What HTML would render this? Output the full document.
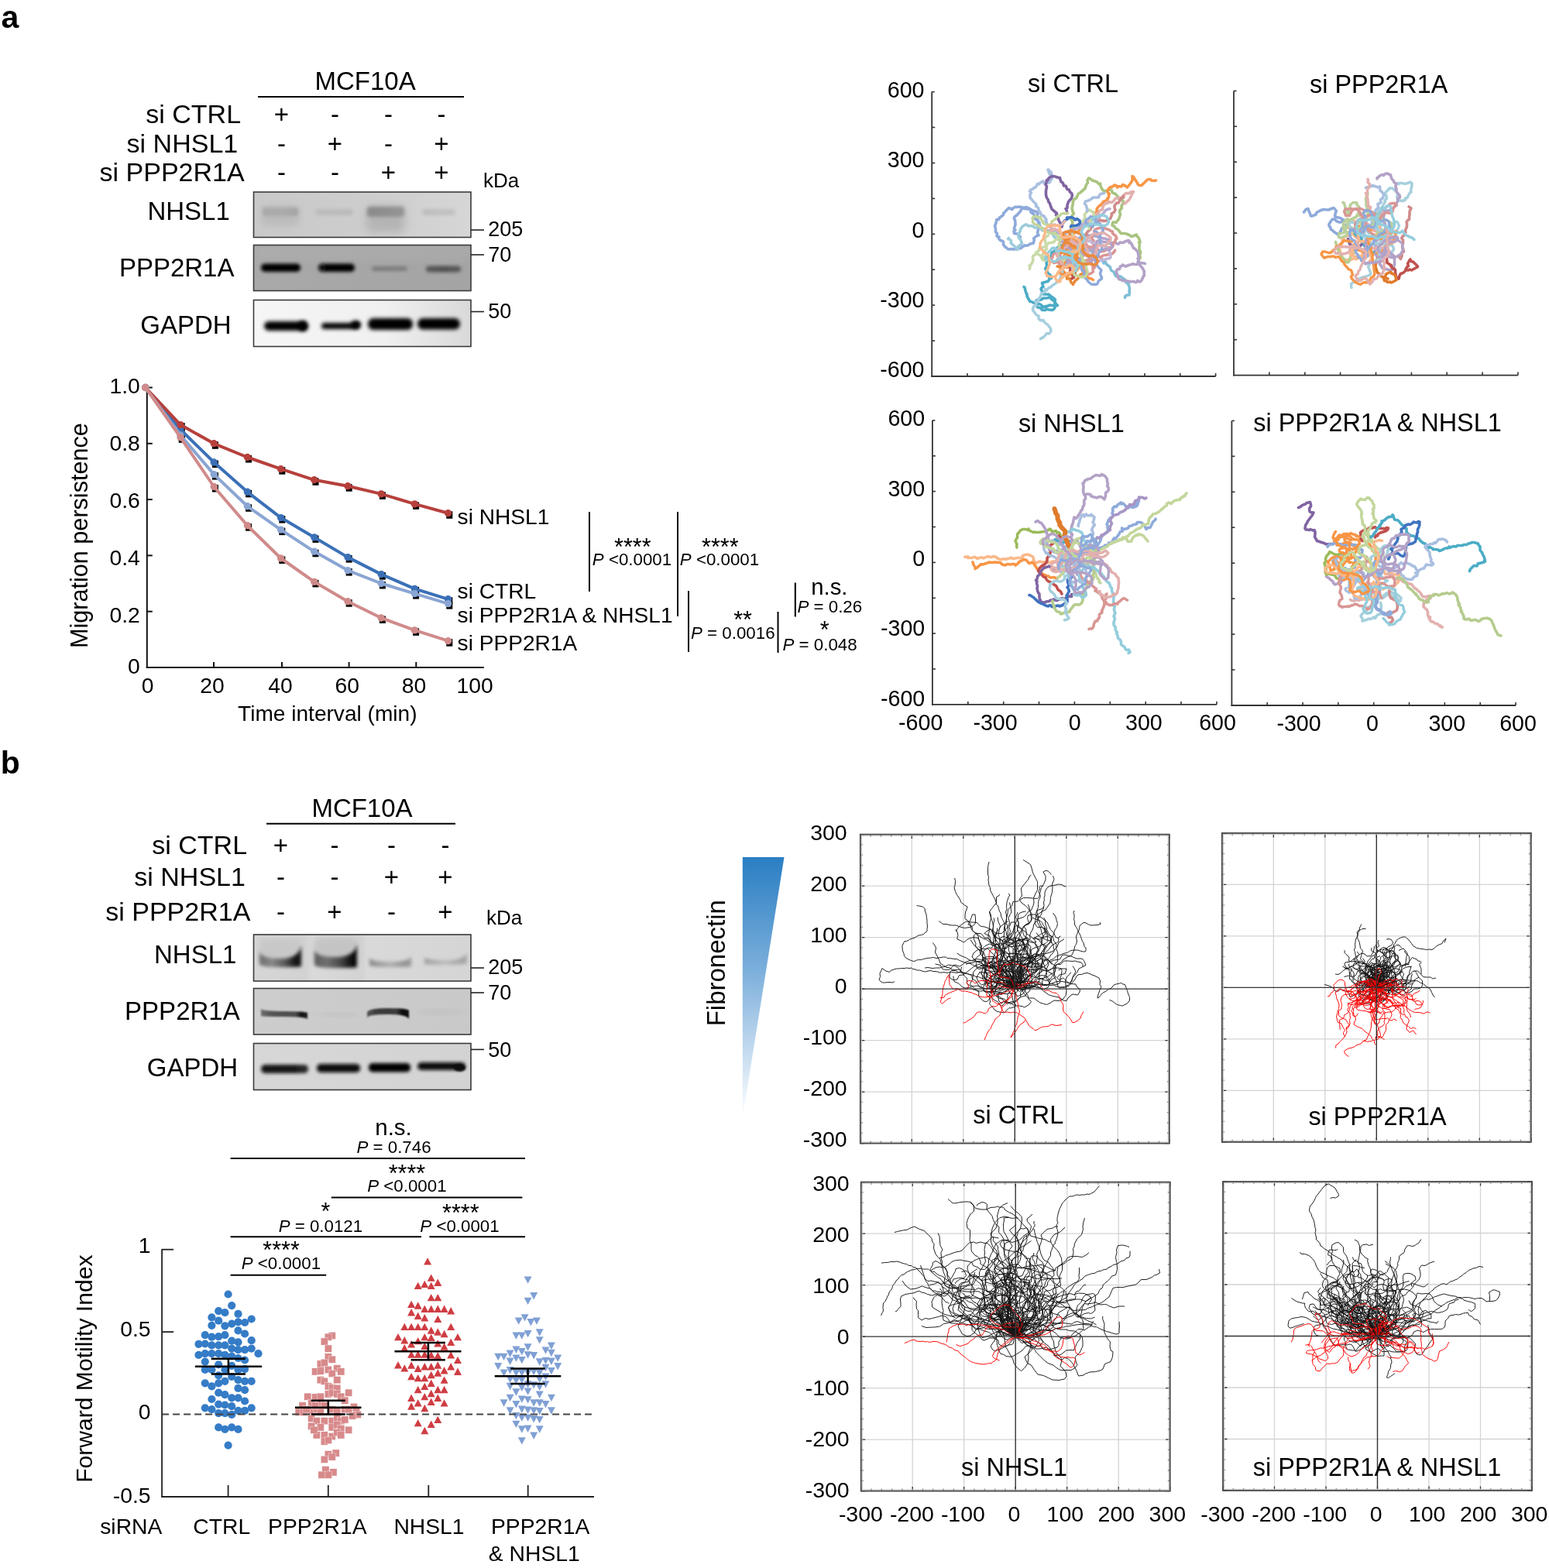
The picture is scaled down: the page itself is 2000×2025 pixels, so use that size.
<!DOCTYPE html>
<html><head><meta charset="utf-8"><title>Figure</title>
<style>
html,body{margin:0;padding:0;background:#fff;}
body{width:2000px;height:2025px;overflow:hidden;}
svg{display:block;font-family:"Liberation Sans", Arial, sans-serif;}
</style></head><body>
<svg width="2000" height="2025" viewBox="0 0 2000 2025">
<rect width="2000" height="2025" fill="#fff"/>
<text x="1.5" y="35.6" font-size="41" font-weight="bold">a</text>
<text x="0.8" y="998.7" font-size="41" font-weight="bold">b</text>
<defs>
<filter id="b2" x="-50%" y="-50%" width="200%" height="200%"><feGaussianBlur stdDeviation="2"/></filter>
<filter id="b3" x="-50%" y="-50%" width="200%" height="200%"><feGaussianBlur stdDeviation="3"/></filter>
<filter id="b4" x="-50%" y="-80%" width="200%" height="260%"><feGaussianBlur stdDeviation="4"/></filter>
<filter id="b6" x="-50%" y="-80%" width="200%" height="260%"><feGaussianBlur stdDeviation="6"/></filter>
<filter id="b1" x="-50%" y="-50%" width="200%" height="200%"><feGaussianBlur stdDeviation="1.3"/></filter>
<filter id="b25" x="-50%" y="-80%" width="200%" height="260%"><feGaussianBlur stdDeviation="2.5"/></filter>
</defs>
<text x="471.6" y="116.2" font-size="33" text-anchor="middle">MCF10A</text>
<line x1="333.0" y1="125.0" x2="599.0" y2="125.0" stroke="#000" stroke-width="2"/>
<text x="249.7" y="159.1" font-size="34" text-anchor="middle">si CTRL</text>
<text x="363.5" y="159.1" font-size="33" text-anchor="middle">+</text>
<text x="432.5" y="159.1" font-size="33" text-anchor="middle">-</text>
<text x="501.5" y="159.1" font-size="33" text-anchor="middle">-</text>
<text x="570.0" y="159.1" font-size="33" text-anchor="middle">-</text>
<text x="235.4" y="196.8" font-size="34" text-anchor="middle">si NHSL1</text>
<text x="363.5" y="196.8" font-size="33" text-anchor="middle">-</text>
<text x="432.5" y="196.8" font-size="33" text-anchor="middle">+</text>
<text x="501.5" y="196.8" font-size="33" text-anchor="middle">-</text>
<text x="570.0" y="196.8" font-size="33" text-anchor="middle">+</text>
<text x="222.1" y="234.0" font-size="34" text-anchor="middle">si PPP2R1A</text>
<text x="363.5" y="234.0" font-size="33" text-anchor="middle">-</text>
<text x="432.5" y="234.0" font-size="33" text-anchor="middle">-</text>
<text x="501.5" y="234.0" font-size="33" text-anchor="middle">+</text>
<text x="570.0" y="234.0" font-size="33" text-anchor="middle">+</text>
<text x="647.0" y="242.0" font-size="26" text-anchor="middle">kDa</text>
<text x="243.6" y="283.9" font-size="33" text-anchor="middle">NHSL1</text>
<text x="228.2" y="357.0" font-size="33" text-anchor="middle">PPP2R1A</text>
<text x="239.9" y="430.5" font-size="33" text-anchor="middle">GAPDH</text>
<clipPath id="cp1"><rect x="327.5" y="248" width="280.5" height="58.5"/></clipPath>
<linearGradient id="bg1" x1="0" y1="0" x2="1" y2="0"><stop offset="0" stop-color="#c9c9c9"/><stop offset="0.5" stop-color="#cdcdcd"/><stop offset="1" stop-color="#d6d6d6"/></linearGradient>
<g clip-path="url(#cp1)"><rect x="327.5" y="248" width="280.5" height="58.5" fill="url(#bg1)"/>
<rect x="337.0" y="266.0" width="50.0" height="26.0" rx="6" fill="#bcbcbc" opacity="1.0" filter="url(#b4)"/>
<linearGradient id="hg1" x1="0" y1="0" x2="1" y2="0"><stop offset="0" stop-color="#a8a8a8"/><stop offset="0.5" stop-color="#acacac"/><stop offset="1" stop-color="#a4a4a4"/></linearGradient><rect x="339" y="268" width="46" height="11" rx="4" fill="url(#hg1)" filter="url(#b2)"/>
<linearGradient id="hg2" x1="0" y1="0" x2="1" y2="0"><stop offset="0" stop-color="#bcbcbc"/><stop offset="1" stop-color="#bababa"/></linearGradient><rect x="407" y="270" width="49" height="8" rx="4" fill="url(#hg2)" filter="url(#b2)"/>
<rect x="473.0" y="266.0" width="50.0" height="34.0" rx="6" fill="#b4b4b4" opacity="1.0" filter="url(#b6)"/>
<linearGradient id="hg3" x1="0" y1="0" x2="1" y2="0"><stop offset="0" stop-color="#8a8a8a"/><stop offset="0.5" stop-color="#8e8e8e"/><stop offset="1" stop-color="#969696"/></linearGradient><rect x="474" y="267" width="48" height="13" rx="4" fill="url(#hg3)" filter="url(#b2)"/>
<linearGradient id="hg4" x1="0" y1="0" x2="1" y2="0"><stop offset="0" stop-color="#bcbcbc"/><stop offset="1" stop-color="#c2c2c2"/></linearGradient><rect x="545" y="270" width="43" height="8" rx="4" fill="url(#hg4)" filter="url(#b2)"/>
</g>
<rect x="327.5" y="248.0" width="280.5" height="58.5" fill="none" stroke="#3a3a3a" stroke-width="1.6"/>
<clipPath id="cp2"><rect x="327.5" y="316.5" width="280.5" height="59.0"/></clipPath>
<linearGradient id="bg2" x1="0" y1="0" x2="1" y2="0"><stop offset="0" stop-color="#a9a9a9"/><stop offset="1" stop-color="#a4a4a4"/></linearGradient>
<g clip-path="url(#cp2)"><rect x="327.5" y="316.5" width="280.5" height="59.0" fill="url(#bg2)"/>
<rect x="327" y="316" width="282" height="20" fill="#b0b0b0" opacity="0.5" filter="url(#b6)"/>
<linearGradient id="hg5" x1="0" y1="0" x2="1" y2="0"><stop offset="0" stop-color="#050505"/><stop offset="1" stop-color="#000"/></linearGradient><rect x="337" y="340.5" width="51" height="10.5" rx="5" fill="url(#hg5)" filter="url(#b2)"/>
<linearGradient id="hg6" x1="0" y1="0" x2="1" y2="0"><stop offset="0" stop-color="#080808"/><stop offset="1" stop-color="#000"/></linearGradient><rect x="411" y="340.5" width="47" height="10.5" rx="5" fill="url(#hg6)" filter="url(#b2)"/>
<linearGradient id="hg7" x1="0" y1="0" x2="1" y2="0"><stop offset="0" stop-color="#7a7a7a"/><stop offset="1" stop-color="#7e7e7e"/></linearGradient><rect x="480" y="344" width="46" height="6" rx="3" fill="url(#hg7)" filter="url(#b2)"/>
<linearGradient id="hg8" x1="0" y1="0" x2="1" y2="0"><stop offset="0" stop-color="#5a5a5a"/><stop offset="0.5" stop-color="#4e4e4e"/><stop offset="1" stop-color="#5a5a5a"/></linearGradient><rect x="550" y="343.5" width="45" height="8.0" rx="4" fill="url(#hg8)" filter="url(#b2)"/>
</g>
<rect x="327.5" y="316.5" width="280.5" height="59.0" fill="none" stroke="#3a3a3a" stroke-width="1.6"/>
<clipPath id="cp3"><rect x="327.5" y="387.5" width="280.5" height="60.0"/></clipPath>
<linearGradient id="bg3" x1="0" y1="0" x2="1" y2="0"><stop offset="0" stop-color="#f6f6f6"/><stop offset="0.6" stop-color="#f0f0f0"/><stop offset="1" stop-color="#d9d9d9"/></linearGradient>
<g clip-path="url(#cp3)"><rect x="327.5" y="387.5" width="280.5" height="60.0" fill="url(#bg3)"/>
<linearGradient id="hg9" x1="0" y1="0" x2="1" y2="0"><stop offset="0" stop-color="#000"/><stop offset="1" stop-color="#000"/></linearGradient><rect x="341" y="415" width="55" height="12" rx="6" fill="url(#hg9)" filter="url(#b25)"/>
<ellipse cx="391.5" cy="421.0" rx="6.5" ry="6.8" fill="#000" opacity="1.0" filter="url(#b25)"/>
<linearGradient id="hg10" x1="0" y1="0" x2="1" y2="0"><stop offset="0" stop-color="#000"/><stop offset="1" stop-color="#000"/></linearGradient><rect x="415" y="417" width="49" height="8" rx="4" fill="url(#hg10)" filter="url(#b25)"/>
<ellipse cx="459.5" cy="419.0" rx="6.5" ry="5.2" fill="#000" opacity="1.0" filter="url(#b25)"/>
<linearGradient id="hg11" x1="0" y1="0" x2="1" y2="0"><stop offset="0" stop-color="#000"/><stop offset="1" stop-color="#000"/></linearGradient><rect x="475" y="411" width="58" height="15" rx="7" fill="url(#hg11)" filter="url(#b25)"/>
<linearGradient id="hg12" x1="0" y1="0" x2="1" y2="0"><stop offset="0" stop-color="#000"/><stop offset="1" stop-color="#000"/></linearGradient><rect x="539" y="411" width="55" height="14.5" rx="7" fill="url(#hg12)" filter="url(#b25)"/>
</g>
<rect x="327.5" y="387.5" width="280.5" height="60.0" fill="none" stroke="#3a3a3a" stroke-width="1.6"/>
<line x1="608.0" y1="297.0" x2="625.0" y2="297.0" stroke="#222" stroke-width="1.6"/>
<text x="630.3" y="305.0" font-size="27">205</text>
<line x1="608.0" y1="329.0" x2="625.0" y2="329.0" stroke="#222" stroke-width="1.6"/>
<text x="630.3" y="338.0" font-size="27">70</text>
<line x1="608.0" y1="402.5" x2="625.0" y2="402.5" stroke="#222" stroke-width="1.6"/>
<text x="630.3" y="411.0" font-size="27">50</text>
<text x="467.5" y="1054.6" font-size="33" text-anchor="middle">MCF10A</text>
<line x1="344.0" y1="1063.7" x2="588.0" y2="1063.7" stroke="#000" stroke-width="2"/>
<text x="257.7" y="1103.4" font-size="34" text-anchor="middle">si CTRL</text>
<text x="362.5" y="1103.4" font-size="33" text-anchor="middle">+</text>
<text x="432.0" y="1103.4" font-size="33" text-anchor="middle">-</text>
<text x="505.5" y="1103.4" font-size="33" text-anchor="middle">-</text>
<text x="575.0" y="1103.4" font-size="33" text-anchor="middle">-</text>
<text x="245.1" y="1143.7" font-size="34" text-anchor="middle">si NHSL1</text>
<text x="362.5" y="1143.7" font-size="33" text-anchor="middle">-</text>
<text x="432.0" y="1143.7" font-size="33" text-anchor="middle">-</text>
<text x="505.5" y="1143.7" font-size="33" text-anchor="middle">+</text>
<text x="575.0" y="1143.7" font-size="33" text-anchor="middle">+</text>
<text x="229.8" y="1189.2" font-size="34" text-anchor="middle">si PPP2R1A</text>
<text x="362.5" y="1189.2" font-size="33" text-anchor="middle">-</text>
<text x="432.0" y="1189.2" font-size="33" text-anchor="middle">+</text>
<text x="505.5" y="1189.2" font-size="33" text-anchor="middle">-</text>
<text x="575.0" y="1189.2" font-size="33" text-anchor="middle">+</text>
<text x="651.0" y="1194.0" font-size="26" text-anchor="middle">kDa</text>
<text x="252.2" y="1243.5" font-size="33" text-anchor="middle">NHSL1</text>
<text x="235.4" y="1317.0" font-size="33" text-anchor="middle">PPP2R1A</text>
<text x="248.5" y="1390.0" font-size="33" text-anchor="middle">GAPDH</text>
<clipPath id="cp4"><rect x="327.5" y="1207" width="280.5" height="60"/></clipPath>
<linearGradient id="bg4" x1="0" y1="0" x2="1" y2="0"><stop offset="0" stop-color="#d6d6d6"/><stop offset="0.24" stop-color="#d2d2d2"/><stop offset="0.27" stop-color="#dadada"/><stop offset="0.5" stop-color="#d3d3d3"/><stop offset="0.52" stop-color="#d9d9d9"/><stop offset="1" stop-color="#d5d5d5"/></linearGradient>
<g clip-path="url(#cp4)"><rect x="327.5" y="1207" width="280.5" height="60" fill="url(#bg4)"/>
<rect x="334.0" y="1212.0" width="55.0" height="34.0" rx="6" fill="#c8c8c8" opacity="1.0" filter="url(#b4)"/>
<rect x="405.0" y="1210.0" width="56.0" height="36.0" rx="6" fill="#c4c4c4" opacity="1.0" filter="url(#b4)"/>
<linearGradient id="hg13" x1="0" y1="0" x2="1" y2="0"><stop offset="0" stop-color="#6e6e6e"/><stop offset="0.3" stop-color="#888"/><stop offset="0.6" stop-color="#5a5a5a"/><stop offset="0.88" stop-color="#0e0e0e"/><stop offset="1" stop-color="#1e1e1e"/></linearGradient><path d="M335 1229Q338 1238 362.0 1238Q386 1238 389 1221L389 1248Q386 1249 362.0 1249Q338 1249 335 1245Z" fill="url(#hg13)" filter="url(#b2)"/>
<linearGradient id="hg14" x1="0" y1="0" x2="1" y2="0"><stop offset="0" stop-color="#5e5e5e"/><stop offset="0.3" stop-color="#707070"/><stop offset="0.6" stop-color="#4a4a4a"/><stop offset="0.88" stop-color="#0c0c0c"/><stop offset="1" stop-color="#1a1a1a"/></linearGradient><path d="M406 1227Q409 1236 433.5 1236Q458 1236 461 1219L461 1249Q458 1250 433.5 1250Q409 1250 406 1246Z" fill="url(#hg14)" filter="url(#b2)"/>
<linearGradient id="hg15" x1="0" y1="0" x2="1" y2="0"><stop offset="0" stop-color="#8c8c8c"/><stop offset="0.2" stop-color="#9c9c9c"/><stop offset="0.5" stop-color="#b0b0b0"/><stop offset="0.85" stop-color="#929292"/><stop offset="1" stop-color="#9a9a9a"/></linearGradient><path d="M477 1237Q480 1242 504.0 1242Q528 1242 531 1235L531 1248Q528 1249 504.0 1249Q480 1249 477 1247Z" fill="url(#hg15)" filter="url(#b2)"/>
<linearGradient id="hg16" x1="0" y1="0" x2="1" y2="0"><stop offset="0" stop-color="#a0a0a0"/><stop offset="0.2" stop-color="#acacac"/><stop offset="0.5" stop-color="#bcbcbc"/><stop offset="0.9" stop-color="#a4a4a4"/><stop offset="1" stop-color="#aaaaaa"/></linearGradient><path d="M548 1236Q551 1240 575.5 1240Q600 1240 603 1230L603 1244Q600 1246 575.5 1246Q551 1246 548 1245Z" fill="url(#hg16)" filter="url(#b2)"/>
</g>
<rect x="327.5" y="1207.0" width="280.5" height="60.0" fill="none" stroke="#3a3a3a" stroke-width="1.6"/>
<clipPath id="cp5"><rect x="327.5" y="1276.5" width="280.5" height="59.5"/></clipPath>
<linearGradient id="bg5" x1="0" y1="0" x2="1" y2="0"><stop offset="0" stop-color="#cdcdcd"/><stop offset="1" stop-color="#c9c9c9"/></linearGradient>
<g clip-path="url(#cp5)"><rect x="327.5" y="1276.5" width="280.5" height="59.5" fill="url(#bg5)"/>
<linearGradient id="hg17" x1="0" y1="0" x2="1" y2="0"><stop offset="0" stop-color="#707070"/><stop offset="0.2" stop-color="#555"/><stop offset="0.75" stop-color="#4a4a4a"/><stop offset="0.86" stop-color="#151515"/><stop offset="1" stop-color="#222"/></linearGradient><path d="M337 1303Q340 1306 367.0 1306Q394 1306 397 1308L397 1316Q394 1313 367.0 1313Q340 1313 337 1312Z" fill="url(#hg17)" filter="url(#b1)"/>
<ellipse cx="437.5" cy="1311.0" rx="27.5" ry="2.0" fill="#c0c0c0" opacity="1.0" filter="url(#b3)"/>
<linearGradient id="hg18" x1="0" y1="0" x2="1" y2="0"><stop offset="0" stop-color="#5a5a5a"/><stop offset="0.2" stop-color="#3c3c3c"/><stop offset="0.7" stop-color="#3a3a3a"/><stop offset="0.85" stop-color="#0a0a0a"/><stop offset="1" stop-color="#111"/></linearGradient><path d="M474 1307Q477 1302 501.0 1302Q525 1302 528 1305L528 1316Q525 1310 501.0 1310Q477 1310 474 1314Z" fill="url(#hg18)" filter="url(#b1)"/>
<ellipse cx="569.0" cy="1307.0" rx="29.0" ry="2.5" fill="#bfbfbf" opacity="1.0" filter="url(#b3)"/>
</g>
<rect x="327.5" y="1276.5" width="280.5" height="59.5" fill="none" stroke="#3a3a3a" stroke-width="1.6"/>
<clipPath id="cp6"><rect x="327.5" y="1347.5" width="280.5" height="60.0"/></clipPath>
<linearGradient id="bg6" x1="0" y1="0" x2="1" y2="0"><stop offset="0" stop-color="#d7d7d7"/><stop offset="1" stop-color="#d3d3d3"/></linearGradient>
<g clip-path="url(#cp6)"><rect x="327.5" y="1347.5" width="280.5" height="60.0" fill="url(#bg6)"/>
<linearGradient id="hg19" x1="0" y1="0" x2="1" y2="0"><stop offset="0" stop-color="#1a1a1a"/><stop offset="0.7" stop-color="#151515"/><stop offset="0.85" stop-color="#262626"/><stop offset="1" stop-color="#2a2a2a"/></linearGradient><rect x="337" y="1375" width="61" height="11" rx="5" fill="url(#hg19)" filter="url(#b2)"/>
<linearGradient id="hg20" x1="0" y1="0" x2="1" y2="0"><stop offset="0" stop-color="#0e0e0e"/><stop offset="1" stop-color="#0a0a0a"/></linearGradient><rect x="409" y="1374" width="56" height="11" rx="5" fill="url(#hg20)" filter="url(#b2)"/>
<linearGradient id="hg21" x1="0" y1="0" x2="1" y2="0"><stop offset="0" stop-color="#050505"/><stop offset="1" stop-color="#050505"/></linearGradient><rect x="476" y="1373" width="54" height="11.5" rx="5" fill="url(#hg21)" filter="url(#b2)"/>
<linearGradient id="hg22" x1="0" y1="0" x2="1" y2="0"><stop offset="0" stop-color="#0a0a0a"/><stop offset="1" stop-color="#0a0a0a"/></linearGradient><rect x="539" y="1372" width="62" height="10" rx="5" fill="url(#hg22)" filter="url(#b2)"/>
<ellipse cx="593.5" cy="1379.0" rx="7.5" ry="4.5" fill="#0a0a0a" opacity="1.0" filter="url(#b1)"/>
</g>
<rect x="327.5" y="1347.5" width="280.5" height="60.0" fill="none" stroke="#3a3a3a" stroke-width="1.6"/>
<line x1="608.0" y1="1250.0" x2="625.0" y2="1250.0" stroke="#222" stroke-width="1.6"/>
<text x="630.3" y="1258.0" font-size="27">205</text>
<line x1="608.0" y1="1282.0" x2="625.0" y2="1282.0" stroke="#222" stroke-width="1.6"/>
<text x="630.3" y="1291.0" font-size="27">70</text>
<line x1="608.0" y1="1355.4" x2="625.0" y2="1355.4" stroke="#222" stroke-width="1.6"/>
<text x="630.3" y="1364.6" font-size="27">50</text>
<line x1="189.8" y1="499.5" x2="189.8" y2="863.0" stroke="#111" stroke-width="2"/>
<line x1="188.8" y1="862.0" x2="624.8" y2="862.0" stroke="#111" stroke-width="2"/>
<line x1="189.8" y1="789.7" x2="196.8" y2="789.7" stroke="#111" stroke-width="2"/>
<line x1="189.8" y1="717.4" x2="196.8" y2="717.4" stroke="#111" stroke-width="2"/>
<line x1="189.8" y1="645.1" x2="196.8" y2="645.1" stroke="#111" stroke-width="2"/>
<line x1="189.8" y1="572.8" x2="196.8" y2="572.8" stroke="#111" stroke-width="2"/>
<line x1="189.8" y1="500.5" x2="196.8" y2="500.5" stroke="#111" stroke-width="2"/>
<line x1="276.0" y1="862.0" x2="276.0" y2="855.0" stroke="#111" stroke-width="2"/>
<line x1="364.0" y1="862.0" x2="364.0" y2="855.0" stroke="#111" stroke-width="2"/>
<line x1="450.6" y1="862.0" x2="450.6" y2="855.0" stroke="#111" stroke-width="2"/>
<line x1="537.3" y1="862.0" x2="537.3" y2="855.0" stroke="#111" stroke-width="2"/>
<text x="180.8" y="508.0" font-size="28.3" text-anchor="end">1.0</text>
<text x="180.8" y="582.3" font-size="28.3" text-anchor="end">0.8</text>
<text x="180.8" y="656.1" font-size="28.3" text-anchor="end">0.6</text>
<text x="180.8" y="729.8" font-size="28.3" text-anchor="end">0.4</text>
<text x="180.8" y="803.6" font-size="28.3" text-anchor="end">0.2</text>
<text x="180.8" y="869.6" font-size="28.3" text-anchor="end">0</text>
<text x="190.5" y="894.9" font-size="28.3" text-anchor="middle">0</text>
<text x="274.0" y="894.9" font-size="28.3" text-anchor="middle">20</text>
<text x="362.0" y="894.9" font-size="28.3" text-anchor="middle">40</text>
<text x="448.3" y="894.9" font-size="28.3" text-anchor="middle">60</text>
<text x="534.5" y="894.9" font-size="28.3" text-anchor="middle">80</text>
<text x="613.2" y="894.9" font-size="28.3" text-anchor="middle">100</text>
<text x="422.8" y="931.0" font-size="28.1" text-anchor="middle">Time interval (min)</text>
<text x="113.3" y="691.6" font-size="30.6" text-anchor="middle" transform="rotate(-90 113.3 691.6)">Migration persistence</text>
<rect x="230.7" y="552.2" width="8" height="9.5" fill="#000"/>
<rect x="273.9" y="594.5" width="8" height="9.5" fill="#000"/>
<rect x="317.1" y="632.8" width="8" height="9.5" fill="#000"/>
<rect x="360.3" y="666.1" width="8" height="9.5" fill="#000"/>
<rect x="403.5" y="691.4" width="8" height="9.5" fill="#000"/>
<rect x="446.7" y="717.1" width="8" height="9.5" fill="#000"/>
<rect x="489.9" y="739.1" width="8" height="9.5" fill="#000"/>
<rect x="533.1" y="757.9" width="8" height="9.5" fill="#000"/>
<rect x="576.3" y="771.3" width="8" height="9.5" fill="#000"/>
<rect x="230.7" y="546.1" width="8" height="9.5" fill="#000"/>
<rect x="273.9" y="570.3" width="8" height="9.5" fill="#000"/>
<rect x="317.1" y="588.0" width="8" height="9.5" fill="#000"/>
<rect x="360.3" y="603.2" width="8" height="9.5" fill="#000"/>
<rect x="403.5" y="617.3" width="8" height="9.5" fill="#000"/>
<rect x="446.7" y="625.2" width="8" height="9.5" fill="#000"/>
<rect x="489.9" y="635.4" width="8" height="9.5" fill="#000"/>
<rect x="533.1" y="648.4" width="8" height="9.5" fill="#000"/>
<rect x="576.3" y="660.3" width="8" height="9.5" fill="#000"/>
<rect x="230.7" y="559.5" width="8" height="9.5" fill="#000"/>
<rect x="273.9" y="610.1" width="8" height="9.5" fill="#000"/>
<rect x="317.1" y="651.3" width="8" height="9.5" fill="#000"/>
<rect x="360.3" y="681.6" width="8" height="9.5" fill="#000"/>
<rect x="403.5" y="709.8" width="8" height="9.5" fill="#000"/>
<rect x="446.7" y="734.1" width="8" height="9.5" fill="#000"/>
<rect x="489.9" y="751.0" width="8" height="9.5" fill="#000"/>
<rect x="533.1" y="764.1" width="8" height="9.5" fill="#000"/>
<rect x="576.3" y="777.1" width="8" height="9.5" fill="#000"/>
<rect x="230.7" y="562.3" width="8" height="9.5" fill="#000"/>
<rect x="273.9" y="626.0" width="8" height="9.5" fill="#000"/>
<rect x="317.1" y="676.2" width="8" height="9.5" fill="#000"/>
<rect x="360.3" y="718.5" width="8" height="9.5" fill="#000"/>
<rect x="403.5" y="748.9" width="8" height="9.5" fill="#000"/>
<rect x="446.7" y="774.2" width="8" height="9.5" fill="#000"/>
<rect x="489.9" y="795.5" width="8" height="9.5" fill="#000"/>
<rect x="533.1" y="811.4" width="8" height="9.5" fill="#000"/>
<rect x="576.3" y="825.2" width="8" height="9.5" fill="#000"/>
<polyline points="187.8,500.5 233.0,554.7 276.2,597.0 319.4,635.3 362.6,668.6 405.8,693.9 449.0,719.6 492.2,741.6 535.4,760.4 578.6,773.8" fill="none" stroke="#3b70b6" stroke-width="4" stroke-linejoin="round"/>
<circle cx="187.8" cy="500.5" r="4.7" fill="#3b70b6"/>
<circle cx="233.0" cy="554.7" r="4.7" fill="#3b70b6"/>
<circle cx="276.2" cy="597.0" r="4.7" fill="#3b70b6"/>
<circle cx="319.4" cy="635.3" r="4.7" fill="#3b70b6"/>
<circle cx="362.6" cy="668.6" r="4.7" fill="#3b70b6"/>
<circle cx="405.8" cy="693.9" r="4.7" fill="#3b70b6"/>
<circle cx="449.0" cy="719.6" r="4.7" fill="#3b70b6"/>
<circle cx="492.2" cy="741.6" r="4.7" fill="#3b70b6"/>
<circle cx="535.4" cy="760.4" r="4.7" fill="#3b70b6"/>
<circle cx="578.6" cy="773.8" r="4.7" fill="#3b70b6"/>
<polyline points="187.8,500.5 233.0,548.6 276.2,572.8 319.4,590.5 362.6,605.7 405.8,619.8 449.0,627.7 492.2,637.9 535.4,650.9 578.6,662.8" fill="none" stroke="#b6403c" stroke-width="4" stroke-linejoin="round"/>
<circle cx="187.8" cy="500.5" r="4.7" fill="#b6403c"/>
<circle cx="233.0" cy="548.6" r="4.7" fill="#b6403c"/>
<circle cx="276.2" cy="572.8" r="4.7" fill="#b6403c"/>
<circle cx="319.4" cy="590.5" r="4.7" fill="#b6403c"/>
<circle cx="362.6" cy="605.7" r="4.7" fill="#b6403c"/>
<circle cx="405.8" cy="619.8" r="4.7" fill="#b6403c"/>
<circle cx="449.0" cy="627.7" r="4.7" fill="#b6403c"/>
<circle cx="492.2" cy="637.9" r="4.7" fill="#b6403c"/>
<circle cx="535.4" cy="650.9" r="4.7" fill="#b6403c"/>
<circle cx="578.6" cy="662.8" r="4.7" fill="#b6403c"/>
<polyline points="187.8,500.5 233.0,562.0 276.2,612.6 319.4,653.8 362.6,684.1 405.8,712.3 449.0,736.6 492.2,753.5 535.4,766.6 578.6,779.6" fill="none" stroke="#8aa5d3" stroke-width="4" stroke-linejoin="round"/>
<circle cx="187.8" cy="500.5" r="4.7" fill="#8aa5d3"/>
<circle cx="233.0" cy="562.0" r="4.7" fill="#8aa5d3"/>
<circle cx="276.2" cy="612.6" r="4.7" fill="#8aa5d3"/>
<circle cx="319.4" cy="653.8" r="4.7" fill="#8aa5d3"/>
<circle cx="362.6" cy="684.1" r="4.7" fill="#8aa5d3"/>
<circle cx="405.8" cy="712.3" r="4.7" fill="#8aa5d3"/>
<circle cx="449.0" cy="736.6" r="4.7" fill="#8aa5d3"/>
<circle cx="492.2" cy="753.5" r="4.7" fill="#8aa5d3"/>
<circle cx="535.4" cy="766.6" r="4.7" fill="#8aa5d3"/>
<circle cx="578.6" cy="779.6" r="4.7" fill="#8aa5d3"/>
<polyline points="187.8,500.5 233.0,564.8 276.2,628.5 319.4,678.7 362.6,721.0 405.8,751.4 449.0,776.7 492.2,798.0 535.4,813.9 578.6,827.7" fill="none" stroke="#d08a8a" stroke-width="4" stroke-linejoin="round"/>
<circle cx="187.8" cy="500.5" r="4.7" fill="#d08a8a"/>
<circle cx="233.0" cy="564.8" r="4.7" fill="#d08a8a"/>
<circle cx="276.2" cy="628.5" r="4.7" fill="#d08a8a"/>
<circle cx="319.4" cy="678.7" r="4.7" fill="#d08a8a"/>
<circle cx="362.6" cy="721.0" r="4.7" fill="#d08a8a"/>
<circle cx="405.8" cy="751.4" r="4.7" fill="#d08a8a"/>
<circle cx="449.0" cy="776.7" r="4.7" fill="#d08a8a"/>
<circle cx="492.2" cy="798.0" r="4.7" fill="#d08a8a"/>
<circle cx="535.4" cy="813.9" r="4.7" fill="#d08a8a"/>
<circle cx="578.6" cy="827.7" r="4.7" fill="#d08a8a"/>
<text x="590.6" y="676.8" font-size="28.1">si NHSL1</text>
<text x="590.6" y="773.0" font-size="28.1">si CTRL</text>
<text x="590.6" y="804.0" font-size="28.1">si PPP2R1A &amp; NHSL1</text>
<text x="590.6" y="839.5" font-size="28.1">si PPP2R1A</text>
<line x1="761.0" y1="661.0" x2="761.0" y2="764.0" stroke="#000" stroke-width="2"/>
<line x1="875.0" y1="661.0" x2="875.0" y2="796.0" stroke="#000" stroke-width="2"/>
<line x1="889.0" y1="763.0" x2="889.0" y2="842.0" stroke="#000" stroke-width="2"/>
<line x1="1004.5" y1="790.0" x2="1004.5" y2="843.0" stroke="#000" stroke-width="2"/>
<line x1="1026.8" y1="752.5" x2="1026.8" y2="796.5" stroke="#000" stroke-width="2"/>
<text x="816.8" y="716.5" font-size="30.5" text-anchor="middle">****</text>
<text x="816.0" y="730.0" font-size="22.3" text-anchor="middle"><tspan font-style="italic">P</tspan> &lt;0.0001</text>
<text x="929.8" y="716.5" font-size="30.5" text-anchor="middle">****</text>
<text x="929.0" y="730.0" font-size="22.3" text-anchor="middle"><tspan font-style="italic">P</tspan> &lt;0.0001</text>
<text x="959.1" y="811.0" font-size="30.5" text-anchor="middle">**</text>
<text x="946.3" y="825.0" font-size="22.3" text-anchor="middle"><tspan font-style="italic">P</tspan> = 0.0016</text>
<text x="1070.9" y="767.7" font-size="29.3" text-anchor="middle">n.s.</text>
<text x="1071.3" y="790.6" font-size="22.3" text-anchor="middle"><tspan font-style="italic">P</tspan> = 0.26</text>
<text x="1064.8" y="824.0" font-size="30.5" text-anchor="middle">*</text>
<text x="1058.6" y="839.5" font-size="22.3" text-anchor="middle"><tspan font-style="italic">P</tspan> = 0.048</text>
<g transform="scale(0.5)" fill="none" stroke-width="7.2" stroke-linejoin="round" stroke-linecap="round">
<path d="M2746 605l-3-2-5-1-1 1-3-1-6 0-9 0-4-1-8-5-5-1-2-1-2-2-3-1-5 1-2-3-3-7-3-4 0-4-4-6-3-1-4-4 0-9-2-1-7-5-1-6-2-2-7 0-1 0-2-1-6-3-5-1-7-1-7 1-1-1-8 4-1 3-9-4-3 3-6 6-1 2-4 3 0 4-4 3-7 5 0 3-7 2 1 0-2 8-3 8 1 2 1 5 0 6 0 2 4 4-1 7 6 2-1 4 3 4 5 2 4 2 0 8 5 6 3 2 3 3 5 1 5-1 5 1 8-1 2-2 5 1 4-1 9-7 0 1 6-1 3 0 6-4 9-2 0-4 2-4-2-4 7-6 2-1 4-1-3-7 1-4 3-12 1-6 0-5-2 1-2-4 0-5-2-2 0-6 2-7-3-4-4-1-6-2-8-5-4-2-7-2-2 4-2-1-6 1-3 7-6 6-1 2-8 6-1 1 0 5 2 2 1 9 0 4-3 7 0 4 3 2-4 4 1 5 8 1 5 4 3 4" stroke="#8eaadb"/>
<path d="M2722 596l1 0-4-2-7-8-5-1-3-5-1-5-3-4 2-4-2-2-4-7-4-1-6-6 0-3-3-3-2-8-6-5 1-4-4-4-5-5-3-4-4-4 0-9 3-4-4-4 3-4 4-1 4-4 5-2 4-8 4 1 2-3 8-5 4 6 2 0 9-2 3-1 1-5 4-4 1-7-2-6-1-5-8-5 2 2-1-3 2 9 5 8-1 5" stroke="#a9bfe0"/>
<path d="M2742 586l1-4-6-7-2-4-4-8 2 0-6-8 2-1 0-3-6-5-7-6-1-3-2-5-1-3-1-4-3-3-2-7-3-4-1-4-1-4 0-8 0-2 1-5 1-7-3-4 1-2 2-10 2 1 4-7 4-2 5-2 7 1 2 1 6 2 4 0 1 5 2 5 5 4 2 7 5 0 3 7 1 2 5 1 0 2 3 5 3 2 2 5-1 4-2 6-4 3-1 2-2 2-3 9 0 7-4 2 3 6" stroke="#8064a2"/>
<path d="M2773 592l-2-6 1 0-4-4 2-9-4-6 1-6 1-3 2-3 3-3-3-6-2-8 1-5 2-7-1-3 2-4 2-5 5-2 2-4 4-8 2-1 2-1 6-5 3-3 4-3 2-7 2-4 3-4-1-6 3-6 5 2 3 3 5 2 9 3 4 5 4-1 1 6 4 9 3 3 6 2 5-2 4-2 6 0 3 8 2 1 6 2 2 3 5 5 2 6 7 1 1 1 3 3-1 5-4 7 1 5-5 6-1 4 2 7-3 9-1 3-2 2-5 7 1-1-9 0-1 4-1 4 2 1 3 1 4 6 6 3 3 4 5 6 7 0 3 0 4 1 7 3 6 4 3-1 10-4 1 4 4 4 2 4 2 7-3 1 2 3-1 8 0 7 3 6 0 4-3 5 2 3 0 5" stroke="#a9c47f"/>
<path d="M2769 605l6-3 2-2 6-1 4-4 2-2-1 0 8-7 5-2 5-2 0-3 8-4 1-6 1 0 7-3 3 1 1-8 3-3 0-8 3-3-1-5 2-3 3-4 2-1 6-5 4-6 3-1 7-4 2-2-1-2 3-2 0-6 2-3-4-3-1-6 4-6 2-2 7-2 5-4 5 2 2 4 4-3 7 1 3-5 7 3 5 4 4-5 4-5 5-8 0-11 3 2 5 8 2 3 2 3 3 6 4 2 4 0 5-4 5-5 1-1 5-5 8-1 2 3 8 1 4-1" stroke="#f79646"/>
<path d="M2767 620l0 1-1 3-1 2-4 0-4 8-1 3-4 8-4 3-1 2-3 1-5 3-4 6 3 1-5 6-3 5 3 5 2 2 2 3 0 5 2 7 4 3 5 6 4 4 4 3-1 10 8-1 1 6 3 6 2 0 2 4 1-3 4-6 3-3 5-4 1-4 4-5 3-2 5 0 1-8-3 0 0-7 2-7-1-3-7-3 1-7-2-2-3-2-1-3-4-4-5-4-7 2-3-4-6-5 1-3 1-6 2-3 2-6 6 0 3 1 4 5 7 0 6 2 2 2 6-2 8 2 3-2 3 3 3-1" stroke="#ea8a3a"/>
<path d="M2769 620l4-3-5 6-3 3 1 6-8 7-5 7-2 4 2 4-4 0 2 8-1 7 2 5-4 3 6 5 3 0 1 7 7 4-2 7 3 5 3 4 1 4 1 3-3 4 3-3 2 0 0-5 3-4 1-10 4-4 0-5 0-5-2-6-2-5-3-2-4-4-2-4 2-4-4-4-1-6" stroke="#c0504d"/>
<path d="M2750 623l-2 2-1 4-2 4-5 2-4 3-4 0-4 6-5 4-1 3 0-1-6 2-2 11-10 3 0 2 0-1 0 7-2 5 1 5 0 4-4 6 5 7 2 5 6 4 3 9-5-3-1 7-3 4-6 1-2 1-7 2 3 10-5 3-1 3 3 5 0 6 4 2 7 0 6 1 0-1 4 4 7 5 5 4 1 2-2 6 3 7-1 5-2 3-2 3-5 2-7-1-8-2-1 3-7 0-3-1-2-4-10-3-1-5-3-6 1-5 7-4 3 2 7-3 2-2 8 0 6-1 4 0 4 4 0 1 7 3 3 7 5 5-4-2-1 2-8 0-7-1-7 3-4 0-6 2-6-6-4-2-7-1-3-3-4 2-3-2-4-2-3 0-6-10-2-5 0-5-1 1-3-9-2-9-2-1" stroke="#4bacc6"/>
<path d="M2769 600l-3 6 0 4 2 8 4 7-2 4 2 8-4 4-1 3-3 2-3 3 1 7-5 8 2 7 0 2-3 7-3 6-1 1-6 4-3 5 0 6-1 3-3 7 0 5-4 6-4 4 0 1-2 0-3 4-8 5-5 5-4 1-2 2-2 1-2 4-4-3-2 7-8 5-2 7-5 6-2 7-3 2-2-2 0 5 0 6-5 1-2 3-1 7 3 4 3 4 4 5 5 2 0 7 5 4 1 1 6-1 3 5 7 6 2 1 5 7 2 2 1 7-1 2-4 5-6-1-4 5-4 5-5 2-3 2" stroke="#a6cfe0"/>
<path d="M2725 613l1 1-4-2-2-5-6-6-5 0-4-3-6-3-8 0-4-6-6-3-2 2-8 0-2-3-7-2-6 1-5-4-3 0-3 2-5 3-5 8-1 6-2 2-2 5 0 7 3 4 2 1 4 10-1 2-9 7 0 4-2 4-1-4-3-2-8-7-5-5 1-6-8-4 2-2" stroke="#9dcbdc"/>
<path d="M2792 635l8 4 2 0 3 3 7 1 1 3 5 3 6 5 6 0 4 5 1 2 6 4 3-1 0 4 5 8 1 4 5-3 1 4 3 3 4 3 4 3 1 5 2 4 6 3 2 5 2 4 2 3 4-1 8 1 7 6 3 1 3 7 1 2 7 4-1 2 2 4 1 7-1 5 1 1-1 9-6 0-5 4 0 3" stroke="#7fbfd6"/>
<path d="M2796 607l-2-2 1 2 5-1 7 2 5 0 5 1 3 1 3-1 12 2 1 2 4-3 4 5 7 1 3 0 8 4 2-2 2 9 3 0 6 0 5-2 4 5 5 0 3-4 8 1 3-2 7-3 5-1 2 3-1 3 4 0 4 7 3 7 2 0 6 6 3 3 1 6 1 5 1 4-3 3 3 5-3 4 2 4 4 4 3 4 4 4 2 6 2 1-1 6 1 4-4 7-3 7-4 4-7-3 0 3-5 1-5-2-4 0-4 1-11-3-3 0-6 0-6-3-4-1 0-2-1 0-1-5-3-7-1-7 2-4 6-1 2-7 4-1 2-3 1 1 7 3 7-3 8-2 4-2 3 2 7 0 4-3 2-1 4 0 9 1 2 1" stroke="#b3a2c7"/>
<path d="M2769 617l1 4 8-1 2 1 10 4 2-3 3 6 8 1 2 1 1 4 3 4 3-1 8 2 7 4 2 4 7-2 7 5 3-2 3 1 7-3 2-4 4 1 1-4 6 2 5-5 1-7 2-3 2-1 2-7 3-2-3-7-8-6 0-5-6-2-1-1-3-2-7-2-6-3-4-1-2-1-4 3-6 1-6 3-3 4 4 6-3 2-6 6-1 4 3 5 2 1-1 8 1 7 2 6-2 3-1 7 7 4 2 2 8 6 3 3 2-5 6-3 5 0 12-3 2 0 3-1 6-7 0-2" stroke="#d99694"/>
<path d="M2795 591l-2-5 4 0 3-6 2-2 1-3 6 0 3-3 2-4 4-3 4-5 3-5 8-3 2 1 5-9 2-1 4-1 2-6 1-5 5-5 3-2 3 1 3-4 6 2 3-1 4-3 4-6 4-1 2 0 9-1 7-3 2-6 2-2 4-1 3 1 11-5 3 0-1 2-2 3-3 6-2 4-3 6-4 3-6 6-3 1" stroke="#e2b0ae"/>
<path d="M2794 622l3 2 1-6 3-2 1-6 3-2 1-6 5-6 4-2 3-6 3-3 4-5 5-5 2-1 4-2 5-4 6 3 3-1 2 1 8-2 1-2 6-2 4-9 0-1-1-3 7-4 3-6-2-6 0-5 4-5 3-2 3 0 4-6 3-6 6-2-1-4" stroke="#cf8a8a"/>
<path d="M2722 593l5 0 4 4 2 4 6 3 6 1 1-4 7 2 4-3 7-6 2 2 7-4 0 2 7-4 5 0 0-1 8-7 6-5 7 1 7-2 2 1 1-5 3-2 2-1 6-2 7-3 5-3 3-5 4-2 3-3 3-3 1-3 4-3 3-1 6-2" stroke="#b9aed2"/>
<path d="M2769 606l0 2-1-1-6 3-6 1-4 2-6 3-5 2-3 2-4-2-9 1-3 6-7 2-6 0-4 4-3 4-6 3-1 1-4 0-6 1-3 8-6 4-1 0 0 1-1 4-7 5 0 5 1 4-2 6-4 7-4 2 2 4-1 2 0 3" stroke="#c9dba8"/>
<path d="M2795 572l3-2 2-4 2-7-2-4 4-5 6-7 1-1 5 2 7 4 2 8-1 5-2 0-6 7 0 7 0 7-4 5 0 3 0 1" stroke="#c9dba8"/>
<path d="M2743 579l-2 0 5-4 3-5 9-5-3-3 5 0 7-1 6 3 3 4 5-3 7 5 1 7-4 2 1 1-8 3-3 0-9 0-1 3" stroke="#3f73c0"/>
<path d="M2707 608l-6 4-3 3 0 1 1 6 2 9 0 5 2 7-3 3-7 11-1 2-3 5 3 7 8 2 4-3-3-3-7-3-4-2-9-5" stroke="#c9dba8"/>
<path d="M2807 545l1-3-2-6-1-5-4-5 2-6 8-2 7-4 5-4 6 0 8 0 2-6 3-3 9-2" stroke="#a9bfe0"/>
<path d="M2776 611l2 3 5 1 9-1 2 6 6-2 1-2 1 3 8 4 6-1 4 6 3 0 7 1 5 2 7 0 4 1 2 1 4 3 7 4 3 5 3 5 2 5 0 2 1 7-2 3-5 1-10 3-4-1-7 4-7 1-3 1-6-6-4-4-3-5" stroke="#c4b6d8"/>
</g>
<g transform="scale(0.5)" fill="none" stroke-width="6.8" stroke-linejoin="round" stroke-linecap="round">
<path d="M2744 636l3-4 0-5 2-5 4-6 6 3 4 1 4 4 4 4 5 3 4-2 4-2 4 5 2 4 2 6 5 2 0 5 2 2-3 5 0 5-2 8-1 5 1 6-2 4-3 3-3 4-4 7-5 2-6 4-5 3-6 3-4 2-6-1-5-2-6-2-4-3 2-6 4-3 4-6 0-5 3-5 1-4-2-4-1-5 2-6 3-5 1-4 3-6 4-3 4 1 4-1 5 0 5-3 2-4 2-5-2-3-5-6-3-5-4-2-7-3-6 0-5-2-2 4 2 4 2 4 1 4 3 6 5 2 6 1 5 2 3 3 1 4 2 5-2 4-3 5 1 6 5 3 4 4 1 6 3 5 5-1 4 5 3 3 3 5 4 5 2 6 0 6 1 5 5 4 5 1 5 3" stroke="#f79646"/>
<path d="M2755 666l-6 1-5-1-4-2-4-6-3-2-5-1-5 0-4 3-1 7-4 4 2 6 5 4 5-1 5-1 4-3 6 2 4-3 2-5 3-4 4-1 3-3 1-4 1-4 7 1 5-3 4-2 5 0 3 3 4 2 7 2 6 3 4 2 5 2 3 4 3 5 1 4 4 5 2 6 0 5 0 6 1 5-4 3-6 3-5 0-5-2-2-1-1-5 1-5 2-4-1-5 2-5-3-5-5-3-5-1-4-3-6-1-4 0-3 4-4-3-6-1-5 1-6-1-4-1-5 3-4 4-3 3-2 4 4 4 6 4 5-1 4 1 4-4 4-4 6-1 3-3 4 1 4 0 7 0 3-1 4-3 6-1 5 0 7-2 6-2 5 1 4 0 3 5 0 6-1 6-2 5" stroke="#d99694"/>
<path d="M2766 644l-4-3-5-1-4-3-4-1 0-5-1-6-5 0-2-4-4 4-1 5-1 7 0 5-2 6-4 4 3 5 4 3 2 4 3 5 5 1 5-1 4 3 5 3 6 1 5 3 4-1 4-1 6-2 5-3 0-5 3-2 3-4-1-5 3-5 4-4 6-2 4 0 6 0 5 1 4 0 5 0 5 1 7 0 5-3 4 0 4-1 5 2 5-1 3-3 3-4-3-5-5-4-6-1-4-2-4 0-5-1-5-2-5 0-4 1 0 4-2 5-1 4-2 3-4 7 1 4 0 4 2 6-1 5-3 5-3 4-5 3-3 1-5 3-4 2-6-2-4 0-5-3-5 2-3 0-3 5-4 4-5-1-6-2-2-5-2-5-2-6-1-4 0-6-1-5-3-4-3-6" stroke="#b3a2c7"/>
<path d="M2790 612l-1 4 1 5-3 5 1 5-1 4 1 6 2 6-1 6 3 5-1 6-2 6-1 4 1 8 2 5 2 4 0 6 4 3 3 4-1 5 2 5 1 4 5 4 2 4 4 4 5 4 3 1 4-1 5 1 4-2 2-6 4-4 5-3 0-4-2-3-2-6 1-4 2-5-2-3-4-3-4-5-2-3-2-3 1-6-2-5 2-3 2-4 2-5 3-5 2-4 5-5 0-6-3-4-2-4 1-5 0-6-2-5-2-6-1-4-4-5-5-2-1 6 1 5 5 0 3 1 5 0 3-5 3-5 3-4-2-3-2-5-2-4-2-5-6-3-5 0-5 5-4 2-6 1-5-1-4-5-3-5 3-5 7-4 3-4 6 2 2 3 5 2 2 6-4 4-4 5-1 5" stroke="#8eaadb"/>
<path d="M2758 551l-5 1-4-1-4 0-5 2-3 4-5 1-4 4-4 5-4 3-4 2-1 5-4 4-7 0-5-2-5-2-2-6-4-6-2-5-5 2-4-2-3-2-5 2-3 3 1 5 0 6 4 4 4 2 5 2 3 2 4 3 5 2 2 4 4 4 5 2 4 1 4 1 8 2 5-1 4 4 5 5 4 3 2 6-3 4-1 6 0 6-2 8 0 4 0 5-2 4 1 4 1 6 3 4 5 1 4 3 4-4 1-5 3-4 5-4 5-2 2-3 7-4 4-1 5 2 5 3 3 4 3 4 3 6 0 5 0 5-4 3-4 3-4 5-2 4-5 3-4 4 1 6 1 5 7 2 6 2 5 2 6-1 5-1 3-5 2-4 0-7-3-5 0-6-1-5-3-5-2-4" stroke="#c3d69b"/>
<path d="M2744 681l-3-2-3-7-1-3-4-5-4-3 0-6 1-4 2-4 3-4 5-3 5 0 4 1 4-3 5-4 4-5 4-4 4 2 2 4 5 3 6 1 5-2 6 0 6 3 4 2 3 5 2 6 1 5 3 3 6 3 4-1 4-1 3-4 1-5 0-6 3-4 1-6 4 1 5 1 7 0 5-1 3-4 5-5 4-6 0-5-4-4-4-2-5-4-4-2-6-1-5 2-4 2-4 1-5-3-5 2-4 2-3 4-3 5-3-2-3 4-1 5-2 3-5 4-5 1-7 0-7-1-4-4-4-2-4-4-5-4-5-2-7-1-5-2-4-3-2-5-4-5-3-3-4-2-5-2-4 4-6 1 0-7 2-4 3-4 6-1 6 2 4 1 5-1 5-4 2-3 4-4" stroke="#e2b0ae"/>
<path d="M2767 594l-3 2-2 5 0 3 3 6-2 4-3 3-5 3-4 5-4 5-2 5-2 4-1 4 3 5 1 4 4 2 5 1 3 5 5 1 6 1 3 4 2 5 5 3 2 3 5 1 5 2 4 2 7 0 6 0 5-1 4 1 7 2 5 0 4-4 2-6-2-4-3-5-5-3-3-3-4 2-6 0-5-2-3-4-5-3-2-2-2-6 2-6-1-5-1-4-3-6 3-5 0-6 2-3-4-2-4-3-6-2-5-3-6-1-5-1-4 1-6 0-6 1-4 3-3 6 1 5 3 4 3 3 3 4 5 4 6 3 4 4 5 1 5 4 4 4 0 4-1 5 0 4-1 5 0 6-4 4-3 4-2 5-4 5-6 1-4 2-3 2-6 0-5 0-5-2-5 0-4-1" stroke="#ea8a3a"/>
<path d="M2769 659l0 6 0 5 3 2 3 5 3 2 2 4 2 5 0 4-2 5-3 3-6-1-2-6 1-3 0-6 1-4 0-5-2-6-4-2-6-2-6 0-5-1-4 1-6 1-6 3-3 4-7 3-3-2-6-2-7-2-6 0-1-4 2-5 4-5 1-3 4-4 4-4 3-4 5-1 5 3 0 5 4 1 5-1 4-2 6 3 5 1 7 1 4 2 5 1 5 0 6-5 3-2 2-3 1-5 2-4 3-4 4-3 4-4 4-6 0-5-4-6-2-3-2-4 1-6 4-5 1-5 6 0 5-2 4-3 5 0 5-2 5 3 6 0 5 1 4 1 5 1 5 0 4-3 3-3 2-3 0-5-3-4-3-6-5-2-7-2-5 1-4 3-6 1-4 1-5 4 1 4" stroke="#93cddd"/>
<path d="M2768 650l5 0 4 0 5-1 5-3 1-6 1-5 1-5-1-4-1-5-5-3-5-2-3-4-3 0-4 0-6-1-5 1-6 1-7 1-3-3-1-6-1-5-2-7-1-6-5-5-5 1-5 0-4 0-5-1-5 2-4 4-3 5-2 3 1 4-2 7-2 3 1 5-5 6-3 4-2 5 0 5-1 5 4 4 4 3 2 5 4 1 2 4 5 0 3 7 0 5 1 5 1 6-2 6-2 4-1 5-3 4-3 5 2 4 2 5 3 0 6 2 7 0 6-2 4-4 1-4 3-4 4-2 2-1 4-5 2-3 5 0 5-2 5-4 4 2 5 1 1 4 1 4-2 5-3 3-7 2-4 1-4 4-3 3-4 2-4 4-3 3 0 5-5 1-6-6-2-5 1-5" stroke="#fab98a"/>
</g>
<line x1="1203.2" y1="118.6" x2="1203.2" y2="487.0" stroke="#333" stroke-width="1.8"/>
<line x1="1202.3" y1="486.0" x2="1569.6" y2="486.0" stroke="#333" stroke-width="1.8"/>
<line x1="1203.2" y1="118.6" x2="1206.7" y2="118.6" stroke="#333" stroke-width="1.6"/>
<line x1="1203.2" y1="440.1" x2="1207.2" y2="440.1" stroke="#333" stroke-width="1.6"/>
<line x1="1249.0" y1="486.0" x2="1249.0" y2="482.0" stroke="#333" stroke-width="1.6"/>
<line x1="1203.2" y1="394.1" x2="1207.2" y2="394.1" stroke="#333" stroke-width="1.6"/>
<line x1="1294.8" y1="486.0" x2="1294.8" y2="482.0" stroke="#333" stroke-width="1.6"/>
<line x1="1203.2" y1="348.2" x2="1207.2" y2="348.2" stroke="#333" stroke-width="1.6"/>
<line x1="1340.6" y1="486.0" x2="1340.6" y2="482.0" stroke="#333" stroke-width="1.6"/>
<line x1="1203.2" y1="302.3" x2="1207.2" y2="302.3" stroke="#333" stroke-width="1.6"/>
<line x1="1386.4" y1="486.0" x2="1386.4" y2="482.0" stroke="#333" stroke-width="1.6"/>
<line x1="1203.2" y1="256.4" x2="1207.2" y2="256.4" stroke="#333" stroke-width="1.6"/>
<line x1="1432.2" y1="486.0" x2="1432.2" y2="482.0" stroke="#333" stroke-width="1.6"/>
<line x1="1203.2" y1="210.5" x2="1207.2" y2="210.5" stroke="#333" stroke-width="1.6"/>
<line x1="1478.0" y1="486.0" x2="1478.0" y2="482.0" stroke="#333" stroke-width="1.6"/>
<line x1="1203.2" y1="164.5" x2="1207.2" y2="164.5" stroke="#333" stroke-width="1.6"/>
<line x1="1523.8" y1="486.0" x2="1523.8" y2="482.0" stroke="#333" stroke-width="1.6"/>
<line x1="1569.6" y1="486.0" x2="1569.6" y2="482.0" stroke="#333" stroke-width="1.6"/>
<text x="1193.5" y="126.0" font-size="28.6" text-anchor="end">600</text>
<text x="1193.5" y="216.3" font-size="28.6" text-anchor="end">300</text>
<text x="1193.5" y="306.6" font-size="28.6" text-anchor="end">0</text>
<text x="1193.5" y="396.9" font-size="28.6" text-anchor="end">-300</text>
<text x="1193.5" y="487.2" font-size="28.6" text-anchor="end">-600</text>
<text x="1385.5" y="119.1" font-size="32.4" text-anchor="middle">si CTRL</text>
<g transform="scale(0.5)" fill="none" stroke-width="7.2" stroke-linejoin="round" stroke-linecap="round">
<path d="M3367 548l1-1 4-6 6-2 1 4 4 9 2 6 4 0 4-2 5-2 2-5 7-4 2-1 5-2 5-1 8 1 4 0 7-3 6-2 3 3 4 5-2 4-2 9 1 2 8 2 5 1 8 5-2 1-4 5-4 0-7-2-3-4-6-2-2 0-4 5-5 8 0 5 3 2 2 7 4 2 4 4 6 4 4 3 4-4 3-5 3-7 2-2 5-5 7-4 3-5 3-2 7 2" stroke="#8eaadb"/>
<path d="M3468 523l3 2 1 4 1 3 2 10 4 4-1 4 3 2 0-1 2-4 1-9 2-4 1-5 7-6 3 0 7 1 0 4 0 1 6 7 0 2 1 1 0 7-4 5-2 4-3 6-6 2-5 4-3 2-5-1-2-2-3 0-2 1-2 4-4 4-1 5 2 4-3 2 1 4 4 7 8 4 5 1 5 3 6-6 4 1 4-7 1-2 4-5 1-1 1-1 5-4 1-6 5-7 7-5-2-3 4-2 1-5 1-6-4-2 2-5-3-5-1-5 0-8-1-5 0-1 1-6 3-3 1-7" stroke="#b9d09a"/>
<path d="M3610 473l2 2 3-2 7 0 4 2 10-2 6-3 4 4 0 5-1 4-2 10 1 3-4 3-5 9-1 3-5 1 0 4-7 3-7-1-6-4-1-2 0-6 2-2-2-6-4-5-6-5-4-2-2 0-4 0-2 3-6 6-3 3 0 3 3 5 1 6-5 6 1 3-2 3-2 4-3 6-2 2-5 5-4 1 1 2 0 4 2 4-1 10-3 7-1 0 3 6 1-1 2 5 2 5-1 4 7 8 1 2 3 7 2 1 1 6 4 7 2 6 1 5 2 3 6 0 2 1 3 5 1 5-4 6-2 4-2 7-5-2-6 1-4-2-2-3-2-1-3-1-3-7-2-4-7-4-5-3-2-3-5-2-11-1-2-3-3-5-2-2-1-3-5-8 3-6-3-5" stroke="#a6d0dd"/>
<path d="M3556 462l0-3 2 0 6-6 7-2 2 2 4-4 4-1 3 1 7 3 2 8 1 2 4 4 2 5 6 4-2 5 0 3 2 5 0 6 1 2 3 4 4 4 1 6-5 2-1 9-4 5 2 4-3 1-5 4-3 5-5 1-5 3-7 0-2 3-2-1-2 6 1 3-2 8 1 9 1 2 3 5 0 8 2 2 1 3 0 5-1 5-8 5-6 2-3 3-1 3-3 4-5 3-1 8 1 5 0 3 1 3-2 5-1 5 1 5 3 4 1 3 3 5 4 1 1 8-1 6 5 5 1 4 5 1 8 3 5 1 6 0 5-1-1-4 3-5 1-4 0-10 0-3-1-5 0-4-7-5-4-5-6 2 0-1" stroke="#b3a2c7"/>
<path d="M3528 484l-1 1 8-2 1 0 9-4 5 2 4 1 5 2 4-2 1 10 5 4 4 6 1 2-1-1-2 8-6 5 1 7-3 2-5 2 1 9-5 5-1 1 2-2-4 6 0 9-1 3-4 7-2 4-1 1-1 8 4-2 4 4 4 7 5 4 2 3" stroke="#a9bfe0"/>
<path d="M3638 534l6 4-4 8 0 5 0 5-1 5 0 6-4 2-3 5 1 2 0 9-2 5-2 5 1 5-4 5-1 4-3 1-2 5-1 0 4 5 0 8-2 8 2 6 1 4 1 4-5 2 0 10-2 4-1 3-3-4-4-4" stroke="#d08c8c"/>
<path d="M3581 666l0 2 1 11 7 4 4 2-3 0 6 8 4 1 3 3 0 6 1 5 0 4 4 7 4 1 2-8 3-5 6-2 7-6 0-4 4-6 3-2-2-6 5-9 2-2 1 4 7 3 5 5 6 6 0 1-5 3-11 6-4-2-5 2" stroke="#c0504d"/>
<path d="M3558 666l-1 2-3 5-1 8-1 5 1 7 2 4 0 2 2 5 4 3 1 0 5 7 4 1 3 6 1 4 5 1 3 3 7-1 3 2 6-3 7-4-1-3-1-5-3-6-8-3-1-3-3 0-10 5-1 4-2 4 6 3 2 1" stroke="#e07b2a"/>
<path d="M3534 687l1-1 0-6 3-7 2-3 3-2-1-4-3-8 0-3-4-6-1-3-6-3 1-4-4-5-6-2 3-4-7-3-5-2-3-6-7-3-2-2-2-4-4-1-7 2-7 2-6 4-5 3-1 2 1 4-1 7-5 5-2 5 1 8 1 7 3 1-2 6 0 5 7 3 4 2 6 1 4-1 8-1 4-2 3-3 5 2 5-3 5-3 4-2 4-8 3 1 1-7 2-4 0-5-6-4-5-6" stroke="#fab98a"/>
<path d="M3502 584l5 0 4 0 7-4 3 5 3 4 6 4 7 2 3-2 4 1 6 1 10-1 4 2 2 5 3-1 5 1-1 1 5-2 7 1 5 2 6-4 4-1 3 1 1 11 0 1-3 5-3 6-2 5-4 1-5 1-7 0-4 2 1 4-2 4-2 5-7 3-4 0-2 6-7 3-3-2-4 1-5-1-8 0-2 0-4 0-7-3-4-2-4-2-4-1-8-6 3-5-7-3" stroke="#f79646"/>
<path d="M3449 625l2 7 2 4 3 5-1 4 2 4 1 3 0 2 5 4 4 8 3 2 2 4 4 5 4 1 2-1 3-5 0-4 2-2 2-7 2-4 4-3 0-1 8-6-1-3" stroke="#b5cc8e"/>
<path d="M3481 617l1 3 3 10 4 3 4 7 2 4 7 0 3-1 7-8 5-4" stroke="#8064a2"/>
<path d="M3514 572l0 1 7 0 6 3 6 3 5 3 6 3 1 6 3 3 2 1 0 2 4-1 3 5 8-1 8 2 2 4 1 0 3 6 8 2 5 6 1 5-2 1-6 3-5 6-6 6-5-1-1 2-5-2-7-2-2 3-1 1-6 0-3-3-6 2-8-8-5-1 0-4-2-2-5-5-4-4-2 1-7-3" stroke="#e2b0ae"/>
<path d="M3480 586l4 3 4-1 0 7 8 0 5 4-2 5 3 4 4 1 2 3 8 3-1 9 8 4 0 1 0 6 6 2 2 4 2 5 6 2 5 5 3-2" stroke="#4bacc6"/>
<path d="M3532 463l1 2-1 5 5 6 0 3-5 9-1 1 0 7-4 3 2 4 2 8 1 4 0 4 1 7 0 7 6 2-1 5" stroke="#e2b0ae"/>
<path d="M3555 552l2 6 7 5 3 3 6 1" stroke="#9bbb59"/>
<path d="M3522 607l-2 2 1 0 5 5 4 2 2 3 5 2 3 7 5 1 6 0 5 0 8-1 2 4 5-1 7-3 3-8-1-3 4-4-1-9" stroke="#a6d0dd"/>
<path d="M3556 600l4 1 7 3 2 6 5 1 6 7 5-4 7 1 5-2-5-5-2-8-4-3-3 1-2-6-4 4-5-1-1 0" stroke="#b9d09a"/>
</g>
<g transform="scale(0.5)" fill="none" stroke-width="6.8" stroke-linejoin="round" stroke-linecap="round">
<path d="M3509 616l-2-6-1-6-4-4-4-3-4-4-3-5-4 0-5-1 1-5-1-5 0-4 4-4 3-3 4 0 5 6 4 1 6 1 5 2 4-3 5-4 3-5 5-3 4-3 4-1 5-3 5 1 4 5 4 3 3 5 1 7 3 5 0 2 0 6 0 4 0 4 0 4-4 5-4 2-6-1-4 4-2 4-2 3-3 5-4 3-5 0-4-1-6 0-5-1-7 1-2 3-5 5-5 5-4 3-4 5 1 4 0 5-1 5 3 1 5 1 5 3 6-2 5 3 6 1 6 0 5-2 5-2 3-5-1-5-2-6-6-1-4 1-6 0-4-3-3-1-3-1-4-1-5 0-4 2 0 5-2 6 3 5 2 7 4 5 6-3 3-1 6 0 5-1 5-1 4-3 3-1" stroke="#fab98a"/>
<path d="M3535 603l-4-5-4-4-6-1-6 1-6 2-4 0-5-2-6-3-5-3-3-3-2-4 0-7 5 0 6 1 5 0 4-3 5-2 6-4 5 0 2 3 1 4 2 4 2 6 5 1 4-2 4 1 6 4 5 2 5 3 3 2 5 1 5 3 5 0 5 3 6 2 4 2 6-3 4-3 5-2 4-3 3-5 2-6-2-4-2-5-5-2-4 4-6 2-3 3-4 5-3 7-4 5-1 6 0 5-1 6-2 3-7 1-4 3-2 4-1 6-2 4 2 6 1 5-3 4 2 5 3 7-2 5-6 2-3 3-5 2-6 2-4 2-4 5-2 4 2 6 2 5 2 4 0 6-2 1-4 2-6 2-7 2-4 1-5 2-3 3-4 2-6 4-5 2-4 3 0 4 1 6" stroke="#a6d0dd"/>
<path d="M3553 608l5 0 3-6 3-1 6-3 4-3 5-3 4 0 3 2 3 0 3-4 1-4 1-5-1-4-4-4-3-1-6-2-4-1-6-2-3-3-5 0-6-2-3 4-1 6-3 4-4 5-4 5-6 2-5 0-4 1-3 2-4-1-4-3-1-6 0-4-2-4 3-5 5-2 4-4 4-4 5-4 5 3 6-1 6 1 6 0 4 3 5 3-2 4-3 3-3 3-6-2-6-2-1-3-3-5-1-4 1-8-4-2-4 0-6 0-5 1-3 3-4 6-5 0-4-1-5 4-5 4-5 3-4 0-5 4-2 5-1 5-3 6-1 6-2 7-5 1-4 2-6 0-1 4 0 6 4 1 5-1 4-2 5-2 4-5 4-3 3-5 4-3 5-1 4-3 5 1 5-1" stroke="#b9d09a"/>
<path d="M3520 600l-5-1-6-2-6-3-4 0 0-4 1-5-1-6 3-4 4-4 2-4 6-2 4-2 3 1 4-2 4-3 5-3 4-1 5 0 5 0 6-1 5-2 6-3 2-5 6-4 4-3 4-3 4-3 5-5 7-1 5 0 3 4-4 6-4 4 0 6-2 3-4 1-3 2-6-2-5 2-6 2-3 3-2 6-4 4-5 0-5 0-3-4 1-5-3-5-4-5-6-2-4-2-5 0-7 0-4-3-6-2-6 2-6-1-5 3-4 4-2 5-3 6-6 0-4 0-2-6-2-4 2-6 4-2 5 2 6-2 3 0 5 2 4-1 5 1 4 5 4 4 0 4 3 3 4 3 1 4 5 5 2 6-1 3 1 7 4 2 0 5 2 5 4 2 4 4 4 2 2 5" stroke="#d99694"/>
<path d="M3491 624l-6 0-5-2-5 0-4-1-4 4-4 4-4 4-4 3-5 1-1 6-5 2-3 3-3 4-7 1-6-2-3-1-5 0-3 2-2 5 4 5 3 4 5-1 4-2 7 0 6-1 3 0 5 3 6-2 4 2 3 5 3 5 5 2 1 5 4 5 4 4 3 4 7 3 2 5 2 7-4 4 1 5 5 5 5 5 4 2 4 2 5 2 4-3 6-3 6 1 3-2 5-3 2-5 3-4 5-2 3-7-1-6-1-4 0-6-1-5-1-6-2-5 1-7-2-4 2-4-1-6-4-5 0-5 0-5-1-5-3-3-4-5-1-6 0-3 3-3 7 2 5 0 6-2 5-1 3 3 4 1 4-1 1-5 0-5 4-5 6 0 6 2 5-1 8-3 5-1 4 1" stroke="#f79646"/>
<path d="M3528 620l-1 5-1 6 1 3 0 6-3 3 0 6 0 7 0 5-2 5-1 5 1 5 4 6 5-3 6-1 5 0 4 2 6-3 6 0 5 1 4-3 3-3 3-3-2-5 2-4 2-6 6-4 2-5 1-6-3-4 2-5 1-6 2-6 4-3 8-1 5-1 3 4 5 4 4 3 4 3 3 5-1 6 1 5 0 5-3 5-4 5-3 2-5 3-5 2-4 0-6 0-4-2-5-1-4-2-5-3-3-3-4 0-4-3-4-3-1-6 2-5 3-3 5-3 2-4 3-4 4-1 2-3 0-6 5-1 4 1 5 1 4-2 5-1 6 1 2 4-3 5-4 3-5 1-6 0-6 1-4 4-2 7-3 4-2 6-2 6-3 6-3 5-4 0-5-1-4-3-3-4" stroke="#b3a2c7"/>
<path d="M3552 561l2 5-1 5 0 6-1 4-2 6-5 0-5 0-3-4-6 1-3 1-2 5-3 5-4 4-4 2-6 1-5-1-6-3-3-5-6 0-2 2-2 7 1 5 0 3 3 6 4 4 6 2 0 5 5 5 2 4-3 5-1 4-1 4 1 5 5 5 0 6 4 0 3 4 2 5 5-2 3-4 5-5 3-3-1-3-2-4 1-7 3-4 3-3 3-5 4-2 4-3 0-6 4-4 5-4 3-4 2-4 3-3 6-2 5-2 1-6 6-2 5-1 2-6-2-5 0-6-3-4-2-1-5-2-5 2-5 3-5-2-3-1-4-1-6-3-3-4-2-4-3-5-2-6-6-2-6-1-4 4-2 5 3 5 3 4-2 3-5 5-1 5 0 5 0 4 0 5-5 4" stroke="#8eaadb"/>
<path d="M3553 588l3-5 1-4-1-5 1-6 0-4-2-5 1-5 4-3 4-3 3-6 1-4 4-1 3 3 4-3 1-4 5-2 5 1 2 6 0 4 2 5 0 6 2 7 3 6 0 3 2 6 0 5-1 5-2 4-4 4-6 5-4 3-2 6 0 3-5 3-3-1-6-1-4 3-5 2-4 0-4-2-3-2-6-2-6 1-5-1-5-2-5 0-4 0-5-3-4-1-2-5-2-7-2-5 2-5 1-5 1-5 4-5 5 1 3 2 6-2 5 2 3-2 5-1 4-4 5-1 5 3 4 5 7 3 1 6 5 1 6 1 3 4 4 0 3 2 0 4 5 3 2 4 6 1 5 0 6 2 6 0 4-1 3-4 3 3 3 5 3 3 5 2 5 3 4 1 5 3 3 3" stroke="#93cddd"/>
<path d="M3580 594l4 4 2 7-3 5-1 4 0 6 1 5-1 3 0 5 1 5 0 5 4 3-1 7-1 5-3 4-4 3-5 5 0 6 2 2-1 6 0 6 0 6-2 5-1 4-4 4-7 2-2 4-4 5-7 1-2 5-3 4-4 4-3-3-3-6-3-3-2-4-5 1-5 3-4 3-5 0-3-2-1-4-4-5 2-4 4-2 2-8 4-3 1-5 2-5 2-4 3-6 1-5 5-4 1-6 0-5 1-6-3-1-3-5-5-1-7-4-6 1-8-2-4-1-4 2-3 5 0 4-3 4-4 0-4 2-7 1-7 0-5-2-5 1-4-4 0-6 3-4 4-2 7-3 6 2 6-1 5 1 6 0 6-2 3-1 4 4 4 2 5 0 4-2-1-5-2-6-4-4" stroke="#e2b0ae"/>
</g>
<line x1="1593.0" y1="117.4" x2="1593.0" y2="485.6" stroke="#333" stroke-width="1.8"/>
<line x1="1592.1" y1="484.6" x2="1960.0" y2="484.6" stroke="#333" stroke-width="1.8"/>
<line x1="1593.0" y1="117.4" x2="1596.5" y2="117.4" stroke="#333" stroke-width="1.6"/>
<line x1="1593.0" y1="438.7" x2="1597.0" y2="438.7" stroke="#333" stroke-width="1.6"/>
<line x1="1638.9" y1="484.6" x2="1638.9" y2="480.6" stroke="#333" stroke-width="1.6"/>
<line x1="1593.0" y1="392.8" x2="1597.0" y2="392.8" stroke="#333" stroke-width="1.6"/>
<line x1="1684.8" y1="484.6" x2="1684.8" y2="480.6" stroke="#333" stroke-width="1.6"/>
<line x1="1593.0" y1="346.9" x2="1597.0" y2="346.9" stroke="#333" stroke-width="1.6"/>
<line x1="1730.6" y1="484.6" x2="1730.6" y2="480.6" stroke="#333" stroke-width="1.6"/>
<line x1="1593.0" y1="301.0" x2="1597.0" y2="301.0" stroke="#333" stroke-width="1.6"/>
<line x1="1776.5" y1="484.6" x2="1776.5" y2="480.6" stroke="#333" stroke-width="1.6"/>
<line x1="1593.0" y1="255.1" x2="1597.0" y2="255.1" stroke="#333" stroke-width="1.6"/>
<line x1="1822.4" y1="484.6" x2="1822.4" y2="480.6" stroke="#333" stroke-width="1.6"/>
<line x1="1593.0" y1="209.2" x2="1597.0" y2="209.2" stroke="#333" stroke-width="1.6"/>
<line x1="1868.2" y1="484.6" x2="1868.2" y2="480.6" stroke="#333" stroke-width="1.6"/>
<line x1="1593.0" y1="163.3" x2="1597.0" y2="163.3" stroke="#333" stroke-width="1.6"/>
<line x1="1914.1" y1="484.6" x2="1914.1" y2="480.6" stroke="#333" stroke-width="1.6"/>
<line x1="1960.0" y1="484.6" x2="1960.0" y2="480.6" stroke="#333" stroke-width="1.6"/>
<text x="1780.2" y="119.5" font-size="32.4" text-anchor="middle">si PPP2R1A</text>
<g transform="scale(0.5)" fill="none" stroke-width="7.2" stroke-linejoin="round" stroke-linecap="round">
<path d="M2770 1447l-5-1 0 5-6-2-5 2-8-1-4 3-5 1-7-5-4 0-5 1-3 0-2 1-5 2-4 0-10-2-1 1-4 0-7-2-5 2-3 2-2 1-6-9 0-4-2-4-6-3-7-3-6 1-7 2-1 6-4 0-8 0-6 1-7 1-4-3-4 2-6 1-3 2-7-2-4 2-4 0-8-3-1-1-1-2-8-2-5 2-2 0-8-2-6 3-4 2-3-2-5 0-9 3-4-4-5 0-3 2-12 0 1-3-8 0 0 1" stroke="#fab98a"/>
<path d="M2768 1450l-1 3 1 3-8-3-3 4-5 3-2 2-3 8-2 9-3 4-2 1-4 5-2 1-4 4-9-3-7 1-3 0-3-4-3 0-4-2-7-2-6-6-3-3-3-3-4-3-4-7-1 0-3-6-5-4-5 3-4-1-5-7-7-2-4 2-1 1-6 2-6 7-5 3-2-3-6 0-6 1-5-1-2 0-5 3-5-1-3-1-5-5-3 0-11-1-8 1-7-1-3 2-5 1-5 2-4 1-3-1-5 4-6 5-5 3 1-3-4-5-3-9" stroke="#f79646"/>
<path d="M2626 1414l-1-2 1-6-4-9 2-4 3-4 0-6 1-5 2-1 5-7 6-3 8 0 4 2 3-3 2 4 10 5 3-1 6 1 4 0 8-1 8-1 7-2 7-5 2 1 3 5 5 1 6-2 3 6 4-2 2 2 4 9-1 7-2 6 1 4-4 4-3 2" stroke="#9bbb59"/>
<path d="M2738 1388l-4-4-3 6-6 9 0 2-5-4-2 8-4 2-2 3-1 8 2 6-2 7 1 4-5 2-3 5 0 6-2 5-4 4-4 3-3 1-6 6-2 3-2 5 2 2 2 3 4 3 3 4 3 3 5 1 1 4 4 5 5 3 2 0 5 3 5 4 6 4 1 3 3 6 7 5 3 6" stroke="#c0504d"/>
<path d="M2754 1456l1 4-2 5-4 3-3 7-5 2-4-3-4 0-6-1-7-4-4-2-7-5-3 2-5 1-7 3-2 3-4 4-2 6-2 3-5 5 0 3-2 5-2 2 3 2-1 6 2 6-1 7 1 5 2 6 3 3 0 5 0 5 3 8 2 3 6 1 4 0 2-2 8-1 4-3 5 2 2-4 8 3 8-3 4-2 4-1 4 2 5-3 4-2 3-2 7 1 0-6 4 0 12-1 4 0-1-2 0-1 10 1 8 2" stroke="#8064a2"/>
<path d="M2777 1458l-1 8-4 5-4 5 1 4-1 7 0 3-5 6-6 1 0 6 3 8-1 3-3 3 3 4 2 6-2 3-3 7-2 1 2 6 0 5 0 6-5 3-6 4-1 1-8 3-3-2-7 1-3 3-7-1-3-4-4 1-2 2-7-2-7-4-4-1-8-4 0-1-6-5-6-6-2-1-6-4-3-1" stroke="#3f73c0"/>
<path d="M2774 1433l-2 0 0-4-6-2 2-7 0-7-2-7 1-3 0-3 0-6-2-4 2-4 2-6-3-1-1-7 1-6 2-6-1 0 4-10 1-6 2-8 5 3 3-3 4-7 5-7 0-3 4-3 1-5 1-4 2-1 1-6-1-2 1-7 3-2 0-7-3-4-2-5-1-7 1-6 0-4-2-8 2 1 3-7 3-2 7-3 6-1 3-3 3-2 7-4 6 1 5 1 4-4 5 3 3 1 5 7 1 3 0 4 2 8-2 4 4 6-1 6-3 3-4 3 0 9-2 3-1 5-3-3-6-4-4 0-7 3-2-1-5-1-8-3-1-4-8-1-2 0" stroke="#b3a2c7"/>
<path d="M2749 1419l-3-1-4 1-3 3-8 2-6-1-4 3-7-6-5 0 2-7-4-4-4-3 1-4 4-7-1-3-3-7 1-3-3-8-2-3 1-2-3-5-5-8-4-5-3-1-7-5-5 3" stroke="#b3a2c7"/>
<path d="M2783 1435l4-2 4-3 3 0 7-8-3-3 3-5 1-3 4-4 5 1 5-4 0-5 2-4 2-7 2-7 1-2-1-5-3-5 4-9 4-4-5-7 2-4 2-9-2-2-3-2-3-3-3 3-8-1-2-3-5 6-3-5-4 2-2 6-3 7-1 6-3 6 1 3" stroke="#a9bfe0"/>
<path d="M2797 1431l2-1 6-2 1-3 9 0 1-3 2 1 6-8 5 0 3-3 3-4 3-6 3-4 2-6 0-3 5-8 2 0 6-5 5-4-1 1 1-6-1-6 0-4-2-3 3-6 1-4 6-7 4-1 3-5-3-5 2-6-1-6 5-6 5 1 3-5 9-6 1 4 4-2 6 6 3 5 6 1 2-4 9 0 6-6 2-6 4-3 3 0-4 12-3 3-10 3 2 0" stroke="#8eaadb"/>
<path d="M2814 1419l4-1 2-3 4 2 7 0 4 0 6-2 8-2 5-5 5 1 3-2 1-5 7 1 3-7 4-6 3 2 4-5 4-5 2-3 3-6 6-1-2-8 5 3 5-1 6-2 3-5 6-1 5-3 2 0 7-2-1-1 2-3 7 0 4 1 5 6 2 0 3 7 2 4 4-4 6 0 3-6 4-8 0-1 7-6 0-2" stroke="#8eaadb"/>
<path d="M2830 1394l3-6 5 2 6-5 0-3 2 3 4-5 6-3 7-6 4-2-1-3 0-1 1-5 4-8-3-5-1-3 3-7 2-2 1 0 4-5 4 0 7-2 5-5 7-2 4-3 4-3 3-6 9-4-3-2 9 1 2-3 4-8 4-1 6-4-1-4 9 1 7 3 3-2" stroke="#a795c5"/>
<path d="M2776 1454l3 1 1-7 1 4 4-3 7-1 13-5 2-3 4-1 2 0 7-3 3-3 1-2 3-4 8-5 3 0 8-4 4-3 3-1 7-3 4-5 7-2 1-4 1 2 12-4 2-3 2 1 10-3 5-3 6 3 2 5 3 1 7-1 1-5 4-6 7-5 4 1 0-3 4 0 7 2 4 2 5 7 4 4 2 3" stroke="#c3d69b"/>
<path d="M2891 1393l4 1 2-3 3-3 1 2 13-6 0-1 6-7 2 0 6-3 6-5 4-2 8-3 3-4 2-4 3 2 6-3 5-1 1-4 0-5 3-7 4-3 4-6 6-1 4-2 7-4 4-4 5-4 4-4 6-4 0-4 5-3 7 3 4-5 3-2 1-1 9-2 5 0 1-4 5-2 2-3 5-1 1-4 3-3" stroke="#c3d69b"/>
<path d="M2777 1452l8 0 3 4 5 1 1 1 7 3 5 3 2 0 8 2 0 7 3-1 8 1 2 7 2 8 4 7 3 2 0 3 1 4 3 2-1 0" stroke="#c3d69b"/>
<path d="M2822 1434l1-6 6-6 3-3-2 3-5 6-2 2 2 6 1 9 3 7-4 8-3 1 2 3-1 4 2 0 0 9-2 7-4 6 5 1-1 5-5 4-4 2-6 8-1 4-1 5-5 1 1 7-3 3-2 7 1 5-2 5 0 3-1 3-2 5-6 4-4 0-6-1-6 4 0 2-4 4-3 4-2 5-7 2-9 1-2 2-5 1-2-5-7-1-3-3-3-5-2-2 0-5-3-5-1-8" stroke="#b5cc8e"/>
<path d="M2769 1448l-2-4-3-4-2-3-3-2-3-5-5-11-2-1-2-5-3-3 0-5 3-4 4-6 0-3-2-5 1-6 4-5 7-3 1-1 3-1 4-3 0-2 11 4 5 1 5 3 3 1 3 7 2 6 2 9 2 2 4 5 1 1-1 8-4 1-6 6-3 2-6 6-1 2-2 0-5 1-2 3-2 3 0 6-1 3 1 5 4 2 5 5 3 1 5 0 4 1 7-3 6 0 5 7 3 0 4 3 4-3 2 4 6 5 4 3 2 5 5 0 4 7 2 0 1 2 4 7 3 5 6 4-1-1 3 5 2 7 3 2 0 6 2 7 1 0 4 3-2 8-1 10 1 4 0 8 1 0 2 1-2 7 0 3 3 8-3 5-1 3 3 5-1 4-2 7 0 6 1 2 4 4-1 3 2 7 3 3-2 3 3 5 1 7 1 1 5 4 2 5 0 7 9 6 2 5 3 3 1 0 5-1 3 7-4 2" stroke="#93cddd"/>
<path d="M2772 1464l-2 4-2-1-5 4-2 4-3 9-9 6 1 4-2 2-1 2-7 4-6 0-5-3-2 1-8 3-7 6-1 7-1 4 0 1 3 6 5 4 5 5 1 2 2 5 4 3 7 1 4 2 5-2 4 4 5 7-3 3-2 6 2 4 2 3-3 3 1 6 5 9 2 2 1 3-5 3-6 2" stroke="#a6d0dd"/>
<path d="M2779 1463l-1 3 5 5 3 1 1 3 3 6 1 7 2 3 4 5 9 3 2 3 2 3 8 2 0 3 3 3 3 3 7 5-3 5 3 1 4 3 5 3 4 5 2 5 1 4 4 5 1 7 8 1 5 3 4 0 7-2 2-2 8 1 1-4 5-3 4-4 6-4 7 4 2 1" stroke="#d99694"/>
<path d="M2858 1534l-2 1 0 6 1 4-4 5 3 5-2 1-3 8-3 8-1 2-2 4 1 4-7 5 0 8-5 6 0 3-5 0-3 5-2 6 0 3-4 6-6 0-2 1" stroke="#d99694"/>
<path d="M2790 1456l5-2 2-3 2 3 9-1 7 1 3-1 6 4 4-2 6 1 6 0 2-2 1 0 10 2 3 3 3 1 1 4 4 3 3 3 1 3 3 5 8 4 2 2 0 2 7 7 0 3 1 6 0 6-1 5 0 7-3 6 1 2-1 3-3 4-5-1-4 3-2 3-11 3-5-1-8-5-7-3 0-7-2 0" stroke="#e2b0ae"/>
<path d="M2724 1394l1-1 3 2 7 4 6-1 2 3 8-1 4-1 6-1" stroke="#4bacc6"/>
</g>
<g transform="scale(0.5)" fill="none" stroke-width="12" stroke-linejoin="round" stroke-linecap="round">
<path d="M2723 1315l0-1 3 9 0 2 5 7 0 8 2 4 1 3 3 3-1 5 6 8 6 6 3 4-1 5-1 5 1 5 1 3 4 5 1 6 3 5-1 1-1 7" stroke="#e07b2a"/>
</g>
<g transform="scale(0.5)" fill="none" stroke-width="6.8" stroke-linejoin="round" stroke-linecap="round">
<path d="M2782 1485l-2-5 0-4 3-4 2-3 3-4 6-5 3-1 1-6 1-5-2-5-2-3 1-8-2-5-2-6-1-6-2-4-3-6-2-4-2-5-7 0-5 0-3-5-2-3-4-1-6-2-4 1-5 2-3 4-2 5-1 5 0 4 3 4 4 4 5 3 5 2 4 2 5 2 4 4 5 1 3 2 4 1 5-1 4-3 5-2 5-3 4-4 4-5 2-4 6-1 5 1 6 1 2 3 4 3 3 4-1 5-2 7-3 3-4 2-5 5-2 4-1 6 4 4 5-1 6 0 5 2 6 2-3 5 0 4-1 5 0 9 2 5 4 3 4 5 6 1 5-4 0-4 0-4 1-5 0-5-1-4-2-4-4-4-6-5-2-3-1-5-5-4-2-4-5-2-5 1-3 1" stroke="#b3a2c7"/>
<path d="M2730 1470l5-1 4-6 1-5 3-4 1-6-3-5-1-5-3-5 0-4-2-7-3-4 0-4 0-5 3-3 6 0 4 4 6 3 3 5 3 5 1 6-2 5-4 4-2 4 3 4 0 4 1 5 0 4 0 7 3 2 3 6 1 6-1 5 0 4-1 4 4 4 3 5 1 6 1 4 2 7 2 5 3 3 0 5-2 4 5 1 4 1 4-1 5 2 3 5 6-2 5-5-1-5-1-5-4-4-3-5 1-6-2-5-2-5-3-4-3-5-1-7-3-6 3-3 6-3 5-3 4-4 1-4-2-3-3-2-2-6-3-2-4-4-6-5-6-2-5-1-6-1-5 0-4-3-7-1-4-1-5 1-3 4 1 6 1 4 1 6 2 4 1 4 3 4 1 6-1 7 0 5" stroke="#93cddd"/>
<path d="M2786 1473l-2-4-1-3-2-6-3-4-6 0-7 0-5-2-4-2-6-4-4 1-4-3-5-2-4-2-5 0-4-3-4-1-4-3-3 1-5-2-3-6-4 1-2-4-3-6-1-5 0-5 1-5 3-2 5-3 7-1 5-2 6 3 3 3 6 2 5 0 6 3 4 2 4 5 3 5 3 3 2 6 2 5 2 4 0 4 1 4 5 1 7 1 2 4 4 6 5 2 2 2 6 1 4 4 4 3 2 4 2 6 1 6-2 5-3 4-2 4-4 3-4 3-4-1-3-4-5 1-5 4-6-1-6-2-1-6 1-5 1-7-2-4-7-3-5 0-4 1-5 1-4-5-4-7 0-4 4-6 5-5 3-4-1-5 1-5-1-5-5 0-3-3-5 1-6-3-5-5 0-5" stroke="#a9bfe0"/>
<path d="M2795 1389l-5 0-4 2-6 1-4 3-3 5-1 5-2 1-1 6-3 3 0 5 0 6 3 4 3 3 4 4 5 2 1 3 4 3 3 5 5 1 3 1 5-1 5 0 5 2 1-6 3-3 4-5-1-6 2-3 0-5-3-3-5-1-5-3-5-4-3-5-6-3-5 0-5-4-6 0-4 1-3 5-3 4 2 4-4 3-8 1-5 2-6 2-4 1-8 2-6 0-5-2-2-6-4-2-5 0-6-3-4-1-3-2-3 0 0-5-5-1-5-1-1-4 3-5 5-4 5 4 6 0 4 4 5 1 6 0 5 2 4 4 3 4 2 5 0 4 4 2 3 4 3 4 5 2 3 5 3 5 0 6-5 3 1 5 0 5-2 5-1 6-2 5-1 4-5 5-3 4-6 3" stroke="#c3d69b"/>
<path d="M2730 1454l1 6 5 2 0 5-2 4-2 5-6 1-5-1-4-2-3-4 2-3 3-1 5 0 5 2 3-3 4 1 0-5 4-4 3-3 2-5 3-5 2-5 2-5 0-4 5-3 4-4 5-1 5-1 4 1 3 2 6 1 5-3 5-1 6 2 5-1 5 0 4 3 4 4 4 0 5 0 6-1 5 1 4-1 6-1 2-2 5-3 3 3 4 3-3 4-5 4-4 2-3 1-4 0-6-2-6 0-6-1-4 1-4-2-5-3-6 0-5 0-4 3-3 6-1 4 1 4-3 3-3 5-4 3-4 2-5 3-5 2-3 3-6 2-6-1-4 1-5 0-6-1-5 0-4 1-4-2-5-2-5-4-2-6 5-4 6-3 2-4 4-4 2-6 1-4 4-4 3-1" stroke="#e2b0ae"/>
<path d="M2834 1407l-3-6-1-5-2-3-5-2-3-3 0-5-4-3-4 3-5 3-6 0-6 0-2 4 0 5-1 6-1 4 3 5 3 0 6-5 2-4 3-4 5 2 3-2 5-2 3 3 2 3 2 5-3 5-5 3-7 1-4 2-6-1-7 4-6 4 1 7-2 4-3 4-1 7 1 6 3 5 5 3 5 3 6 3 4 1 6 0 3 5-3 5-2 3-3 6-5 5-3 7 1 4-1 7-4 0-4 3-3 3-5 3-3 5-5-2-5-1-2-2-4-3-3-4-2-5 1-6 1-6 1-6 1-6 6-5 2-6 4-1 3-3 4-5 7-2-1-6-3-4-4-3-5-3-5 0-5 0-5-2-5 4-4 2-5 0-3 0-5-3-4 4-3 5-1 5-1 6 1 4" stroke="#8eaadb"/>
<path d="M2841 1454l-2-3-7 1-4 0-6-1-6-2-7 2-2-2-6-1-4 3-4 1-5-3-3-3-5 0-4 3-5 2-3 3-4 4-2 5 1 4 1 7 3 3 5 1 5 1 5 0 4 1 5-2 5 1 5 1 6 3 4 3 4 1 4 6 0 6 1 7-4 5-4 5-4 1-5 3-2 4-3 3-2 3-4 0-4 0-6 1-6 1 0-4-2-5 1-4 3-4 0-3 0-6 0-6-1-3-2-5-3-5-4-4-6-1-5-6-3-7-1-4-1-5 2-5 4-4 3-2 3-4 3-4-2-7-5-4-2-4-5-2-4-5-1-4-2-6-2-1-4-3-2-4 1-5-2-3-5-3-4-6-4-3-6-2-6 1-4 5-5 2-3 4-5 2-2 5 0 6 2 3" stroke="#b3a2c7"/>
</g>
<line x1="1203.9" y1="542.9" x2="1203.9" y2="910.9" stroke="#333" stroke-width="1.8"/>
<line x1="1203.0" y1="909.9" x2="1570.9" y2="909.9" stroke="#333" stroke-width="1.8"/>
<line x1="1203.9" y1="542.9" x2="1207.4" y2="542.9" stroke="#333" stroke-width="1.6"/>
<line x1="1203.9" y1="864.0" x2="1207.9" y2="864.0" stroke="#333" stroke-width="1.6"/>
<line x1="1249.8" y1="909.9" x2="1249.8" y2="905.9" stroke="#333" stroke-width="1.6"/>
<line x1="1203.9" y1="818.1" x2="1207.9" y2="818.1" stroke="#333" stroke-width="1.6"/>
<line x1="1295.7" y1="909.9" x2="1295.7" y2="905.9" stroke="#333" stroke-width="1.6"/>
<line x1="1203.9" y1="772.3" x2="1207.9" y2="772.3" stroke="#333" stroke-width="1.6"/>
<line x1="1341.5" y1="909.9" x2="1341.5" y2="905.9" stroke="#333" stroke-width="1.6"/>
<line x1="1203.9" y1="726.4" x2="1207.9" y2="726.4" stroke="#333" stroke-width="1.6"/>
<line x1="1387.4" y1="909.9" x2="1387.4" y2="905.9" stroke="#333" stroke-width="1.6"/>
<line x1="1203.9" y1="680.5" x2="1207.9" y2="680.5" stroke="#333" stroke-width="1.6"/>
<line x1="1433.3" y1="909.9" x2="1433.3" y2="905.9" stroke="#333" stroke-width="1.6"/>
<line x1="1203.9" y1="634.6" x2="1207.9" y2="634.6" stroke="#333" stroke-width="1.6"/>
<line x1="1479.2" y1="909.9" x2="1479.2" y2="905.9" stroke="#333" stroke-width="1.6"/>
<line x1="1203.9" y1="588.8" x2="1207.9" y2="588.8" stroke="#333" stroke-width="1.6"/>
<line x1="1525.0" y1="909.9" x2="1525.0" y2="905.9" stroke="#333" stroke-width="1.6"/>
<line x1="1570.9" y1="909.9" x2="1570.9" y2="905.9" stroke="#333" stroke-width="1.6"/>
<text x="1194.2" y="550.3" font-size="28.6" text-anchor="end">600</text>
<text x="1194.2" y="640.6" font-size="28.6" text-anchor="end">300</text>
<text x="1194.2" y="730.9" font-size="28.6" text-anchor="end">0</text>
<text x="1194.2" y="821.2" font-size="28.6" text-anchor="end">-300</text>
<text x="1194.2" y="911.5" font-size="28.6" text-anchor="end">-600</text>
<text x="1188.7" y="943.1" font-size="28.6" text-anchor="middle">-600</text>
<text x="1285.0" y="943.1" font-size="28.6" text-anchor="middle">-300</text>
<text x="1387.6" y="943.1" font-size="28.6" text-anchor="middle">0</text>
<text x="1476.9" y="943.1" font-size="28.6" text-anchor="middle">300</text>
<text x="1572.0" y="943.1" font-size="28.6" text-anchor="middle">600</text>
<text x="1383.3" y="557.9" font-size="32.4" text-anchor="middle">si NHSL1</text>
<g transform="scale(0.5)" fill="none" stroke-width="7.2" stroke-linejoin="round" stroke-linecap="round">
<path d="M3353 1311l5-2 5-4 2-1 6-2 3-3 9-2 2 6 0 4-4 7 1 7 2 2 8 1-3 6-2 3-4 5-2 3-4 5-2 5-3 4-1 3-1 7 2 3 3 0 7 1 2-2 6 3 4-1 2 4 0 7-1 7 2 3 4 7 9 3 3 1 7 2 1 1 5 2 7-1 8 0" stroke="#8064a2"/>
<path d="M3446 1396l0 1 2-5 6-4 4-6 7 1 3-1 2-3 1 0 9 0 6 1 2-3 6 3 6 1 2 4 3-1 4 2 2 3 7 8 7 1 4 3 2 2 2 1 5 4 2 5 2 2 2 8 5-1 5 3 1 7-2 5-1 7 1 8-3 5-6 1-5-4-5-5-6-4 1-3-5-4-3-3-5-3-2-1-7-6-3-2-2-6 0-4-4 0-4-4-6-6-11-3-3 2-4 1-5 4-8 1-5 0-2-4-5-6 5-2 5-1 4-7 4-2 8 1 2 4 6-1 8 5 4-1 1-3" stroke="#f79646"/>
<path d="M3517 1397l-3-4 6-7-6-4-1-6 4-4 4-2 6-2 0 1 3-1 7-5 6 1 3-1 4-2 5 4 7-1 6 1 6 0 2 3 4-5 5 1-1 3-6 5-7 2-6 2-6 3-2 5-4-1-2 5" stroke="#c0504d"/>
<path d="M3543 1401l-3-1 0-5-4 2-1-9-3-1-4-5-1-7-3-1 1-7 0-6-1-3-5-4-1-9-1-4-1-5-1-8 2-1-1-3-1-5-5-7-1-1-1-1-4-6 0-4 5-7 5-4 0-1 3 2 8 1 6-6 6 2-1 1 8 7 1 5 3 4 0 5 0 5-3 1 2 8-3 4 2 1 2 10 1 2 5 5-2 4-3 0-6 3-1 5-1 1-5 10-3 1 0 5 1 7 5 7 2 2 0 2 4 7 1 3 3 5 1 1 4 5 5 5 5 3 5 5 3 5-1 4-6 1-5 8 0 5-2 6" stroke="#c3d69b"/>
<path d="M3538 1388l-1-1 5-1 3-2 3-6 3-3 5-7 0-3 8-6-2-1 5-6 2-2-1-4 5-1 5-4 1-1 7-5 7 0 3-5 2 2 1 4 2 6 9 2 4 4 3 4 4 4 4 3 2 5 5 1 0 8 4 6 2 1 6 4 4 0 5 1 2 3 0 1 9 2 3 5 6 5 1 1 7 3 2 4 7 6 2-2 4 2 4 2 0 2 6 0 8 1 3 3 8-3 5-3 2-1 6 0 4-4 2 3 8-4 8 1 3-3 7 0 7 0 2-2 3 0 5 0 5-3 4-1 6-2 4 0 4 1 7 2 0 2 5 6 0 9 3 4 2 2 1 3 4 8 2 6 1 5-2-1 2 2-3 2-4 1-7 2-4 0-3 7-8-1-4 4-2 2-3 3-2 5" stroke="#4bacc6"/>
<path d="M3586 1444l-1 0 3-5 1-5 5-5 4 0 7 1 4-2 7 6 6 3 3-1 2-2 1-3 2-9 1-9 0-5 10-3 5-1 2 0 0-1 7-4 1-5 2-7 1-4 0-5 2-3 0-8 2-3 3-9-1 0 1-7-4-1-2 3-7-1-3-1-2 3-7 4-4-1-8 3-2 5-9 5 1 5 1 2-2 3-3 3-1 3-5 2 1 7-1 1-1 5-7 9-4 8 0 1-6 1 4 5" stroke="#3f73c0"/>
<path d="M3586 1407l1-2 3-3 2-7 1 0 1-3 8-3 1-2 2-4 6 0 8-3 8 1 2-2 8 3 2 4-1 2 0 6 1 5-6 4-2 6-2 2-4 4-2 2-7 3-4 1-8 4-8 5" stroke="#b3a2c7"/>
<path d="M3425 1489l8 5 4 5 2 0 4 5 0 2 5 4 4-2 6-3 3 1 2-2 2-5 4-1 8-3 6-2 2-2 3-3 6-4 7-4 3-5 4 3 5 1 0-4" stroke="#b3a2c7"/>
<path d="M3428 1412l5-6 4 0 5 0 4-4 2-1 3 3 9 1 3 1 2 2 6 0 4 0 4 0 6 0 4-1 8 0 9 2 1 4 2 2 4 4 5 1-1 9-1 5 1 1-5 6-7-1-5 6-1 9 1 1-1 7-1 3-8 2-2 3-4 1-9-2-1-3-8 1-7-2-4 3-3-6-3-4-4-7-3-3 4-3 2-3 7-7 4-4 4 0 5-3 6 0" stroke="#8eaadb"/>
<path d="M3561 1461l3 3 7-1 5 4 4 3 7 0 0-1 7-1 6-1 4-1 5-5 3-2 6-6 1 1 6 4 3-4 6 1 9 3 3 3 3 1 5 2 2 5 3 3 1 2 1 6-2 7-6 2-4 4-3 4-4 0-6-1-3 0-2-2-4 0-3-6-7-4 0-5" stroke="#a9bfe0"/>
<path d="M3655 1480l5-2 3-3 3-3 6-3 5-1 5-8 1-2 4 1 10 1 4-3-1-3-5-3 1-5-3-9-1-4 0-5-2-4-5-5-5-6 3-5 7-1 4-2 6 0 4-4 3 2 4-5 4-5 5 0 4-1 7 2 4 3 2 3" stroke="#a9bfe0"/>
<path d="M3481 1433l-2-1-6 5-1-5-6-2-5-1-4 3-3 1-7-1-6-3-5-3-2-1-4 7-3 2-4 8 1 8-4 4 2 6 0 3 4 2-2 4 0 3-2 5 3 7 6-2 7 2 5 1 5 1 1 4 3 4 10 1 6-2 3-7 4-5 1-4-1-4-4-4-8-2-3 2-3-3-8 1-4 4" stroke="#9bbb59"/>
<path d="M3493 1477l1 2 1-2 3-1 6-6 2-4 2-2 13 1 4-1 5 2 3 5 6-2 8 1 4 0 6 1 2 1 4 0 7-2 2 2 3 6 2 5 10-1 5-1 6 2 6 1 7 0 2 1 1 4 1 5-2 5-1 2-3 4-2 2-4 3-6 5 0 3-7 1-2-2-3 0-8 2-6 3-4-3-3-3-6-1-1-4-6-4-4-4 0 5-7 0 0 6-3-2 0 8-8 12-4 2 1 3-2-1-6-5-7-7 4-4-1 0 1-6 0-6-4-3-3-4-4-7-2-4" stroke="#fab98a"/>
<path d="M3539 1464l3 4 6 3-2 5 9 2 1 4-2 3 5 1 9 3 2 2 8 7 5 2-3 1-2 1-5 5-7 2-3 3-3 3-4 8-4 5-2 1-1 5 1 5 0 1 9 4 6 0 5 1 6-4 2-2 5-3 3-5 5-2 7 3 0 2 8 3 3-1 6 6 3 2-1 6-2 1 1 2-7-4 0-2-5-2-7-5-4 1-2-3-3-3-8-3-5 5-4 3-5 4-4-1-1 3-4 4-2 5-2 4-7 2-3 1-3 4-7 2-3 7-3 3-7 6-3 2-3 5 1 2 2 3 2 4-1 4 11-3 5-3 5 1 6-3 2-2 4 3 3-5 2-3 8-3 2-9 0-5 1-3-1-9-1-3" stroke="#a6d0dd"/>
<path d="M3587 1526l2 1-2 6 2 6 2 5 6 4 5-1-2 2 5 2 3 8 1 6-1 8-2 4-6 3-3 2-7 0-6 0-5 5 2-1 6 9 6-1 4 7-2 4-6 4-1 3" stroke="#d08c8c"/>
<path d="M3585 1482l4 5 5-2 3 5 3 2 7 4 1-4 7 4 3 1 4 4 1 2 4 0 3 0 6 4 9 2 3 4 4 5 3 2 3 2 4 4 3 2 4 5 2 4 3 4 8 1 4-2 7-1 3 0-2 6-3 2-8 3-1 6-5 2-1 2 0 7 6 6 3 2 2 7 0 6 3 8 3-2-1 7 5 5 4 0 4 4 6 1 6 5 3 0 0 3 5 1" stroke="#e2b0ae"/>
<path d="M3487 1549l3 2 7 1 6-3 6 2 2-2 6 0 1-2 9 1 4 0 2-4 6-5-1-2 4-10-2-5-3-6 3-5-4-4-5-4-1 2" stroke="#e2b0ae"/>
<path d="M3610 1492l-1 1 3-1 12 4 1 3 1 3 6 5 2 4 1 5 4 3 4 3 5 4 2 3 2 2 5 3-2 1 7 6 3 6 2 1 8 3 5 4 3 1 6-1-1-4 2-6 5-5 8-2-1-3 7 0 1 0 5 3 4-2 7-3 4 1 6-3 6 3 5-1 4-3 3 2 3 2 3 3 3 5 1 7 1 4 4 8-3 1 5 6 1 4 1 8 2-1-2 1 5 7 2 6 0 5 3 2 1-1 5 1 5-2 4 5 10-2 4 0 2 2 4 2 6-3 0-2 8-3 7 0 0-1 8 3 4 3 1 2 1 3 3 6 2 5 2 6 3 6 3 5 1 3 2 2 7 2" stroke="#b5cc8e"/>
<path d="M3528 1438l2 1-1 7 0 6-6 1 3 6-1 8-7 0-3 5-5 3" stroke="#cf9a9a"/>
<path d="M3541 1445l-1-6 4-2 5-3 4 1 6-3 5-7 2-3 0-4 7-7 6-2 2 0 3 4 2 2-3 10 0 4-2 3-1 7-5 2 0 6-1 4-3 5" stroke="#a6d0dd"/>
</g>
<g transform="scale(0.5)" fill="none" stroke-width="6.8" stroke-linejoin="round" stroke-linecap="round">
<path d="M3561 1499l-2-5 2-5 0-5 1-3-1-5-2-3-5-3-5-2-1-7-1-4 1-4 4-3 6-1 5 1 4 2 5 4 0 6 0 6-1 4-2 6-2 4-5 1-4-2-5-4-5-2-5 3-3 1-6 1-1 3-3 4-3 4-3 5-4 2-2 6 2 4 3 2 2 3-3 5 3 4 3 5 3 5 2 4 3 3 4 4 6 2 6 3 5 3 0 5-3 4-4 4 2 5 2 3 4 4 7 1 2 4 3 5 6 2 6-1 4-2 3-6 4 3 0 4-5 2-5 1-2-3-4-2-5-2-6-3-4-5-6-1-2-5-2-5-1-5 1-4 2-3 2-6 0-5 3-5 4-4 0-6-1-7-1-4-3-5-2-5 0-5-4-5-3-4-3-4-1-5-3-4" stroke="#8eaadb"/>
<path d="M3502 1453l-5 2-4-1-5-2-4 1-2-4-2-6-1-5-2-2-4-5-6-4-4 1-5-6 2-4 4-1 6-2 7 1 4 4 4 3 2 5 2 4 1 6-2 5-6 2-3 2-2 2-2 2-2 2-4 5-2 4-3 6-2 5-1 4-2 6 2 8 5 4 4 3 5-3 7-1 4-6 0-5-5-2-5-2-4-5-3-3-3-5 0-5-4-3-5-3-4-4-4-6-4 5-3 3 3 4 1 5 0 5-2 3-5 3-4-1-1-7-2-5-1-3-2-5 0-2 5-3 4-5 6-3 5-1 5 0 5 2 5 1 5 2 5-3 8 0-1-4-3-7-1-5 0-6-1-3-4-2-6 0-4-2-4-3-4-2-1-4-5-4-3-4-3-6 1-3 2-6 4-6" stroke="#f79646"/>
<path d="M3453 1442l-4 5 0 4 5 6 3 6 3 3 4 3 5 3 2 2 4 2 3 3 3 5 2 6 3 4 4 4 5 0 4 2 6 0 4 1 6 0 3-1 2 4 0 6 4 2-2 5 1 6-5 5-2 5-2 5-3 4-4 3-7 2-3-3-1-6-2-4-2-5-4-3-2-5-3-4 1-8 0-6 1-6 3-4 4-5 4-4 5-2 5-3 5-1 4-1 6 2 1 3 0 6 0 6-4 0-5 0-3-1-4 0-5-3-7-2-5 1-5 1-4-2-7 2-4 2-5 0-5 0-1-5-2-5 1-6 3-5 5 0 5 4 3 5 6 0 8 0 7 3 2 6 4 3 2 4 1 7-4 4-1 4-3 4-3 5-1 6-4 3-3 2-4-3-4-2-2-4 2-3" stroke="#a9bfe0"/>
<path d="M3494 1481l-4-2-5 1-6 1-4 3-5 2-6 1-3 5-2 4-1 4-1 6 1 3 4 5 1 5-2 6-1 6 4 6 1 4 1 6-4 2-3 3-1 4-1 6 3 4 4 0 2 3 4-2 5 0 5-1 4 1 5-3 5-1 5-3 7 2 4 3 6 0 7 2 5 3 4 4 5-3 3-4 2-5 2-5-1-6-2-8-1-5 1-5 2-6 2-5 2-5 5-3 4-3 5-2 6-3 5 1 3 1 5 4 4 3 6-1 7 0 4-1 0-5 1-8-3-5-2-5-6 0-5 1-7 0-6 3-6 0-6 0-5-2-5-2-3-2-3-5-4 2-6 2-1 6 0 6-1 4 1 4 2 6 3 4 0 6 3 5 6 1 7 0 6 0 3 6 1 5 3 5" stroke="#d99694"/>
<path d="M3516 1490l-6-2-4 1-5-1-5-2-5 1-7-2-6 1-5 2-5-2-6-4-2-5-5-5-4-3-1-4-3-1-4-3-6-2-7 1-4 4-4 3 0 7 3 3 3 2 8 1 5 0 5 1 5 0 4 0 5-1 8-1 6 4 5 1 3 2 4 1 6 1 3 6 0 3 0 6 0 4 0 5-3 6 0 4 1 5 2 5 1 5 5 3 6 2 4 2 5 1 5 1 6 3 5-1 5 0 3-2 3-2 6-2 3-4 1-5 1-4 1-6-3-5 1-4 3-3 3-5 1-4-4-5-4-5-2-5-1-5 1-5 2-6 1-4 1-7 1-4 2-6 2-5 3-4-2-4-1-6-1-4-5-4-2-3 1-5-4-3-1-5 0-5 4-4 6-1 5-2 7 2" stroke="#fab98a"/>
<path d="M3505 1482l2 4 2 4 1 5 4 4 4 4 4 6 0 5 5 2 5 1 4 4 2 5 0 7-1 5-2 5 3 3 5 2 4 3 0 6-1 5-2 5-1 4 0 5-3 6-7 2-4 0-4-4-3-3-2-5 4-5 2-7 4-6-1-5-1-5-3-4 0-4-1-7-5-1-5-2-5-2-4-2 1-4 4-1 4 0 4-1 5-3 5-1 5 2 4 2 5 1 4 0 4-2 4 0 8 5 6-1 6 0 5-2 3 1 6-1 4 3 5 2 6 1 0 6 2 4 1 6-3 5 0 4 4 4 3 4 2 5 6 2 4 1 2 4 0 4 2 5 1 4-4 5-3 6-3 5-1 3-5 2-3 2-4 3-2 4-6 2-4 0-5 1-2-4-4-3-5-6-4-4" stroke="#93cddd"/>
<path d="M3500 1416l-4 3-6-1-3-1-2-1 0-7 0-4-6-2-5-2-2-7 1-4 1-4 5-3 6 2 3 1 2 4 3 1 5 3 5-1 6 3 1 5 1 4-4 2-2 6 0 6-1 4-5 4-1 6 1 3-2 4-7 0-6 2-7-1-6-1-3-2-4 2-2 4 1 6-2 7-4 5 0 5 0 4 3 2 4 4 4 3 4-1 5 2 6-1 7 0 5 3 5 1 6 1 5 4 3 3 2 3 2 5 1 6 5 2 5 5 3 4 2 5 1 5-6 3-4 1-6 3-4-3-5-5-2 0-5 2-5 1-6 1-3-4-4-2 2-5 1-6 0-4-1-6-2-5-4-3-4-4 3-5 3-4 4-5 3-5 3-4-2-5 5-4 4-3 5 0 7 0 3 4" stroke="#f79646"/>
<path d="M3513 1476l5 6 3 6 4 3 4-1 5-3 5-1 4-3 4-4 4-3 4-3 7-1 4-1 4-1 4-3 4-1 6 1 4 1 3 6 7 0 5 1 5-1 4 1 2-3 5 0 4-2 3-4 1-6 1-6 3-4 0-5 1-4 1-6 0-6-3-5 0-5-1-5-5-3-7 0-4-1-4 2-5 2-3-1-5-2-6-3-5 1-5 4-6 2-3 5 1 5 0 5-4 4-2 3 1 5-1 5 4 5 3 5 1 4 3 3 3 4 3 3 3 4 6-1 2-4 5-3 0-6 1-7 3-4 1-4-2-5-3-7-4-3-4 1-6 3-4 2-4 2-3 8 1 4 2 4 6 3 5-1 6-1 4 0 4 0 4 4 5 2 1 4 2 4 2 4-3 4-4 3" stroke="#b3a2c7"/>
<path d="M3553 1434l-4-4-3-6-2-5-5-3-5-3-3-4-2-5-3-3-2-4-1-7-5-3 1-4 2-3 4-2 4 3 4 5 1 5 0 4-3 3-2 6-4 4-6 1-3 2-4 2-3 6-1 3 0 6 3 2 4 4 5-1 1 2 3 0 3 4 3 4 6 2 1 4 4 5 0 6 0 6 0 3 1 6-5 3-3-3-4-2-1-6-4-2-5-3-3-1-2-6-4-5-3-3-1-3-4-2-2-4-3-5-1-3-5-4-6 1-3 4-4 3-4 2-4 3 0 6-3 4-4 4-2 4 0 4 2 4 6 3 5 2 6 3 6 2 3-4-1-4 4-2 6-5 4-4 4-3 5-2 4 1 5-2 3 5-2 6 0 6 4 3 3 4 6 1 7 0 6-2 3-7" stroke="#c3d69b"/>
</g>
<line x1="1590.4" y1="543.4" x2="1590.4" y2="912.0" stroke="#333" stroke-width="1.8"/>
<line x1="1589.5" y1="911.0" x2="1957.0" y2="911.0" stroke="#333" stroke-width="1.8"/>
<line x1="1590.4" y1="543.4" x2="1593.9" y2="543.4" stroke="#333" stroke-width="1.6"/>
<line x1="1590.4" y1="865.0" x2="1594.4" y2="865.0" stroke="#333" stroke-width="1.6"/>
<line x1="1636.2" y1="911.0" x2="1636.2" y2="907.0" stroke="#333" stroke-width="1.6"/>
<line x1="1590.4" y1="819.1" x2="1594.4" y2="819.1" stroke="#333" stroke-width="1.6"/>
<line x1="1682.1" y1="911.0" x2="1682.1" y2="907.0" stroke="#333" stroke-width="1.6"/>
<line x1="1590.4" y1="773.1" x2="1594.4" y2="773.1" stroke="#333" stroke-width="1.6"/>
<line x1="1727.9" y1="911.0" x2="1727.9" y2="907.0" stroke="#333" stroke-width="1.6"/>
<line x1="1590.4" y1="727.2" x2="1594.4" y2="727.2" stroke="#333" stroke-width="1.6"/>
<line x1="1773.7" y1="911.0" x2="1773.7" y2="907.0" stroke="#333" stroke-width="1.6"/>
<line x1="1590.4" y1="681.2" x2="1594.4" y2="681.2" stroke="#333" stroke-width="1.6"/>
<line x1="1819.5" y1="911.0" x2="1819.5" y2="907.0" stroke="#333" stroke-width="1.6"/>
<line x1="1590.4" y1="635.3" x2="1594.4" y2="635.3" stroke="#333" stroke-width="1.6"/>
<line x1="1865.3" y1="911.0" x2="1865.3" y2="907.0" stroke="#333" stroke-width="1.6"/>
<line x1="1590.4" y1="589.3" x2="1594.4" y2="589.3" stroke="#333" stroke-width="1.6"/>
<line x1="1911.2" y1="911.0" x2="1911.2" y2="907.0" stroke="#333" stroke-width="1.6"/>
<line x1="1957.0" y1="911.0" x2="1957.0" y2="907.0" stroke="#333" stroke-width="1.6"/>
<text x="1677.0" y="944.2" font-size="28.6" text-anchor="middle">-300</text>
<text x="1772.0" y="944.2" font-size="28.6" text-anchor="middle">0</text>
<text x="1868.3" y="944.2" font-size="28.6" text-anchor="middle">300</text>
<text x="1960.0" y="944.2" font-size="28.6" text-anchor="middle">600</text>
<text x="1778.5" y="557.4" font-size="32.4" text-anchor="middle">si PPP2R1A &amp; NHSL1</text>
<g fill="#357cc7"><circle cx="294.6" cy="1671.5" r="5.1"/><circle cx="299.2" cy="1686.1" r="5.1"/><circle cx="282.2" cy="1693.1" r="5.1"/><circle cx="290.4" cy="1695.2" r="5.1"/><circle cx="307.5" cy="1696.9" r="5.1"/><circle cx="273.4" cy="1701.3" r="5.1"/><circle cx="324.7" cy="1703.5" r="5.1"/><circle cx="282.2" cy="1705.7" r="5.1"/><circle cx="307.5" cy="1707.3" r="5.1"/><circle cx="316.1" cy="1708.0" r="5.1"/><circle cx="273.4" cy="1711.8" r="5.1"/><circle cx="290.4" cy="1712.3" r="5.1"/><circle cx="299.2" cy="1709.6" r="5.1"/><circle cx="307.5" cy="1718.4" r="5.1"/><circle cx="316.1" cy="1722.5" r="5.1"/><circle cx="264.8" cy="1724.2" r="5.1"/><circle cx="273.4" cy="1726.7" r="5.1"/><circle cx="282.2" cy="1726.2" r="5.1"/><circle cx="290.4" cy="1724.2" r="5.1"/><circle cx="299.2" cy="1731.7" r="5.1"/><circle cx="307.5" cy="1733.3" r="5.1"/><circle cx="324.7" cy="1731.2" r="5.1"/><circle cx="256.5" cy="1735.8" r="5.1"/><circle cx="264.8" cy="1735.5" r="5.1"/><circle cx="273.4" cy="1737.4" r="5.1"/><circle cx="282.2" cy="1737.4" r="5.1"/><circle cx="290.4" cy="1737.4" r="5.1"/><circle cx="299.2" cy="1741.6" r="5.1"/><circle cx="307.5" cy="1743.2" r="5.1"/><circle cx="316.1" cy="1743.2" r="5.1"/><circle cx="324.7" cy="1741.6" r="5.1"/><circle cx="256.5" cy="1749.9" r="5.1"/><circle cx="264.8" cy="1748.2" r="5.1"/><circle cx="273.4" cy="1748.2" r="5.1"/><circle cx="282.2" cy="1748.2" r="5.1"/><circle cx="290.4" cy="1749.9" r="5.1"/><circle cx="299.2" cy="1751.5" r="5.1"/><circle cx="307.5" cy="1754.0" r="5.1"/><circle cx="316.1" cy="1756.5" r="5.1"/><circle cx="333.5" cy="1748.2" r="5.1"/><circle cx="264.8" cy="1758.6" r="5.1"/><circle cx="282.2" cy="1762.3" r="5.1"/><circle cx="299.2" cy="1763.9" r="5.1"/><circle cx="264.8" cy="1768.9" r="5.1"/><circle cx="273.4" cy="1768.9" r="5.1"/><circle cx="290.4" cy="1768.9" r="5.1"/><circle cx="307.5" cy="1768.9" r="5.1"/><circle cx="316.1" cy="1768.1" r="5.1"/><circle cx="282.2" cy="1776.4" r="5.1"/><circle cx="299.2" cy="1778.0" r="5.1"/><circle cx="264.8" cy="1786.3" r="5.1"/><circle cx="273.4" cy="1790.4" r="5.1"/><circle cx="282.2" cy="1786.3" r="5.1"/><circle cx="290.4" cy="1783.8" r="5.1"/><circle cx="307.5" cy="1782.2" r="5.1"/><circle cx="316.1" cy="1783.8" r="5.1"/><circle cx="324.7" cy="1783.8" r="5.1"/><circle cx="307.5" cy="1792.9" r="5.1"/><circle cx="316.1" cy="1795.1" r="5.1"/><circle cx="282.2" cy="1798.7" r="5.1"/><circle cx="290.4" cy="1801.2" r="5.1"/><circle cx="299.2" cy="1805.3" r="5.1"/><circle cx="307.5" cy="1805.3" r="5.1"/><circle cx="316.1" cy="1809.5" r="5.1"/><circle cx="273.4" cy="1807.0" r="5.1"/><circle cx="282.2" cy="1813.6" r="5.1"/><circle cx="290.4" cy="1814.5" r="5.1"/><circle cx="299.2" cy="1816.1" r="5.1"/><circle cx="264.8" cy="1818.3" r="5.1"/><circle cx="273.4" cy="1820.2" r="5.1"/><circle cx="324.7" cy="1818.3" r="5.1"/><circle cx="282.2" cy="1825.2" r="5.1"/><circle cx="290.4" cy="1825.2" r="5.1"/><circle cx="299.2" cy="1826.9" r="5.1"/><circle cx="307.5" cy="1821.9" r="5.1"/><circle cx="316.1" cy="1821.9" r="5.1"/><circle cx="282.2" cy="1843.4" r="5.1"/><circle cx="290.4" cy="1845.9" r="5.1"/><circle cx="299.2" cy="1843.4" r="5.1"/><circle cx="307.5" cy="1845.9" r="5.1"/><circle cx="294.6" cy="1866.6" r="5.1"/></g>
<g fill="#d88a8b" stroke="#fff" stroke-width="0.35"><rect x="424.1" y="1720.4" width="9.2" height="9.2"/><rect x="419.2" y="1722.1" width="9.2" height="9.2"/><rect x="414.2" y="1727.9" width="9.2" height="9.2"/><rect x="419.2" y="1737.0" width="9.2" height="9.2"/><rect x="419.2" y="1747.8" width="9.2" height="9.2"/><rect x="424.1" y="1751.1" width="9.2" height="9.2"/><rect x="409.2" y="1756.9" width="9.2" height="9.2"/><rect x="414.2" y="1755.2" width="9.2" height="9.2"/><rect x="402.6" y="1766.8" width="9.2" height="9.2"/><rect x="409.2" y="1766.0" width="9.2" height="9.2"/><rect x="419.2" y="1764.3" width="9.2" height="9.2"/><rect x="430.7" y="1762.7" width="9.2" height="9.2"/><rect x="435.7" y="1766.8" width="9.2" height="9.2"/><rect x="424.1" y="1769.3" width="9.2" height="9.2"/><rect x="409.2" y="1777.6" width="9.2" height="9.2"/><rect x="414.2" y="1779.2" width="9.2" height="9.2"/><rect x="430.7" y="1777.6" width="9.2" height="9.2"/><rect x="419.2" y="1785.8" width="9.2" height="9.2"/><rect x="424.1" y="1787.5" width="9.2" height="9.2"/><rect x="430.7" y="1788.3" width="9.2" height="9.2"/><rect x="445.6" y="1794.1" width="9.2" height="9.2"/><rect x="392.7" y="1799.1" width="9.2" height="9.2"/><rect x="402.6" y="1799.9" width="9.2" height="9.2"/><rect x="409.2" y="1799.1" width="9.2" height="9.2"/><rect x="419.2" y="1795.8" width="9.2" height="9.2"/><rect x="424.1" y="1794.1" width="9.2" height="9.2"/><rect x="430.7" y="1795.8" width="9.2" height="9.2"/><rect x="435.7" y="1799.1" width="9.2" height="9.2"/><rect x="440.7" y="1804.1" width="9.2" height="9.2"/><rect x="386.0" y="1810.7" width="9.2" height="9.2"/><rect x="397.6" y="1807.4" width="9.2" height="9.2"/><rect x="409.2" y="1809.0" width="9.2" height="9.2"/><rect x="414.2" y="1810.7" width="9.2" height="9.2"/><rect x="452.3" y="1812.3" width="9.2" height="9.2"/><rect x="381.1" y="1819.0" width="9.2" height="9.2"/><rect x="387.7" y="1819.0" width="9.2" height="9.2"/><rect x="397.6" y="1817.3" width="9.2" height="9.2"/><rect x="404.2" y="1815.6" width="9.2" height="9.2"/><rect x="409.2" y="1819.0" width="9.2" height="9.2"/><rect x="424.1" y="1815.6" width="9.2" height="9.2"/><rect x="430.7" y="1817.3" width="9.2" height="9.2"/><rect x="440.7" y="1815.6" width="9.2" height="9.2"/><rect x="445.6" y="1815.6" width="9.2" height="9.2"/><rect x="455.6" y="1817.3" width="9.2" height="9.2"/><rect x="457.2" y="1822.3" width="9.2" height="9.2"/><rect x="450.6" y="1823.9" width="9.2" height="9.2"/><rect x="397.6" y="1827.2" width="9.2" height="9.2"/><rect x="404.2" y="1830.6" width="9.2" height="9.2"/><rect x="414.2" y="1830.6" width="9.2" height="9.2"/><rect x="424.1" y="1830.6" width="9.2" height="9.2"/><rect x="430.7" y="1827.2" width="9.2" height="9.2"/><rect x="435.7" y="1830.6" width="9.2" height="9.2"/><rect x="440.7" y="1828.9" width="9.2" height="9.2"/><rect x="397.6" y="1837.2" width="9.2" height="9.2"/><rect x="409.2" y="1838.8" width="9.2" height="9.2"/><rect x="424.1" y="1838.8" width="9.2" height="9.2"/><rect x="430.7" y="1835.5" width="9.2" height="9.2"/><rect x="445.6" y="1842.1" width="9.2" height="9.2"/><rect x="435.7" y="1840.5" width="9.2" height="9.2"/><rect x="404.2" y="1848.8" width="9.2" height="9.2"/><rect x="414.2" y="1848.8" width="9.2" height="9.2"/><rect x="424.1" y="1850.4" width="9.2" height="9.2"/><rect x="430.7" y="1845.5" width="9.2" height="9.2"/><rect x="435.7" y="1848.8" width="9.2" height="9.2"/><rect x="400.9" y="1842.1" width="9.2" height="9.2"/><rect x="414.2" y="1857.0" width="9.2" height="9.2"/><rect x="419.2" y="1855.4" width="9.2" height="9.2"/><rect x="419.2" y="1873.6" width="9.2" height="9.2"/><rect x="429.1" y="1872.0" width="9.2" height="9.2"/><rect x="414.2" y="1880.2" width="9.2" height="9.2"/><rect x="424.1" y="1876.9" width="9.2" height="9.2"/><rect x="415.8" y="1893.5" width="9.2" height="9.2"/><rect x="410.9" y="1900.1" width="9.2" height="9.2"/><rect x="425.8" y="1896.8" width="9.2" height="9.2"/><rect x="419.2" y="1900.1" width="9.2" height="9.2"/><rect x="391.0" y="1815.6" width="9.2" height="9.2"/><rect x="402.6" y="1810.7" width="9.2" height="9.2"/></g>
<g fill="#cf3d43"><path d="M552.1 1624.2l5 9.4h-10z"/><path d="M556.7 1645.4l5 9.4h-10z"/><path d="M539.7 1655.7l5 9.4h-10z"/><path d="M548.3 1653.7l5 9.4h-10z"/><path d="M556.7 1655.7l5 9.4h-10z"/><path d="M565.3 1651.5l5 9.4h-10z"/><path d="M556.7 1670.9l5 9.4h-10z"/><path d="M565.3 1670.9l5 9.4h-10z"/><path d="M531.1 1679.7l5 9.4h-10z"/><path d="M539.7 1681.3l5 9.4h-10z"/><path d="M548.3 1685.5l5 9.4h-10z"/><path d="M556.7 1685.5l5 9.4h-10z"/><path d="M565.3 1685.5l5 9.4h-10z"/><path d="M573.6 1685.5l5 9.4h-10z"/><path d="M582.2 1688.0l5 9.4h-10z"/><path d="M531.1 1690.1l5 9.4h-10z"/><path d="M539.7 1694.6l5 9.4h-10z"/><path d="M548.3 1697.1l5 9.4h-10z"/><path d="M565.3 1698.7l5 9.4h-10z"/><path d="M522.3 1708.7l5 9.4h-10z"/><path d="M531.1 1708.7l5 9.4h-10z"/><path d="M539.7 1708.7l5 9.4h-10z"/><path d="M548.3 1708.7l5 9.4h-10z"/><path d="M582.2 1708.7l5 9.4h-10z"/><path d="M556.7 1713.3l5 9.4h-10z"/><path d="M565.3 1715.3l5 9.4h-10z"/><path d="M573.6 1717.8l5 9.4h-10z"/><path d="M514.0 1721.9l5 9.4h-10z"/><path d="M548.3 1721.9l5 9.4h-10z"/><path d="M556.7 1722.7l5 9.4h-10z"/><path d="M591.0 1721.9l5 9.4h-10z"/><path d="M522.3 1726.1l5 9.4h-10z"/><path d="M531.1 1731.0l5 9.4h-10z"/><path d="M539.7 1726.9l5 9.4h-10z"/><path d="M565.3 1730.2l5 9.4h-10z"/><path d="M582.2 1728.5l5 9.4h-10z"/><path d="M522.3 1736.0l5 9.4h-10z"/><path d="M548.3 1733.5l5 9.4h-10z"/><path d="M573.6 1734.3l5 9.4h-10z"/><path d="M531.1 1744.3l5 9.4h-10z"/><path d="M539.7 1744.3l5 9.4h-10z"/><path d="M548.3 1744.3l5 9.4h-10z"/><path d="M556.7 1745.1l5 9.4h-10z"/><path d="M565.3 1745.9l5 9.4h-10z"/><path d="M582.2 1745.1l5 9.4h-10z"/><path d="M591.0 1751.7l5 9.4h-10z"/><path d="M514.0 1758.0l5 9.4h-10z"/><path d="M522.3 1762.2l5 9.4h-10z"/><path d="M531.1 1758.3l5 9.4h-10z"/><path d="M539.7 1762.5l5 9.4h-10z"/><path d="M548.3 1760.0l5 9.4h-10z"/><path d="M556.7 1760.0l5 9.4h-10z"/><path d="M565.3 1758.3l5 9.4h-10z"/><path d="M582.2 1760.0l5 9.4h-10z"/><path d="M573.6 1765.0l5 9.4h-10z"/><path d="M565.3 1768.3l5 9.4h-10z"/><path d="M591.0 1766.6l5 9.4h-10z"/><path d="M531.1 1772.9l5 9.4h-10z"/><path d="M539.7 1774.9l5 9.4h-10z"/><path d="M548.3 1774.9l5 9.4h-10z"/><path d="M556.7 1770.8l5 9.4h-10z"/><path d="M573.6 1777.4l5 9.4h-10z"/><path d="M556.7 1781.5l5 9.4h-10z"/><path d="M539.7 1789.8l5 9.4h-10z"/><path d="M548.3 1785.7l5 9.4h-10z"/><path d="M565.3 1789.8l5 9.4h-10z"/><path d="M573.6 1789.8l5 9.4h-10z"/><path d="M556.7 1794.8l5 9.4h-10z"/><path d="M531.1 1800.6l5 9.4h-10z"/><path d="M548.3 1798.9l5 9.4h-10z"/><path d="M565.3 1800.6l5 9.4h-10z"/><path d="M539.7 1807.2l5 9.4h-10z"/><path d="M556.7 1805.5l5 9.4h-10z"/><path d="M573.6 1807.2l5 9.4h-10z"/><path d="M531.1 1811.3l5 9.4h-10z"/><path d="M548.3 1813.8l5 9.4h-10z"/><path d="M539.7 1832.9l5 9.4h-10z"/><path d="M565.3 1828.7l5 9.4h-10z"/><path d="M556.7 1834.5l5 9.4h-10z"/><path d="M548.3 1842.8l5 9.4h-10z"/></g>
<g fill="#80a0d4"><path d="M681.6 1657.8l5-9.4h-10z"/><path d="M689.2 1678.5l5-9.4h-10z"/><path d="M681.6 1685.1l5-9.4h-10z"/><path d="M677.6 1706.6l5-9.4h-10z"/><path d="M669.7 1710.8l5-9.4h-10z"/><path d="M685.4 1712.4l5-9.4h-10z"/><path d="M692.9 1710.8l5-9.4h-10z"/><path d="M666.4 1729.8l5-9.4h-10z"/><path d="M673.8 1729.8l5-9.4h-10z"/><path d="M681.6 1727.3l5-9.4h-10z"/><path d="M696.7 1725.7l5-9.4h-10z"/><path d="M696.7 1735.6l5-9.4h-10z"/><path d="M681.6 1744.7l5-9.4h-10z"/><path d="M711.9 1743.0l5-9.4h-10z"/><path d="M666.4 1748.0l5-9.4h-10z"/><path d="M673.8 1750.5l5-9.4h-10z"/><path d="M658.6 1753.0l5-9.4h-10z"/><path d="M704.5 1748.8l5-9.4h-10z"/><path d="M711.9 1752.2l5-9.4h-10z"/><path d="M643.2 1757.1l5-9.4h-10z"/><path d="M650.6 1757.1l5-9.4h-10z"/><path d="M666.4 1758.8l5-9.4h-10z"/><path d="M681.6 1754.6l5-9.4h-10z"/><path d="M689.2 1755.5l5-9.4h-10z"/><path d="M720.2 1758.8l5-9.4h-10z"/><path d="M658.6 1762.9l5-9.4h-10z"/><path d="M673.8 1761.3l5-9.4h-10z"/><path d="M696.7 1763.7l5-9.4h-10z"/><path d="M704.5 1762.1l5-9.4h-10z"/><path d="M711.9 1762.9l5-9.4h-10z"/><path d="M643.2 1769.5l5-9.4h-10z"/><path d="M658.6 1774.5l5-9.4h-10z"/><path d="M704.5 1771.2l5-9.4h-10z"/><path d="M720.2 1769.5l5-9.4h-10z"/><path d="M650.6 1777.8l5-9.4h-10z"/><path d="M666.4 1777.8l5-9.4h-10z"/><path d="M673.8 1777.8l5-9.4h-10z"/><path d="M681.6 1777.8l5-9.4h-10z"/><path d="M689.2 1776.2l5-9.4h-10z"/><path d="M696.7 1777.8l5-9.4h-10z"/><path d="M711.9 1775.3l5-9.4h-10z"/><path d="M658.6 1786.1l5-9.4h-10z"/><path d="M666.4 1787.8l5-9.4h-10z"/><path d="M673.8 1786.9l5-9.4h-10z"/><path d="M696.7 1786.1l5-9.4h-10z"/><path d="M704.5 1782.8l5-9.4h-10z"/><path d="M658.6 1795.2l5-9.4h-10z"/><path d="M673.8 1796.9l5-9.4h-10z"/><path d="M681.6 1792.7l5-9.4h-10z"/><path d="M689.2 1793.6l5-9.4h-10z"/><path d="M696.7 1796.0l5-9.4h-10z"/><path d="M704.5 1792.7l5-9.4h-10z"/><path d="M666.4 1802.7l5-9.4h-10z"/><path d="M681.6 1801.8l5-9.4h-10z"/><path d="M696.7 1806.0l5-9.4h-10z"/><path d="M658.6 1810.1l5-9.4h-10z"/><path d="M673.8 1811.8l5-9.4h-10z"/><path d="M681.6 1812.6l5-9.4h-10z"/><path d="M711.9 1810.1l5-9.4h-10z"/><path d="M650.6 1816.7l5-9.4h-10z"/><path d="M666.4 1818.4l5-9.4h-10z"/><path d="M689.2 1816.7l5-9.4h-10z"/><path d="M696.7 1816.7l5-9.4h-10z"/><path d="M704.5 1818.4l5-9.4h-10z"/><path d="M658.6 1826.7l5-9.4h-10z"/><path d="M673.8 1825.0l5-9.4h-10z"/><path d="M681.6 1825.8l5-9.4h-10z"/><path d="M689.2 1826.7l5-9.4h-10z"/><path d="M696.7 1827.5l5-9.4h-10z"/><path d="M711.9 1826.7l5-9.4h-10z"/><path d="M666.4 1833.3l5-9.4h-10z"/><path d="M673.8 1835.8l5-9.4h-10z"/><path d="M681.6 1835.8l5-9.4h-10z"/><path d="M689.2 1837.4l5-9.4h-10z"/><path d="M696.7 1838.3l5-9.4h-10z"/><path d="M666.4 1844.1l5-9.4h-10z"/><path d="M673.8 1850.7l5-9.4h-10z"/><path d="M681.6 1849.9l5-9.4h-10z"/><path d="M696.7 1850.7l5-9.4h-10z"/><path d="M689.2 1859.0l5-9.4h-10z"/><path d="M673.8 1865.6l5-9.4h-10z"/></g>
<line x1="209.1" y1="1826.5" x2="768.0" y2="1826.5" stroke="#444" stroke-width="1.8" stroke-dasharray="9 5"/>
<line x1="252.0" y1="1764.8" x2="338.0" y2="1764.8" stroke="#000" stroke-width="2.5"/>
<line x1="272.7" y1="1754.8" x2="316.9" y2="1754.8" stroke="#000" stroke-width="2.5"/>
<line x1="272.7" y1="1774.4" x2="316.9" y2="1774.4" stroke="#000" stroke-width="2.5"/>
<line x1="294.9" y1="1754.8" x2="294.9" y2="1774.4" stroke="#000" stroke-width="2.5"/>
<line x1="381.0" y1="1817.8" x2="466.5" y2="1817.8" stroke="#000" stroke-width="2.5"/>
<line x1="401.9" y1="1808.7" x2="445.8" y2="1808.7" stroke="#000" stroke-width="2.5"/>
<line x1="401.9" y1="1826.5" x2="445.8" y2="1826.5" stroke="#000" stroke-width="2.5"/>
<line x1="423.8" y1="1808.7" x2="423.8" y2="1826.5" stroke="#000" stroke-width="2.5"/>
<line x1="509.5" y1="1745.2" x2="595.5" y2="1745.2" stroke="#000" stroke-width="2.5"/>
<line x1="530.6" y1="1734.1" x2="574.8" y2="1734.1" stroke="#000" stroke-width="2.5"/>
<line x1="530.6" y1="1756.2" x2="574.8" y2="1756.2" stroke="#000" stroke-width="2.5"/>
<line x1="552.9" y1="1734.1" x2="552.9" y2="1756.2" stroke="#000" stroke-width="2.5"/>
<line x1="638.7" y1="1777.2" x2="724.3" y2="1777.2" stroke="#000" stroke-width="2.5"/>
<line x1="659.2" y1="1767.6" x2="703.6" y2="1767.6" stroke="#000" stroke-width="2.5"/>
<line x1="659.2" y1="1787.1" x2="703.6" y2="1787.1" stroke="#000" stroke-width="2.5"/>
<line x1="681.6" y1="1767.6" x2="681.6" y2="1787.1" stroke="#000" stroke-width="2.5"/>
<line x1="209.1" y1="1613.0" x2="209.1" y2="1934.0" stroke="#222" stroke-width="1.8"/>
<line x1="208.2" y1="1933.0" x2="767.0" y2="1933.0" stroke="#222" stroke-width="1.8"/>
<line x1="209.1" y1="1613.7" x2="224.1" y2="1613.7" stroke="#222" stroke-width="1.8"/>
<line x1="209.1" y1="1720.1" x2="224.1" y2="1720.1" stroke="#222" stroke-width="1.8"/>
<line x1="294.6" y1="1933.0" x2="294.6" y2="1918.0" stroke="#222" stroke-width="1.8"/>
<line x1="423.8" y1="1933.0" x2="423.8" y2="1918.0" stroke="#222" stroke-width="1.8"/>
<line x1="553.3" y1="1933.0" x2="553.3" y2="1918.0" stroke="#222" stroke-width="1.8"/>
<line x1="681.7" y1="1933.0" x2="681.7" y2="1918.0" stroke="#222" stroke-width="1.8"/>
<text x="194.6" y="1618.1" font-size="28.3" text-anchor="end">1</text>
<text x="194.6" y="1726.4" font-size="28.3" text-anchor="end">0.5</text>
<text x="194.6" y="1832.8" font-size="28.3" text-anchor="end">0</text>
<text x="194.6" y="1941.0" font-size="28.3" text-anchor="end">-0.5</text>
<text x="169.3" y="1981.4" font-size="28.3" text-anchor="middle">siRNA</text>
<text x="286.3" y="1981.4" font-size="28.3" text-anchor="middle">CTRL</text>
<text x="409.8" y="1981.4" font-size="28.3" text-anchor="middle">PPP2R1A</text>
<text x="554.0" y="1981.4" font-size="28.3" text-anchor="middle">NHSL1</text>
<text x="697.7" y="1981.4" font-size="28.3" text-anchor="middle">PPP2R1A</text>
<text x="689.8" y="2016.2" font-size="28.3" text-anchor="middle">&amp; NHSL1</text>
<text x="119.0" y="1767.7" font-size="30.1" text-anchor="middle" transform="rotate(-90 119.0 1767.7)">Forward Motility Index</text>
<line x1="297.6" y1="1646.7" x2="421.2" y2="1646.7" stroke="#000" stroke-width="2"/>
<line x1="297.6" y1="1597.2" x2="544.0" y2="1597.2" stroke="#000" stroke-width="2"/>
<line x1="554.4" y1="1597.2" x2="678.0" y2="1597.2" stroke="#000" stroke-width="2"/>
<line x1="427.8" y1="1546.6" x2="674.4" y2="1546.6" stroke="#000" stroke-width="2"/>
<line x1="297.6" y1="1496.0" x2="678.0" y2="1496.0" stroke="#000" stroke-width="2"/>
<text x="363.1" y="1624.8" font-size="30.5" text-anchor="middle">****</text>
<text x="362.9" y="1639.4" font-size="22.3" text-anchor="middle"><tspan font-style="italic">P</tspan> &lt;0.0001</text>
<text x="420.4" y="1575.3" font-size="30.5" text-anchor="middle">*</text>
<text x="413.9" y="1590.6" font-size="22.3" text-anchor="middle"><tspan font-style="italic">P</tspan> = 0.0121</text>
<text x="594.8" y="1577.1" font-size="30.5" text-anchor="middle">****</text>
<text x="593.5" y="1590.6" font-size="22.3" text-anchor="middle"><tspan font-style="italic">P</tspan> &lt;0.0001</text>
<text x="525.5" y="1525.7" font-size="30.5" text-anchor="middle">****</text>
<text x="525.4" y="1539.2" font-size="22.3" text-anchor="middle"><tspan font-style="italic">P</tspan> &lt;0.0001</text>
<text x="508.0" y="1465.6" font-size="29.5" text-anchor="middle">n.s.</text>
<text x="508.5" y="1488.6" font-size="22.3" text-anchor="middle"><tspan font-style="italic">P</tspan> = 0.746</text>
<linearGradient id="fng" x1="0" y1="0" x2="0" y2="1"><stop offset="0" stop-color="#2a7ec3"/><stop offset="0.45" stop-color="#7fb1dc"/><stop offset="1" stop-color="#ffffff"/></linearGradient>
<path d="M958.8 1107H1012.5L958.8 1443Z" fill="url(#fng)"/>
<text x="936.5" y="1243.7" font-size="33.0" text-anchor="middle" transform="rotate(-90 936.5 1243.7)">Fibronectin</text>
<path d="M1177.3 1077.6V1476.6M1110.8 1144.1H1509.8M1243.8 1077.6V1476.6M1110.8 1210.6H1509.8M1376.8 1077.6V1476.6M1110.8 1343.6H1509.8M1443.3 1077.6V1476.6M1110.8 1410.1H1509.8" stroke="#d4d4d4" stroke-width="1.3" fill="none"/>
<path d="M1644.3 1075.9V1474.9M1577.8 1142.4H1976.8M1710.8 1075.9V1474.9M1577.8 1208.9H1976.8M1843.8 1075.9V1474.9M1577.8 1341.9H1976.8M1910.3 1075.9V1474.9M1577.8 1408.4H1976.8" stroke="#d4d4d4" stroke-width="1.3" fill="none"/>
<path d="M1178.2 1526.6V1925.6M1111.7 1593.1H1510.7M1244.7 1526.6V1925.6M1111.7 1659.6H1510.7M1377.7 1526.6V1925.6M1111.7 1792.6H1510.7M1444.2 1526.6V1925.6M1111.7 1859.1H1510.7" stroke="#d4d4d4" stroke-width="1.3" fill="none"/>
<path d="M1645.5 1526.0V1925.0M1579.0 1592.5H1978.0M1712.0 1526.0V1925.0M1579.0 1659.0H1978.0M1845.0 1526.0V1925.0M1579.0 1792.0H1978.0M1911.5 1526.0V1925.0M1579.0 1858.5H1978.0" stroke="#d4d4d4" stroke-width="1.3" fill="none"/>
<g transform="scale(0.5)" fill="none" stroke-width="1.9" stroke-linejoin="round">
<path stroke="#151515" d="M2621 2554l-4-8 6-11 2-7 0-9-5-4-5 0-5-5-3-2-3-13-3-7-13-3-14-3-2-10 4-3 12-7 7 2 6 8 0 13 10 2 7 0 10-2 6-4 4-7 0-6-5-1-3-3-8-1-4-1-8 2-10-2-4 0-8-5-5-6-6-12-11 4-7-4-4-1-11 5-8 8-9-6M2621 2554l0-13 6-10 5-4 0-5-5-8 4-7 12-3 10-2 1-10 1-4 4-9 2-5 6 3 6-3 3-11 2-4 4-3 5-12 3-11-2-4 3-9 9-8-2-4-1-11-4-1-3-1-11 0-3-4-4-7 2-8 1-9 1-11 5-13 0-8 1-9 5-11-5-12 3-8-1-4 3-3 6 1M2621 2554l-9-2-6-7-12-2-4 2-7 9-2 4-8 3-4 0-5 0-12 0-7 2-5-4 0-10 1-5 7-6 3-6 8-8 5-2 9 5 13 4 13 3 1 8 2 3 9 3M2621 2554l-3-8 2-2 12-6 4-7-3-13-10-9-2-10-6-8-7-1-8-1-8 9-5 9-8 2-11-8-5-7-8-5-10-2-2-5-6-12 2-7 1-7 11-8 10 1 2-5-2-4-3-7-2-13-1-4-5-1-8-4 3-3 5-4 9-4 8 7 6 4 13 0 7-6 5-6 3-3 4-6 2-7-3-12 5-10 3-5-2-12-3-13M2621 2554l-4-9-5-4-1-14 11-4 5-1 7 11 0 13-2 4-5 11-3 2-7 4-11-2-6 2-7 0-11-4-11-1-9-3-3-6-3-6-3-3-5-5-4-3 2-3-1-6 3-8M2621 2554l10-9 7-7 3-3-2-3-10-7-5-4-2-5-4-5-12-3-4-2-11-2-9 3-6 3-5 4-8 6-4 2-10-6-5-9 1-7 3-6 2-6 12-4 3-8 12-5M2621 2554l8 0 7-4 1-4-4-11 2-13-1-3 2-11-3-8 2-13 6-9 4-3 7-6 2-14-2-8-6-6-3-9-6-5-8-3-11-2-9 6-6 4-11 6-8 0-13 1-11-4-8-12 0-9 2-6 1-14 1-11 3-12 0-7-4-10M2621 2554l8 2 7-10 1-14 1-7 0-7-9-7-5-7 8-9 2-4 10-7 4-6 4-5 6-3 5-1 8-5 11 1 4 0 6-8 5-8-2-8-5-3 1-10 4-8-5-11-3-13-6-10-3-6 4-9-4-13 0-4 1-3 7-2 7-3 2-4M2621 2554l13 0 11 3 4-5 2-3 2-4 2-3 6-4 5-2 6 0 10 0 13 7 10 0 9-2 12-5 11-2 11 2 13 3 7-5 1-6 0-3 5-4 4-6 4-4 2-5 2-4 8-4 10-5-5-12-5-5-14 0-9-4-5-2-13-3-5-1-5 1-6 11-8 1-7 1-11 5-8-10M2621 2554l3-4 3-7 3-5 1-4 11-6 1-13-6-5-10 2-13-2-6-1-13-4-12 4-7 0-7 1-5-1-7-1-8-1-8-11-2-5-10-6-10-2-7 4-10 0-8 4M2621 2554l6-12-6-11-2-6-3-2-5-1-5-4-6-4-2-3-11-7-1-11-1-7 0-4 5-9 2-8-1-6-7-8-3-11-8-10-2-5-1-4 4-12 1-6 0-6M2621 2554l-3-2-6 1-12 5-6 6-8 5-10-2-3 7 9 5 6 1 6 8 8 5 7-5 7-1 10-1 8-10 2-4-1-8 8-7 6-9 5-1 3 2 3 3 13-3 13 3 10 3 11-5 3-10 5-10 7-3 5-4-4-3-1-8-1-4 1-12 2-7 7-6-1-4 2-11-1-9-4-9 1-11-6-8-4-12-11-4-6-12-4-7M2621 2554l-2-6-6-11 1-11 0-4 5-9 9-8 0-7 5-3 8-3 10 1 10-8 1-9-4-6-3-7-6-8-1-7-4-11-2-4-10-4-4 1-7 3-5 2-9 4-8 7-7 10-1 12-5 10-3 4-7 4M2621 2554l4-7 9-10-2-12-5-8 0-13 8-11 4-3 14-1 7-5 0-11-4-9-3-5-2-4-6-4 0-5-3-13-10-5-7 3-10 5-7-1-12-3-8-3-12-5-5-6-4-3-2-10-1-7 1-4 1-11 2-5-2-7M2621 2554l8-7 7-8 4-1 12-3-1-9 9-6 3-7 2-11 0-7-1-9-3-10-8-9-5-10-6-4-2-6-2-5 2-4 2-12 8-3 4 8 0 13-10 9-12 4-5 0-10-6-6-5-8-5-12-6-4-7-10-4-9-5 4-8 2-4 2-3 5-4 0-3 5-6 10-7 4-5 3 3M2621 2554l9-3 13 1 10-4 5-3 8 1 3-1 11-7 3-2 1-12-2-7 4-12 2-10 3-10 1-3 4-1 11-4 7-11 3-2 5-7 0-5-2-7 0-4-7-11-3-1-8-1-3-2-8-4-8-3-2-3-5-7M2621 2554l2-9-4-9-7-5-8-9-7-11 6-11 3-2 4-7-5-4-5-7-8-9 3-14-2-3 2-4-3-9 0-4 6-6 9-3 4-13 2-5 5-9 2-6 3-3 8-1 2 3 4 4 4 9 4 11 9 5 1 9 2 11M2621 2554l-2-6-2-7-3-8 4-7 0-3-2-8-1-3 3-12 7-8 2-6 0-5 1-8-7-11 3-5 6-10 3-6 2-5 2-4 11-7 3-14-1-6-1-5-4-6 0-3 5-2 9-7 7-10M2621 2554l2-9 2-3 3-4 2-3 7-8 1-9-1-4 4-9 6-5 5-4 4-9 2-6 0-6 11-3 11-5 11-4 5 1 12-3 13-5 9-10 4-12 10-6 4-3M2621 2554l-7-9-6-12-6-6-7-2-7 2-5 5-7 6-3 11-5 4-14 0-3-1-3-3-3-3-1-4-3-8-3-5-1-8-2-6 1-7 3-11 3-5 3-10-1-11-3-10-4-4-10-4-8-10 1-6-6-13 1-8 5-5 13 0 8 9 2 3 7 0 10 8 8 10 6 6 9-2 5-6 1-11 5-2 10-6 7-10M2621 2554l3-8-2-6-6-8 3-8 4-11-5-7-1-5-3-10-1-13 3-7 0-4 0-8 0-7 7-7-3-13-4-4-7-4-12-3-5-3-8 4-2 10 6 8 4 8 2 7-1 11 2 11 9 6 6 6 4 2 11 0 6 0 5 2 11-1 5-2 7-1 5-3 5 1 6 8-5 5-1 9-4 10M2621 2554l-2-8-4-1-5 1-8-6-1-8 2-12 3-4 0-11 8-8 0-12 3-9 3-6 3-4 3-1 7-9 3-4 2-5-4-6-2-3-13-6-13-7-3-7 3-5 3-7-3-11 5-13 9 0 4 6 6 7 5 3 3 3 11 6 2 5 10 6 8 7 5-1 11 2 8-5 14-3 7 7 1 11M2621 2554l-3-12-3-5-7-1-10-2-13-3-3-6-5-10 1-10 3-9 2-9 3-8 4-8 1-7-4-8-5-6-4-8-7-7 0-8-6-11-3-9 3-12-1-9-3-11-4-10-2-10 6-8 3-4 2-3 7-7 0-4 0-12 7-4 1-3M2621 2554l12 7 9-6 12-3 7-3 9-2 10-6 14 4 11 0 4-4 1-9-3-6-6-5-11-2-6 2-6 4-6-1-8-2-5-3-9-2-6 2-10-4-8-7-8 0-9-4-4-8-8-6-7-1-6 5-10 2-5 1-10 3-7-1-4-2-5-11-4-4M2621 2554l6-7 3-8-2-6-2-4-1-10 3-9 10-9 4-8-8-10-13-1-9-1-6 1-3 0-8 4-6 6-5 12-1 7-3 12-4 14-3 7-4 6-3 1-13-3-5-8 0-13 1-11-6-12-5-5-2-3-2-4M2621 2554l-1-3-1-12-7-8 0-3-2-13-7-4-13 3-7-3-4-5-1-7 4-14 0-5 3-12-3-9 1-4 10-6 5-4 0-3 0-10-3-5-3-4 1-13 0-15 4-10 2-13 3-12 1-11 10-9 3-11 13-1 3-3 11-6 8 0 5 0 11 1 12 1 4-4 3-12 3-12 7-11 4-10 0-9-6-11 8-4 6 3 7 8M2621 2554l5-2 0-6-13-3-12 4-5 8-13 4-5 9 0 12 2 6 6 6 6-5 11 3 8 3 5 2 8 3 7 0 9 1 5 3 12-7 6-8-7-7-1-3 0-4-7-12-5-12 2-4 2-6 2-12 4-4 13-6M2621 2554l-4-7-1-6-3-12-2-10-5-8-3-4-6-2-10 2 0 11 2 12 6 8 3 4 7 9 4 2 6 6 7 4 4 10 5-1 11-5 3-5 5-8-3-4-5-7 0-6 4-6 3-7 0-4-3-4-6-11-4-10 3-12 10-5 10 6 7 2 9 3 11 5 5-1 3-8 7-5M2621 2554l10-7 2-2 8-2 2 1 7 0 7 2 5-12 6-6 9-7 2-6 10-5 2-13 0-4-4-3-7-4-9-11-11-3-10-8-14 2-2-2-10-1-4 0-13-1-2 3-3 10M2621 2554l-3-6-4-10 3-4 2-8 7-9 12-7 6-2 14-2 5-1 13-1 6-2 4 0 3-10 3-12 1-9 8-12 7-6 8-11 7-4 6-3 4-3 1-11 5-3M2621 2554l-4-2-3-9-5-1-3-13-7-8-3-9-6-5-1-11 4-8 1-4 2-6 1-3 6-4 11 0 9 1 11 1 7-1 8 2 4 0 6-4 1-10-1-7-6-9-4-2-4 5-10 9-4 2-3 6-1 7 2 8 0 11-5 5 7 10 0 4 4 3 4 3 1 6 7 9M2621 2554l-1-8-1-5 2-3 4-3 5-4-1-3 2-10 5-6 1-8-1-8-2-5-5-5-13-4-3-6-5-1-2-7-3-5-6-5-10-4-5-2-5-1-3-3-9-11-8-3-8-6-10-4-5-3-7-5-5-6-5-1-9-10-2-10-4-9-10-7 0-7 1-10 4-10 1-4-7-4-10-8-1-5-3-5-6-9-4-8-3-11 2-4 1-13-2-7M2621 2554l8-1 9 5 10-6 10 0 10-3 4 0 6 1 8 1 6-9-1-9 7-11 5-12 0-3 0-5 5-12-6-11-13-2-6 1-4 5 1 11-2 8-2 9-7 1-11-3-5-1M2621 2554l-6-1-6 0-4-4-8-2-7 5-4 0-9 2-8 4-2 3-3 2-11 0-9-3-5-1-8 1-10-2-3-1-5-1-7-6-13 2-7-2-11-10-11-5-2-8 0-6M2621 2554l-9-6 1-8-1-6-7-7 1-4-5-6-6-5-3-3-13-4-10-6-12-4-13-2-6-2-3-4-6-1-10-4-8 0-9-3-7-5-10-4-5-2-9-6M2621 2554l-8-7-7-8-7-2-2-5-4-1-2 6 2 9 7 5 7 11 7 10 0 4 3 13 6 6-1 5-13 4-3-1-9 9-4 4-6-1-11-2-8-5-5-7-4-4-4-4 2-5-1-8-1-12 5-4 1-5 3-4 4-4 4-3 5-8M2621 2554l-8-10-6-11-3-1-8 2-7-3-11 5-13 0-4-1-13-3-3-1-5-10 3-9 5-12 1-7-2-5-6-7-3-3-3 1-14-2-12 4-7 1-9 3-6 5-7 5-3 1-10-4-8 2-10-2-5 3-6 2-6 1-5 2-10 0-9 1-12-2-8 1M2621 2554l-14-1-6 4-12 6-11 3-6 1-12-6-1-12 8-9 8-4 8-10 8-11 6-7 1-9 1-4 6-6 1-8 7-2 9-4 3-4 13-7-6-3-1-7-9-9 2-8 5-10 12 1 7 0 12 5 9 2 8 5 1 4 3 4-1 5-5 11-4 1-3 3-4 2-11 6-11-2M2621 2554l3-6 10-4 13 3 5-6 4-2 13-2 6-10 9-7 1-7 10-7 6 2 6 0 8-5 4-4 8-7 6-1 6 0 8-9 14 0 7 1 9-1 5 2 6 1 4 1 4 5 0 6M2621 2554l3-7 2-5-3-5-9-3 1-6 0-8 1-6-1-3 2-10-6-8-5-1-8 8-3-2-3-2 1-7-4-11-2-14-3-8-6-1-7-3-1-6-4-12-1-7 2-9 4-6 3-4M2621 2554l-12-7-7-1-13 2-7-2-5-5 2-8 0-7 8-12 2-5 7-10-1-4-10-3-3 1-11-5-9-1-8-1-2-4-5-5-10-6-1-3-4-4-3-10-8-7-8-9-7-11M2621 2554l-3-12 0-4-3-13-5-7-6-10-13 2-5-2-4-2-10-5-10-7 0-12 2-7 5-10 1-5 4-8-1-6-9-5 0-6 5-6 1-5-2-6-3-7-7-11-12-5-4-1-11-2-8-9-11-1-5 0-12-2-9 6-8 6-6 7-3 7M2621 2554l2-4 0-9-2-3-7-7-6-3-7-6-5-10-4-1-6-8-1-6-4-5-8-5-10-5-6 2-2 2-6 6-7 7 1 4-2 11 2 12 2 11 7 4 5-2 5-2 3-4 3-10 5-10 1-5 4-6 10-7M2621 2554l-5-4-2-9 0-11 0-7-3-3-12 4-3 2-12-3-5-4-5-2-4-2-12 6-2 6 3 5 2 10 1 8 1 9 5 11 13 4 4 4 10 3 5 7 13 3 4-1 8-7 8-6 4-2 7-2 4-1 4-7 7-5 1-5-1-14 0-4-6-11 0-6-5-11-13-4-9-6-8-8-7-1-12 4-4 2-7 3-3 2-10 4M2621 2554l1-10-2-8 1-3-12-7-6-3-9 0-4-2-6 1-7-5-6-12-2-8 0-3 1-5-4-10 1-8-5 0-11 0-8 2-4 1-3 9-1 5 10 6 14 3 3 2 6 12 10 9 12 6 3 12 1 7-9 7-9-2-4-1-9-2-9-8-6-3-4-8-6-8-8-9M2621 2554l11-4 8-6 8 8 11-2 4-3 3-9-2-13-2-4-8-12-1-12 2-4 5-4 7-9 11-4 4-2 5-3 4-12 4-6 4-8 6-6 10-6 0-13-8-11-4-9 0-5-3-7-1-4 1-6-5-8M2621 2554l5-10 6-8-3-1-8-10-1-7 9-8-1-7 3-8 1-3 3-6-1-12 2-7 6-12 1-6 2-4-4-11 1-5-5-10-4-5-1-4-5-10 2-6 2-11-3-5 1-12 1-4 4-4 8-3 7-1M2621 2554l-4-5-10-8-2-5-4-3-5-4-5-6-6-5-2-4-7-9-12-4-6-2-8-4-11-1-5 0-2-2-4-2-3 2-4 1-8 5-4 3-11 9-11 8-10 1-5 11-11 1-8-5-1-5 1-10 3-4 11 0 7 4 5 1 2-4 2-11M2621 2554l-2-8-4-2-4-5-11-2-5 3-9-3-3 4-7-1-8-6-8-4 0-8 5-4 3 3 2 2 4 12-2 11 0 10-4 11-8 7-5 6-6 7-9-1-10-9-3-7 1-8-4-2-10-9-8-8 0-4 4-6 3-13 0-8 7-9 7-4 9-6 10 1 10 3 6 2 8-6M2621 2554l3-5 3-6 3-5-2-9 3-13 2-4 2-11 5-7 4-2 6-3 8-4 10-4 4-4 3-5 4-11 4-6-7-10-3-7 2-6-6-7 1-3 10-4 9-6 11-5 0-8-1-3-5-7-3-6-4-4-7-3-6-2-10-5 0-9-7-10-2-4-7-7-10-7-6-9 7-9-1-7-1-13 8-10 8-10 3-4 2-6 5-4M2621 2554l-12 5-7 10 0 10-5 8-2 3-7 8-3 0-4-3-4-7-11-6-8-10-7-7-11-8-4-8-13-3-6 1-8 1-4-2-6-4-2-3 0-8 0-4-4-4-5-5-2-6-8-8-12 1-8-1-5-4-5-1-4 0-7-5-9-6-3-9-5-10-5-9 2-12-2-4-6-9M2621 2554l-1-9 5-6 13-1 4 1 12 2 11-1 9-2 1-4 3-5 8-2 9 0 4-2 8-3 4-4 11-6 3-3-1-6 1-7-9-8-6-6-3-1-6-3-7-10 1-7 1-6 0-4 4-4 4-2 2-4 3-3 3-7 3-12 4 0 1-4 4-13 2-3 3-4 2-10-3-8 0-3-3-8-6-8M2621 2554l3-10 7-4 7-2 5-1 2-11-3-10-1-13-3-6-3-13-5-8-4-13-3-6 0-6-7-11 0-11 5-11 0-6 6-7 0-8 4-12-3-6-3-6-2-4 5-13M2621 2554l-4-4 0-4-2-5 0-5-1-11 2-14-1-4-3-9-5-13 9-1 10-2 4 2 3 0 10-2 8-3 4-4 7-2 7-3 8 0 5-1 10-1 5 1 3 4 4 3 4 4 8 11M2621 2554l1-6-2-5-5-2-9-1-4 4-7 0-10-4-7-12-4-6-5-7 0-8-7-5-5-4 2-5 12-7 11-4 11-1 11 2 4-3 12-2 5-2 5 2 7-1 6-6 5 3 9 2 5 0 11 8 12-6 7-8 0-5 3-3 2-6 5-10-3-5-6-1-5-5-5-7-11-6M2621 2554l-10-2-11-3-8-5-9-4-4-4-11-8-10 1-8-7-6-13 5-5 9-4 6-5 1-4 6-6 8-4 6-8 2-9 1-13 4-13 4-9 10-4 4-2 7-12 1-5-1-4 3-13 3-5 5-11 6-1 11-4 6-7 5-7 7-3 5-12 2-7-1-13 6-13 4-7 0-11 0-5 0-6-6-11-6-12-3-12-3-9-9-6-10-6M2621 2554l-5-6-5-7-4-4-8-7-3-7-8-10-6-7-4-3 0-11 2-11-7-6-3-6-10-9-4-4-5-6-12 1-13 2-4 2-8 7-4 10 2 2 4 3 3 6 9 0 6 0 7-6 12-1 12 0 5 0 4-1 3-8 1-8 0-6 2-10 2-11-1-9-1-4-2-3 2-13 3-11-5-11-2-12M2621 2554l2-4 4-5 8-10 12-4 7-9 8-6 5-1 8 8 3 2 4 4 8-1 2 2 10 3 10-4 4-6 6-7 4-13 1-11 12-5 7-9 4-2 8-5 4-1 5-2 6-12 3-13 3-4 2-7-2-12 2-7 6-12 1-10 6-5 4-3 4 0 6 3 5 3 7 1 14-1 8-2-2-5M2621 2554l-10-8-5-9-1-6-5-10-2-9-10-5-2-3-8-6-9-6-13 2-3 2-6 0-10 5-7 2-4-1-6-5 1-8-2-12 3-4 10-8 1-10 2-13-5-9-4-10-13-2-13 4-5 4-6 5-9-5-8-3 0-5 2-4-2-10-5-6M2621 2554l4-5 11-6 3-8-1-7 3-9 10-9 4-13 1-8 11-7 4-5 9-9 5 0 3 5 3 7 3 6 2 6 3 9 3 0 1 6 9 6 4 1 8 12 5 9 3 13 4 2 13-1 12-6 4-5 4-10 3-9 6-9-4-9-4-6M2621 2554l6 0 4 1 5-2 6 1-1 6 1 3 4 5 5 6 3 3 3 1 13 0 6 5 10 7 7 2 10 3 10-5 9-6 12 1 4-1 8-4 3-5 3-4 2-12-1-7-1-8-1-11 4-10 8-7 2-5M2621 2554l3-8 2-5 1-8-4-5-2-12-7-5-7-8-4-1-6 3-4 0-9-4-10-3-12-4-11-9-13-4-1-15-2-13-2-7-2-6-2-10-2-5 0-5-6-8-11-9 1-7-3-5-8-3 5-10 3-7 3-9 7 0 1 10 0 12-6 7-9 4-13 2-12-3-10-4-10 0-9-1-4-2-11 0-10-8M2621 2554l6-6 8-4 6 6 8-2 2-5 3-9 2-5 8-7 9-9 2-13 0-10-1-6-3-8-8-11-2-12 1-8-9-7-10 2-5 1-12 3-8 1-11 0-1-4-1-12-4-7 1-8 1-11-1-10-3-8-1-4 1-4 0-13-2-8 3-9-1-4 1-12 4-13 4-6-4-4M2621 2554l-9-4-4-2 1-11-1-5 7-9 0-11-3-5-3-11 4-11 5-12 3-9 2-12 3-3 0-10 3-2 3-4-1-11 5-10 3-10 1-5 5-6 11-4 7-8 0-10-2-10-2-12-4-11M2621 2554l-4-3-3-8 2-12-7-9-7 0-11-3-11-2-4 1-8-1-9-5-7 1-13-1-8-2-7 10-2 6 5 10 2 3 6 5 8-3 9-2 6-2 5-1 4-1 5-4 8-7 5-10M2621 2554l1-5 8-10 9-4 11 0 11-1 9 6 2 2 9 6 4 4 10 8 11 8 3 2 4 1 6 2 11 2 7 2 8 7 9 1 5-9 6-4 2-3 5-1 11 2 5-8 1-7-7-5-3-4-1-4-14-1-6-3-3-3-6-6-4-3-9 5-7-5 7-8 5-1 9-2 4-13-13 0-8 4M2621 2554l-12-4-3-3-8-2-11-3-7 2-13 4-3-1-3-2-6 6-4 2-6 0-7-1-7-1-4-6-7-11-6-4-3-2-2-9-11-4-7-1-8-1-7-12-6-4-7-3-4 3-6 7-6 1-12-1-5-7-1-4-14-3M2621 2554l-1-5-5-7 6-10 6-10 7-1 8-5 10-6 4-5 9-8 1-7 2-10-3-8-3-5 0-9 1-5 7-4 11-4 4-1 11-6 4-1 6-6-1-4-1-13-4-9-9-10-5-9-4-11-7-9 2-2 6-4 8-6 9-4 4-6 8-12 1-13 1-5 3-9 1-13-1-5 0-3 5-13-3-9M2621 2554l-9-5 3-10 1-8 2-5 0-11-4-12 2-3 4-9-2-12 5-10 1-14 0-11-1-12 0-10 4-6 4-5 9-10 4-7 4-5 4-3 6 0-4-11-1-4 2-7 13-2 6 0 5 6 10 1 7 7 8 6 2 4 2 5 5 10 9 10 4 10 7 2M2621 2554l4-13 1-7 8-10 4-10 6-8 6-10 4-1 6 4 4-2 4 1 6-2 9 1 11 0 8 8 1 12-2 8 5 8 6 8 10 1 6 1 9-4 1-13 3-9 1-10-1-5-10-2-11 1-8 3-4 2-12 0-7-2-7-2-11-7-4-5-7-6-5-4-12-2M2621 2554l-2-3-9-2-7-2-1-10 4-2 3-4 2-7-3-7-2-4-9-9 0-8-7-10-4-6-10-6-1-10-5-8-2-11 5-9 7 10 6 4 13 0 7-8 9-4 9-7 4-3 6-1 9-2 10-2 8 6 8 5 6-1M2621 2554l9 0 5-6 0-5 3-3-1-10 3-2-3-10-3-9 2-9 4 0 4 0 7-3 11-2 10-7 9 0 3 6-3 11-7 2-7-3-6 1-12 0-5-4 1-12 8-8 5-10-9-9"/>
<path stroke="#f00" d="M2621 2554l4 0 11-5 5 0 10-7 6-9 3-5 1-13-5-3-3-10-6-5-12-4-5-2-8-2-5-3-4 1-9 5-11-2-7 11-3 7-10 8-11 3-8 8-4 8-1 4 0 9-1 12 0 12 8 2 1 4M2621 2554l6-6 2-4 0-3-5 1-5 5-2 7-4 10 0 11-9 5-6 4-5 2-10 5-10 8-5 1-5-1-10 6-2 7-6 6-4-1-8-3-8 0-3 2-6 9-9 7-9 5-5 4-6 1M2621 2554l9-10 7 0 12-4 10 0 12-4 5 0 8 5 7 10 7 8 4-1 6 0 11 6 9 1 6 6 1 4 5 11 6 10-1 12 2 6 7 6 9 10 6 11 5 0 9-5 7-6 2-7 6-10M2621 2554l-5 1-7-3-1-6-9 1-6-7-6-3-14 0-7-1-9-1-12-2-11 0-6 1-11 6-5-6-12-1-4 5 5 8-2 9-12 0-8 0-5 0-11 5-10 4-10 5-3 2-2 5-6 1-4 0M2621 2554l-5-12-3-10-6-5-10-2-4-1-11 0-2-5 2-4 0-5-4-6-1-8-3-7 2-9-2-8 1-7 0-11-11-3-8 4-1 6-1 5 0 13-3 13 3 5 0 9 3 4 0 13 4 9-2 9-1 13 0 4 4 8 1 6M2621 2554l-14-1-10-3-10-1-5-3-9 8-7 1-6 12 1 10 2 8 6 4 7 5 6-2 4 13 6 10 9-1 11 2 4-2 11 2 11 8 7 4 6 10 6 11 11 8 5 5 10-5 6-4 6-1 12-1 8-5 13 3 14-2"/>
</g>
<g transform="scale(0.5)" fill="none" stroke-width="1.9" stroke-linejoin="round">
<path stroke="#151515" d="M3555 2551l3 0 2 3 3 6-4 3-1 8-1 6-1 3-3 3 3 3 7 7 3-2 5-3 3-4 6-3 4-9-5-3-9-4-3-4 3-3 2-2 0-6-2-3-5-5-7-3-3-5-7-7-6 1-3-3-3-4 4-6M3555 2551l3-4 2-7 6-3-5-7-9-1-3-4-7-1-8-5-6-4-2-4 2-8 3-3 0-2-5-3-5 1-5 0-8-2-6-7-6-7 3-7 8-5 6-4 5-2 6 2 6 6 10-1 2-3 4-6 2-8 1-8M3555 2551l-6-6-2-3-1-4 4-5 3-3 7-1 5-6-4-5-5 0-5 3-6 8-9-1-5 5 0 4 0 4 0 7-9 4-8 5-7 4-1 3 2 2 4-3 1-2 2-11 2-6-3-5-1-3 1-5-2-9 1-5 2-3-1-5-2-4-4-8M3555 2551l7-1 7 1 2-4 7 4 5 0 5 1 6-2 3 3 4 6 3 1 6 4 5 4 4 3 2-1 4-1 4-4 4-1 3-3 4-4 5-3-1-4 1-4 4-5M3555 2551l-2-7-1-3-5-1-9-3-3 1-3 2-7-2-4 2-1 3-2 8 4 9 2 1 4 2 2 0 6-2 3-3 9-3-1 5-3-2-2-5-6-6-6-5 0-4 5-5 2-2 1-4 0-4-6-3 0-3 3-5-2-6 0-7 0-7M3555 2551l2-6 0-7 4-6 6-8 2-2 3-7-1-6 5-3 2-3 4-4 0-8 0-2 3-9-1-3-3-5-2-8 3-8-2-7-5 2-8 2-3 0-9 4M3555 2551l-2-5-3-8 0-5-4-4-3-4 0-7-5-9-1-6 0-5 0-3-3-6 4-5 6-8 4 1 1-2 3-6 0-8-8-3-3-4 1-6M3555 2551l4 0 5 3 3 6 4 3 8-1 5-5 5-1 7-6 4-3 0-6 2-9 1-8 5-5 3-1 3-3 4-8 4-4 3-2 8-3 5-1 7 0M3555 2551l-10-3-9 1-4-2-4-4-3-3-1-3-4-1-3-1-2 2-5 8 1 4-2 8-1 5 6 5 3 3 5 1 5-8 7-6 8-1 4-1 9-5 1-4 4-7 2-2-3-6-6-2-9-1-2-1M3555 2551l-1-10 3-7 5-6 2-9 4-8 3-2 5-3 3-3 5-6 5-5 1-3-1-9 4-6 0-6 5-6 2-5 1-10-3-6M3555 2551l-1-2-7-7-3-1-8-2-9 4-6 9-3 9-10 1-6 4-6 4-3 4-5 0-3-1-1-8-7-4-3-2-4-1-8-3-7 5-7 0-4-7-8-5-8-3-8-2M3555 2551l7-6 6-2 3-1 5-4 6-3 2-1 6-4 4-3 7-5 3-1-1 10 1 7-3 2-2 10-9 4-1 5 5 3 4-6 2-3 5-3 5-5 6-5 7 1 8-4 10 1 3-8 0-6 3-9M3555 2551l-4 5-8-2-6-5-2-3 0-3-3-2-1-3-2-2-4-2-5 3-7-1-6 5-4 1-4 0-1-3-4-4 0-9-1-2-4-4-2-9 3-3 1-5-6-4-2-7 1-3M3555 2551l6-7 1-6-2-10-1-7 0-6-2-9 1-10 4-7-1-5 4-7 0-4 7-5 2-3 2-8 3-6 3-2 2-3 6-3 2 0 6-9-3-3-2-4-7-2-6 1M3555 2551l4-1 7 5 3 9 8 4 2 2 1 5-4 4-9-1-2 2-6-4-10 2-7-3-7 0-5 0-8-5-9-3-3-4-6-8-1-2 1-9 0-6 6-5 6-6 4-2 4-4 2-2M3555 2551l-3-3-6 0-4-1-5-2-4-6-5-7-3-8 1-5 4-5 7-6 6-7 5-2 5-2 9-1 9 0 4 5 8 6 9-1 5 2 2 5 5 4 8-2 3-7M3555 2551l-2 9-1 3 6 7 3 5 8 4 5 5 2-2 5-7 6-5 0-8-6-4-9-5-2-3-1-5 0-3 4-5-1-10 4-6 0-10 1-7M3555 2551l-2-8 1-10 4-5 9-4 11 0 8-2 7 5 0 4-2 6-4 7-1 11-10 2-6-1-6-7 3-7-3-4-5 1-5-3-5-6-6-7 1-5 0-7-2-4 4-9 3-8-8-4-4 6-3-2-10-1-2-1-4-2-5-4-5 1-4 4-5 2M3555 2551l9 2 9 1 4 3 4 2 9-1 7-1 4-2 3-3 2-6 4-2 3-8 5-2 3-5 2-8 2-5-2-3-3-5-1-6 2-6 7-6 8-2 5-7 3-4 3-4 6 3 5 1 3 5 7 1 2 2-4 5 0 3 4 9 0 10 0 4M3555 2551l3-6 6-6-5-3-3-4-2-9 3-1 8-6-6-5-3-2-3-3-3-1-3-4 2-8 2-3 3-3-1-8 2-6 9-4M3555 2551l-2 5-4 2-10 4 0 5-3 7-7-4-5 1-9-2-2-1-6-7-3-8-1-3-3-6 5-5 2-8 1-9 2-3 3-3 7-3-2-7 4-3 6-8 5-2M3555 2551l-1 4 2 4 8 1 4 1 8-2 3-2 5-7-1-8-2-5-3-2 0-3-7-6-3-10 5-7 7-3 1-3-2-7-2-2 1-8 5-2 5 1 5 8 4 0 2-3 3-6 4-6M3555 2551l2-3 9-1 4-7 5-5 8-4 6-1 7 3 4 2 3 3 4 3 2 2 9-2 9 0 8 0 9 1 4-2 2-3 4-3M3555 2551l-5 8 1 5-3 2-9-3-3 5-7 8-1 2-9 5-2 5 3 3 8 1 8 0 4 0 8-5 3-4 1-5 2-2 3 0 6-4 5-4 2-6-3-8-2-7-4-8-4-5-9-5-5 2-2-1-5-7-10 3-1-6M3555 2551l-7-4-6 3-3 0-8-1-8-2-5-1-9-1-3-3-3-1-5 0-7-5-2-6-4-1 0-8 0-7-1-8-6-5-4-1-7-4M3555 2551l-3-2-5-5-7-3-9-1-6 5-8-5-3 0-3-1-3-3-7-5-5-2 0-10 1-3-4-8-3-2-3-1-4-3-6-4-3-2-2-5 2-5 3-1 5 0 2 0 7-4 3-4 6 0 6-5 0-3 4-4-6-7M3555 2551l-5-2-3-3-3 3-5 7-4 10 2 7 2 10 4 1 4 3 8 1 3-6 6-6 5-7 7-2 6-1 4 0 5-2 4-5 0-4-1-7-4-2M3555 2551l7-6 1-3 6-7 4-9-1-3 1-7 2-1 6-3-3-10 1-3 3-1 9 1 2-4 6-3 2-3 2-4 3-2 4-3 1-8-4-4-6 0-6 2-3 1-8 3-6-4-4-2-2-5-2-5 4-7M3555 2551l-5-6-2-6-7-6-3-4-7-5-2-1-3-3-1-8 5-8-3-1 0-3 0-6 3-6 3-7 4-3 4-7 8-4 7-5 2-5-1-4-3-4-2-9M3555 2551l3-1 6 4 1 10 0 3-1 7-5 3-7 1-6-4-1-5 0-3 1-7-2-4 0-6-4-7-1-8-2-4 0-8 3-7 0-5 0-7-1-4-2-3-3-1-8 5-3 10-5 4-7-6-1-3 2-8 6-6 6-4 0-5-5-7M3555 2551l-1 4 1 4-3 5-3 2-4 1-4 0-9 3-2 6 7 7 4-2 4 0 10-5-2-7 2-10-2-8-3-8-7-7-1-7-6-5-5-6-9-2-7 0-5-4 0-4-6-3-9-6-1-2 1-3 0-2 4-7 4-6M3555 2551l2-4 8-7 9 0 5 2 3 5 2 5 6 1 2 4-4 3-7 7-1 9-2 4-9 5-9 2-9-2-5-2-9 0-3-4-7 2-3 0-4-1-7-4-4-3 0-3 2-7 9-4 5-3 1-4 4-9-1-6-2-4 3-6 6-2 6 1M3555 2551l-2-9 0-8-1-4-1-5-6-8-2-2 1-7 1-7-3-6-4 0-6 0-5-4-2-2-5-6-7-6 2-8 1-3 1-4 2-6-6-7-1-7-2-9-3-7-2-3 0-3 1-6-2-6 3-4 8-3 3-2 9 0M3555 2551l-6-8-1-8-2-6 1-2 2-4 1-8-3-3-7 0-3-3-8 4-6-1-4-3-8-7-10 1-5-2-5-5-5 1-4 4-4 1-7-3M3555 2551l2-4-1-3 2-5-2-4-2-9-1-6 2-5 1-5 4-4 3-9 1-5 3-8 2-2 4-1 5-7-1-5-5-6-7-4-1-7 7-5 3 0 7 3 4 3 3 8 2 2-1 6 0 8-2 3M3555 2551l-7-2-10-1-8-1-4-5-2-3-5-4-7-6 5-6 2-2 9-1 3 1 5 0 4-4 5-1 4-2 5-1-1-4 2-8 1-2 2-5 5-4 2-4-7-8-6-3-4-6M3555 2551l6-7 6-10 3-4 7-6 4-1 3-4 4-4 8-4 6 3 2 7 1 7 2 8 0 5-6 7-7 0-1-5 4-7 0-5-1-6 2-7 9-1 2-1 4-1 2-3 6-2M3555 2551l-6-8 2-3 1-7 3-8 8 2 6 7 6 2 7-4 8-6 5-2 5 2 0 9-3 6-7 7-6-2-9-4-5-1-7-5-3-2-7-3-7 0-7-6-3-2-5-7-9-1-3 0M3555 2551l4-7-3-2-9 3-4-1-4-5-4-8 1-3-4-7 0-4-9-3-4-6-2-2-6 1-5 1-4 9-2 3-9 3-3-1-5-2-4 1-8 2M3555 2551l0-10 0-3 7-4-1-8-4-2-5-2-7-2-4-7 0-9-5-5-2-3-4-3-4-3-6-4-5-1-8 2-6 4-7 3-2 0-8 6-3 2-7 1-5 4-4 3-3 3-6 4-8-1M3555 2551l-2-9 1-4 8 1 7-4 3-1 9 5 2 3 9 0 6-5 3-5 6-5 2 3 7 5 3 6 4 5-1 4 3 8 3-2 7-5 5-5M3555 2551l5-7 2-3 2-7 2-5 0-6-1-6-5-4-7-3-3-2-1-9 2-3 4-3 5 2 4 0 5-1 4 3 3 8 5-4 0-8-4-6-4-7M3555 2551l3-2 2-2 4-6-1-8 7-5 6 5 6 5 9 3 3-1 4-1-6-6-6 0 0 5-6 5-4 2-4 3-9 2-7-6 0-5-7-5-4-10-1-2 4-5 1-6-1-9 5-3 6-6 6 3 4-1 2-6 2-7 6-1 2-8M3555 2551l4 0 3-8-3-2-6-2 0-9-1-10-6-6-3-4 2-8-6-6 4-6 4-1 9 0 6 3 8-2 3 2 9 1 3 2 5 0 9 1M3555 2551l1-4 4-1 1-5 0-6 1-7 3-10 6-2 3-6 4-5 4 0 7-6 3-1 1-4 1-3 5-6 10-3 6 3 2 7-1 3 2 2 6-2 3-3 5-1 6 0 0-5 2-6-2-11-4-3-2-2-4-4-1-4M3555 2551l3-5 3-2 4-1 5-3 2-3 2-3 0-10 2-3 6-3 1-8 6-7-1-4-9 2-7 0-5 1-7 3-7 2-1 5 6 8 1 2 0 3-2 6 4 3 7 0 4-5 4-5-2-8-3-6-3-7-2-5 0-2-6-4-2-4 0-9M3555 2551l5-1 6-5 3-2 7-1 5-2 2-3 5 2 2 5 4 10 7 6 3 1 8 3 5-3 9-4 4-3 2-7-2-7 3-9 0-4 2-7 4-2 3-2 6-7 5-1 8 0 7 7 7 8 7 1 5 0 8 0 4 4 9-2M3555 2551l0-4 2-3-3-7 3-4 1-7-4-5 5-1 8-5 9-1 10-3 8-2 5 3 9 0 5-8 1-5 2-4 2-1 6-2 6 3 0-9 1-8 1-7 2-5 0-4-6-8-4-4-8 3-4 2M3555 2551l8-2 5 3 10-2 3-4 0-3 2-6 5-6 6-4 6-3 6-3-3-5-2-7-1-6-3 0 0-9-2-3 6-8 3-4-1-10-3-9-3-4-8 0-8 5-8 1-2-1-8-4-6 0-3-7 5-4 2-2-3-10 1-3 1-3M3555 2551l-4 0-2 2 4 3 10-2 3-8 4-5 1-10 8-3 7-8 2-3 2-7 2-2 3-3 5-4 10 2 7 3 3 3-4 5 0 4 4 6 0 2 7 6 3 2-3 1-5-1-1 2-2 3 5 7 6 0 3-3 6-7 8 0 3-3 7-5 7-4M3555 2551l-4-6-3-4-3-3-4-6 1-4 1-7 7-6 9-2-2-4-2-5-7 1-5 4-4 1-3-5 1-3 5-8 9-3 2 2 4 0 8 0 7 6 2 4M3555 2551l3-6 1-7 7-6 5-9-1-8 0-4-3-7 1-6 4-5 9 1 2-1 6 7 2 7-2 3-5 1-2-1-7 2-3 2-9 3-7 0-6-2 0-7-5-3M3555 2551l1-6-3-4 0-3 2-6-5-8 1-3 0-5 4-3 9-3 6-6 3 0-1-4 0-5-1-7 2-4 1-7-2-6 5-5 5-7-1-4-3-6M3555 2551l6-1 10-3 5-5 5-7 2-4-1-3-2-9 0-3 2-9-6-8-2-8 2-6 3 1 3 5 2 4 4 3 6 5-1 9 1 10-2 4-4 0-6-7-3-2-4-1-3 2 1 4 2 7 5 6 2 2 6 8 5 2 8-1M3555 2551l3-3 3-6 8-4 4-9 4-6 5-7 0-8 3-5 6-5 9 0 7-3 6-3 4-2-4-5-4-5 1-4 0-8-9-4-5-1-8-6 0-7 4-1 7-3 5-3 2-2 6 0 2 1 2 3 4 4M3555 2551l-3-4-4-9-3-8 3-3 0-3 2-6 7-1 3 0 7 4 6 0 7 5 8-4 0-7-1-3 3-6 8-2 9-6 4-5 3-2 0-4-2-5-8-5-3-4 2-11-4-5-6-1-5-1-9-3M3555 2551l0-6 4-6 5-4 6 1 2-2 6-5 6-7-1-10 2-4 0-8-5-1-4 5-7-1-6 1-10 0-9-4-9-4-6-3-4-2-4-2-6 0-9-5-10-1-6 1-7-2 0-3 1-4-1-4-7-6-4-4 1-4-2-3M3555 2551l0-3-3-6-8-1-10 3-6 0-5-2 2-6 6-6 3 0 10-3 6-5 5-6 2-5 2-3 3 1 2 4 3 8-1 5-4 7-4 5-8 2-4 1-5-2 5-9 6-1-1-7 1-2M3555 2551l4-2 1-3 4-9 2-5 0-4-4-1-2 2-2 6 2 9-4 2-4 1-9-1-4-1-4-7-1-7 6-7 6-6 10 2 1 1 1 8M3555 2551l4 1 7-8 5 0 2 4 6 1 8 2 6 4 4 3 4 2 3-3 5 0 5-1 7-1 6 4 3 5 7 0 9-3 3-5 5-2 7 0 7-2 4-4 1-5 0-10-6-5-5-6-1-3-2-3-1-3-6-6M3555 2551l2-4-2-7-6-6-2-10-10 1-2-2-3-6-1-4 1-4 3-5 3 0 8-3 5-3 4-1 3-1 5 1 5 5-1 9 0 2-4 7-8 4 0-4-3-3-6-6M3555 2551l4-9 8 0 8 5 3 6 6 6 8-2 6 3-1 6 3 2 7-5-1-2 6-8 5-3 7-6 6-6 3-6 3-10 3-7 1-6 2-5 2-9"/>
<path stroke="#f00" d="M3555 2551l-2 7-1 5 4 3-1 3-3 5-2 9-6 5-3 4-1 3-7 1-6 1-8-2-11-1-3-1-5 0-2-1-6 3-4 0-6-2M3555 2551l5-4 1-2 9-3 4 0 4-3 9-2 5 3 0 6 2 5 1 9 8 5 3 6 7 5 9 6 2 3-1 9 0 7 3 7-1 9M3555 2551l-8-5-4-9-5-5-8 2-8-1-7 6-8 6-2 7 0 8 1 6-6 4-2 8-5 1-9 2-3-4-3-4-4-9 2-3 8 3M3555 2551l-4-6 0-4 6-6 2-6 2-10 3-2 3-8-5-8-6 3-3 2 1 9-2 5-1 4 3 3-2 10 1 4-3 9 5 6 5 9-2 2-3 4-3 5-1 10 5 8 1 3 1 4-1 6M3555 2551l5-3 6 7 6 6 1 4 6 4 0 7 1 6 2 5-4 4-4 5 3 9 6 2 5 0 2 3 4 9-1 6-6 9-2 7-6 6 0 4 0 10-4 7-3 7-5 6-8-4-3-3-5 7 7-2 7-2 6 5 4 4M3555 2551l1-9 0-6-7-1-2 3-6 7-2 7-2 6 4 1 4 9-3 9 7 5-5 8-8-1-5 0-4 0-4-2-5-4-2-1-4 2-1 3M3555 2551l-2-5-3-8 4-3 3 1 8 5 3 8 9 0 5 1 2-1 9-4 6 1 1 6-5 4-1 5 1 2 0 3 4 4 2 0 6 2 7 4 4-1 5 2 7 5-2 5 0 3-1 7-4 0-2 1-7 0-8-1-8-6-6-6-1-3-7-1M3555 2551l5-5 6-2 7-4 7-1 9 4 7 0 4 0 5 2 4 6 2 5 11 2 3 2 6 7 2 2 1 6 0 8-1 8 0 4-1 10 4 9 5 5 2 9M3555 2551l-6-7 0-4-2-2-5 2-5 2-3 3-4 7-1 5-5 8 1 6 7 6 6 3 6-3 7 0 7-1 9-2 6 2 4 4 3 6 5 6M3555 2551l1 10-3 6-6 3-2 4-5 5-9 1-4-1-6-5-1-3-8 3-7 4-3 5 4 5-4 5-4 2-6 6 3 7 0 5 1 8 5 9-1 7-2 1-2 8 9 6 6 2 7 3 3 3 3 4 9 6 8 7 2 6 6 6 0 5 4 5M3555 2551l-7-5-6-2-3 1-3-1-2-1-7-4-7 6-3 2-4 4-3 6 0 3 1 8 2 4 2 7-6 6-4 4-5 7-2 6M3555 2551l-7 5-5 6-2 6-5 7-1 8 0 4 0 2-4 2-5 2-9-1-6 1-5 1-1 4-2 6 2 4 7 2 4 0 6 1 4 0 10 4 4 1 8-4 7 1 9 4 4 2M3555 2551l-4 0-8-1-6 3-7 5-3 0 1 10 8 5-1 6 2 8 3 9-2 9 5 6 7 0 3-1 6 2 3 2 3 1 6-2 4 4 1 6 0 8 0 3-2 4 1 5 0 2-7 7-5 1-3 4-3 8 1 4-3 8-1 7M3555 2551l3-4 2 4 1 7 2 5 3 3 3 9-2 7 1 9 3 5 7 2 7 5 7-3 2-2 3-4-3-7-6-4-2 0-5 8-5 2-4 1 0 3-1 6-1 5 6 6 2 2M3555 2551l4 6-7 5-4 1-6 4-7 7-3 0-4 1-6 1-6 0-4 1-5 5-4 3-4 0-4 1-5 7-4 9-2 8-4 7-9 5 0 3-1 4-4 3-5 2-2 1 0 8 1 7 0 7 1 3M3555 2551l1 2 3 6 2 3-3 8 3 2 2 5 1 8 0 3 2 2 8 5 3 4 7 3 6-3 7-1 5 2 5-1 8-3 7-2 9-4 2-3-5-7 1-5 5-1 2 5 6 3 8-1 4 0 3-3M3555 2551l-6-4-4 8-2 2-1 4 3 8 2 6 1 7 3 7-1 6 1 6-4 7-8 4 1 9 3 10 2 3 6 7 2 2 3 3 3 7 3 8 2 7 0 2 1 5-6 9-8 2-4 1-6 2-7 1-3 1-2-1-9-1-2-2M3555 2551l-6-6-7 1-6 7 0 3 0 3 4 1 8 5 1 5 1 8 5 3 3 3 8-1 8-2 6-5 9-1 10 0 8-5 7-5 6-4M3555 2551l-4-2-3 0-5 1-8 5-2 3-3 1-9 2-8 4-5 0-6-6-7 1-7 5-1 3-5 0-10 1-5 3-2 2-1 2-1 4-1 4 1 3 2 8-1 5 0 6-7 5 0 5 0 7 6 5 4 2 9 4 3 6 6 8-5 8-5 1M3555 2551l5-7 2-5 9-2 7-4 6-1 6-3 7 4 3 1 4 3 4 3 4 7 1 3 2 9 0 8 7 6 5 1 4 2 7 5 6 0 4 2 7 5 2 6 7 2 6-1 4-2 1-9M3555 2551l5 0 3-4 9 1 0 3 3 8 1 4 5 2 10 3 4 2 9-1 7-4 10 4 7 2 3-2 10-2 5 4 1 3 1 7 0 4 7 1 5-1 7 1 6 8-5 9-9 3-3 0-3 1M3555 2551l3 4 1 7 7-5 7 5 6 7 1 5 4 10 5 2 8 6 4-3 4 3 3-3 3 0 2 7-1 4-8 3-2 4-3 3-6 4-8 0-6 2-3 0-4 2-2 4-2 4-5 5-1 7-2 6-9 2-2-6 2-8 0-5 1-7-2-2-8-5-9 1M3555 2551l-8 8-4 6-3 4-3 3-6 1-4 2-6 8 0 7-4 0-3 0-4-1-3-2-3-9-1-4-2-3-5-5-2-4-4-1-9 0-3-1-3-9-2-7 0-7-4-5-8-2-4 1-6 6-4 4-4 4 2 2 0 9-3 6-4 2-3 4-1 4-6 2M3555 2551l-2 3 5 8 5 5 0 5-1 9 2 10-2 3-5 3-5 6-4 5-5 6 2 7 3 8 6 5 5-1 4-1 3 0 2-1 3 0 9 0 3-2 6 6 5 1 5-4 8 4M3555 2551l0-5-1-5 3-3-5-3-6-4-7-4-6 2-2 3 1 6 6 8 3 9-4 8-2 5 5 8 3 3 0 11-3 7-3 10M3555 2551l3-1 4-1 2-1 4-1 3-5 7 0 2 3 2 4 8 5 4 4 1 4 1 10 1 7 1 3 4 6 5 5 2 8 1 2 7 1 0 10 2 5 5 2 3-2 3 8 4 0 5 9-3 7-3 6-1 9 2 3 2 1 4 5 9-6 2 3 6 8M3555 2551l-4-2-6 2-2 1-2 1-3 1-6 4-4 6-5 4-3 5-1 4-3 3-4 1-7 3-3-3-7 7-7 2-7 1 0 5 2 5-4 8 7 7 0 7 1 6-2 6 1 9-2 5-7 4 0 4 1 7-1 5-5 9-5 6-7 7-4 5-6 3-1 8M3555 2551l2-4 4-2 3 1 7 1 4 1 5 3 2 6-3 6-1 3-5 8-3 5-1 3-11-1-10 4-8 4-1 7 0 2 8 5 6 3 5 0M3555 2551l-1-4-1-5-2-5-6-6-9-1-5 3-3 3-2 1-4 0-10 3-4 1-3 4-4 2-4-5-4 4-6 3-4 1-5 1-6 5-6 4M3555 2551l3-2 3 1 3 6 9-2 10-4 6-3 3-6 3-9 10-3 8 2 5 0 2 2 0 10-1 3-4 5-4 1-1 2-5 2-7 3-3 0M3555 2551l-1-5-2-7-5-4-8 1-6 5-3 4-2 3-1 4-4 7-4 7-4 4-4 3-6 6 2 4 5 1 6-1 9 2 3-8 7 1 9 3 5 3 4 2 5 6 1 8-4 5 1 4-2 9-5 6-3 7 0 9 4 6M3555 2551l-6 2-4 3-5 4 0 4-2 7-1 4 2 4-4 7-4 1-9 4-7 4-8 6-10 2-8 7 4 6 1 8 6 1 3-1 4-7M3555 2551l2 2 2 2 1 5 0 3-7 7-2 3-4 5-5 7-1 3 1 7 3 8 1 4-6 0-3-1-7 1-6-4-2-3-1-4-3-2-9-4-7 1-6-5-10-4-1-3 5-7 5-5 6 7 4 7-3 6 0 8 1 5M3555 2551l-3 2 6 5 8 2 5-2 0-7 5-6 4-1 6 2 2-5 7-5 10 5 4 4 2 3 7 1 9 0 6 2 4 5-4 8 3 3 7 7 4-2 6-7 7-2 7-5M3555 2551l-2 1-4-2-9 2-4 5-5 4-6 5-3 0-8-5-2-5-4-3-7-4-3 2-8 4-2 5 1 9 8 2 9-3 0-4 1-3 7 2 4-3 7 0 4-1 6-4 5 6M3555 2551l-5-8 2-3 4-2 10 3 5 4-1 5-3 6-3 3-1 4-5 3-5 8-4 2-7 2-5 2-9 0-7 5-7 7-2 2-5 3-3-5 0-5 8-5 1-4M3555 2551l-8-7-8-6-7 0-8-2-6-1-4 0-9 1-3 6-6 7-3 3-8 7-6 0-3 1-5 0-9-6-4 0-3 2 0 4-7 3 3 10 1 7 4 8 2 8-1 9-3 8 0 3-3 10 2 8 2 7 8 2 5 10 5 8-4 6 0 3 2 4 3 4M3555 2551l-1 5 3 8 5 8 4 6-6 8-3 9 3 5 4 1 4 3 2 1 6 0 8-2 2-2 4-1 4-2 6-1 2 0 9 0 2 3 9-4"/>
</g>
<g transform="scale(0.5)" fill="none" stroke-width="1.9" stroke-linejoin="round">
<path stroke="#151515" d="M2622 3452l-4-3 2-4 1-5-7-10-4-2-5-5-6-4-11-10-9-10-3-7-6-12-7-1-5 0-5-3-7-4-11 5-7 3-11 0-4 0-9-1-10-2-9-5-5-14M2622 3452l6-5 6-1 6-7 8-13 2-7-10-3-12-7-7-8-14-6-5-5-7-4-9 11-7 3-14 7-8-3-6-2-15-3-6-8-1-13 2-6 7-10-1-6-9-2-8-2-8 1-12-1-12 0-10-1 0-7 2-12 2-14 10-7 6-10 9-12 10-7 7-5M2622 3452l-13-9-12-6-3-3-7-11 0-13-6-8-3-3-2-4-12-3-6 13-3 4-2 4-7 12-4 3-6 3-7 0-8 1-9-8-9-2-14-3-8-3-12-6-6-1-9 6-11-2-7-3-2-14 2-11-2-7-2-14 1-13-3-2 3-13-6-8M2622 3452l4-3 5-2 9 0 3-10 4-7 4-3 7-11-5-13-1-11 3-8-1-11-1-6-2-10 11-11-3-15-12-8-2-6 0-12 0-5 4-6 7-8-2-7 2-6M2622 3452l-7-10-8-11-3-5-7-9-7-12-4-3-10-1-13 5-10-2-5 2-5 3-8 5-2 4-3 9-9 6-6 11-6 3-3 3-10 1-12-6-2-5-6-10-2-5 4-8 3-4 3-11 5-13 1-4 2-9-11-11-5 0-9-5-8-3-9-12-13-7-3-15-9-11-13-2-8-2-8 1-8-6-2-8-5-15-4-12M2622 3452l11-6 11 0 12 8 9 7 10-6 8-4 6-5 3-4 3-11 3-4 14-3 12-2 13-6 4-4 10-12 12-6 7-3 10 4 9 7 7 3 11 5 5 3 10 3 9 6M2622 3452l4-13 3-3 10 3 6 3 2 8 11 6 14-3 6 0 4-3 7-4 8-6 6-4 12 0 12 8 10 11 15 3 5 0 5-2 5-6 2-4 11-9 4-4 8 0 8 3 11-8 6-2 4-11 3-3M2622 3452l9-3 7-8 3-6-3-5-4-5 0-5-5-16-7-6-8-4-5-7-1-16 2-8-3-7-7-11 2-8-2-4-3-16-5-3-6-4-6-10-6-10-6-14 4-4 12-10 5-3 5-4 8-5 3-2 11-11 13-8 4-6 11-5 6-4 13-9M2622 3452l-8-9-2-4-3-6-3-1-14-7-9-10 1-14 3-8 0-4 2-5 3-10 0-13 2-14 3-14 10-9 13-2 12 2 8 10 4 9 8 10 3 5 9 13 9 7 11 0 8 4 7 0 13 1 0 6 12 5 6 1 4 1 9 9 8 1 6-4 11-3 10-7 8-6 8-13 6-6 7 1 15-2 6-3 13 7 12-1 6 1 4 3 13 5 14-4 14 0M2622 3452l-2-6-2-7 1-13-1-5-13-9-5-3 0-5-4-12-2-8 4-8 5-13 5-3 10-11 5-13 3-9 3-7 9-13 11-9 10-1 10 4 14 2 8-6 10-8 14-6 10-1 1-7 4-2 9-5 11-5 8-8 4-1 7-5 3-14-1-10 3-5 1-8 7-13 11-10 4-14-1-5 1-10 4-14M2622 3452l-4-7-2-3-3-6-7-10-5-3-9-6-8-4-1-10-2-5-8-5-7 3-13-3-7-4-6-10 2-12 8-7 8-6 9-4 8-5 10 0 10 2 12 0 6-3 15 4 12 0 13 9 2 7 5 11 10 8 2 6 4 6 4 10 6 9-1 10-10 7-8 1M2622 3452l-1-7-2-6 5-14 2-10 7 2 13 4 8 3 14 6 5 10 12 12 4 6 4 8-8 10-5 1-8 1-8-3-15 2-9 11-14 9-12 7-8 0-8-1-4-3-4-2-6-1-4-7-2-9-3-6-1-12-1-7 1-8 5-6 4-7 7-9 1-8 4-11 3-3 13 1M2622 3452l-7-1 0-4-9-12-2-4-1-7-2-7 3-10-2-7 0-15 6-13 8-7 15 2 12-6 3-4 5-2 11-3 4-2 6-7 14 0 12 2 8 1 5 4 3 3 10 4 9 7 12 7 6 6 7 0 4 2 11 11 7 11 9-1 4-10 1-8 1-5 7-13 6-6 10-7M2622 3452l-5-4-4-5-5-2-8-4-11-12 2-11 1-5 6-2 13-3 7 0 5 2 13 10 2 5 5 3 3-1 16 0 14-5 6-3-2-12-1-8-9-13-5-5-3-13-6-6-3-4 1-8-2-8 2-13 3-13 2-5 3-4 5-4 6-4 6-4 7 4 6 5 11 2 8 0 13 1 6 0 8-1 4 0M2622 3452l-4 9-1 9-5 3-8 1-9 4-5 0-11-6-1-10-11-5-5-8-5-6-4-2-13-4-8-3-5-1-8 1-9-10-6-9-5-14-12-6-2-3-11-8 3-15-3-4-6-11-8-6-4-5-11-11-4-4-10-5M2622 3452l-2-4 0-5-9-5-9-3-4-4-1-4-8-10-5-9-2-7-4-12-2-7 6-12 6-4 2-11-2-7 11-9 10-9-7-10-5-12 3-7 4-16 7-4M2622 3452l0-10-9-4-11-6-3-11 3-13-2-4 1-6 1-5 2-8-1-13 5-14-2-6-5-5-7-4-16-2-13-6-12 1-14-5-13-4-7 4-14-1-15 0-7-2-10 0-9 0-6-1-13-3-6-6-1-8 3-13-5-12-1-8-5-14-1-9-7-7-6-8-5-15 1-11-5-7-1-7-9-10-6-5-4-5-12-4-14-7-13 5-4 3-13 2-14 3-7 2M2622 3452l4-7 10-1 5-7 5-4 4-4 1-9 14-5 5-9 2-7 0-5 2-6 4-12-6-8-2-8 2-10 9-12 11-10 12-7 2-10 9-11 7-6-1-10-2-9-5-5-7-10-11-5-6-11-3-8-2-10-3-9-3-8-4-13-2-8-1-5-2-9M2622 3452l9-11 7-5 4-3 4-6 3-2 6-8 7-6 11-6 2-10 6-14 6-11 8-10 10 1 13-6 14-5 11-4 7-2 14-3 8 3 4-1 9-3 16 1 13 7 5 8-6 9-4 7M2622 3452l-1-4 4-11 1-3-1-6 2-4 0-9-3-9 9-7 4-3 3-5 10-4 8-9 3-7 5-5 7-8 9-2 6-1 8 1 7-7 12-2 4-2 10-5M2622 3452l7-4 8-3 3-7-3-14-4-4-11-8-8 0-7-3-4-11 0-5-4-14 5-14 3-15 2-8 4-3 5-4 1-15-9-6-7-1-6-1-4-3 0-6 7-10 2-12 0-10-7-8-10-5-11-8-6 2-5 2-4 9-8 7-8 9-14-1-2-4-14-5-3-8-10-3-13-2-7-2-15 2-7 3-10 9-13 7-8-3-11 2-10 6M2622 3452l-4-7 7-6 7-3 3-4-1-9 0-5 2-4 14-5 9 0 7-7 3-6-1-14 0-10-1-10 3-7 8-4 2-8 3-6 2-6 6-12-1-7-3-13-2-4-2-8-5-13-5-6-2-9-5-8 4-15M2622 3452l10-11 2-9 2-7 8-3 7-13 1-7 0-4-9-7-6-1-9 1-14 1-6-6-11-8-4-4-3-10-4-6 2-13 1-5 0-5 1-13 7-11 5-11 0-5M2622 3452l-3-1-15-4-6-2-14-7-3-3-4-2-9-1-12 1-9-1-7-3-7-3-10-3-10-9-8-10-8-7-7-5-4-5-10-11 1-6 6-9-1-5-6-11-2-9-1-6-11-8-7-9-2-3-4-5-3-7 0-11-4-12-10-5 1-11-2-8-1-16 4-7-6-11-1-11-1-13-4-8M2622 3452l-3-13-6-8-2-8-2-7 4-10 5-10-6-12-5-5-3-4-12-5-8-4-7-7-6-4-6-12-4-2-13-5-3-5-8-13 1-6-3-7 8-9 4-6 5-12-1-8 2-7 0-9 6-14 3-5 5-12 5-11 3-1 8-6 7-3 11 3 13 4 16-5 6-4 6-7 13-8 6-8 2-10-3-4-7-8-1-7 8-6 6-6M2622 3452l-6-11-1-15-1-5-2-6-9-3-3-4-15-4 1-10 1-12 6-14-4-4-2-15-3-16 3-8-4-8-13-2-10 1-14-4-2-5 0-9 2-13 4-6 5 2 2 15 5 3 6 4M2622 3452l-11 0-9-5-6-5-9-2-11 0-10-7-10-1-7-13-8-6-10-5-5-4-5-3-4-4-10-11-7 1-9-4-4-3-4-6-5-11-4-2-7-15-8-11 0-12-4-12-1-6 6-9 3-6 4-7 1-6 9-2 10 4 6 9 2 7-7 7-9 2-9 6-4 6M2622 3452l0-15 1-4 14-6 5-4 12-3 8-14 7-14 6-11-1-13 3-7-3-13-3-14-4-10-8-9-15-4-3-2-4-3-7-7-7-7-6-3-10-1-16 2-8 2-12-3-10-7M2622 3452l3-9 4-10-2-5-12-8-9-8-14-1-8-4-16 2-12 5-14-5-5-2-8-11 6-13 10-5 8-9 13 3 8 5 10 1 4 1 5 2 13 3 7-9 11-8 3-5-6-14 0-15-1-5-1-10-3-17-5-1-5-1-5 0-9 3M2622 3452l1-6 12-10 1-10 2-5-3-9 6-12-1-14 3-12 4-5 6-14 4-4 2-5 5-9-2-3-4-10-1-5-8-5-14-3-12-4-8-1-11-5-7-5-8-4-6-1-10 6-6 4-8 3-6 0-12 2-7 1-13-9-5-1-13 8-3 6-16 2-6 4-2 6-3 12-6 12M2622 3452l-2-8-5-12-7 0-12 0-11 2-10 6-4 13-3 11-4 4-6 10 4 6 3 3 6 3 4-3 5 0 10-6 13-6 9-11 9-11-4-15 1-10 8-4 9-7 4-5 4-14 0-6-5-8-11-8-5-5-7-6-14-5-3 2-12 12-5 14 1 10 0 7 5 3 15 3 14-6 5 0 7 3 8 8 6 1 12 8 1 5M2622 3452l8-8 5-3 13-5 9-4 5-4 5 0 14-2 4-2 5 0 10-7 12-1 6 3 8 1 15-4 5-3 5-8 6-13 1-5 5-7-1-7-8-13 0-11-2-10 0-5M2622 3452l11 12 6 5 8-3 5 1 8 4 7 8 10 5 5 0 10-1 8-3 5 2 4 3 11 8 3 8 13-1 6-3 11-9 13-1 7 1 2-7 3-4 3-8 8-11 1-13M2622 3452l1-5 12-10 9-1 11-3 8-5 12 3 4 3 5 1 10 0 15 0 12-8-4-7 7-12 4-5 2-5 4-8 11-6 11-7 6-1 10 9 12-1 4 0 15-1 6-4 12-4 13-6 10-4 6-4 10-8 4-3 6-14 4-9 9-2 10 0 7 0 13-3 5-1 15-3 8-6 3-5 4-2 12 0 15-6 6-5 5-1 9-5-2-10M2622 3452l-2-7-5-9-11-8-15-3-7 1-8-3-8 0-13 5-9-6-3-13-5-3-12-4-10-2-12-5-7 8-7 3-10-7-5 1-5-2-10 2-11-3-10-3-4-2-13-8-4-2-9-6 0-4 0-5-1-4 5-11 5-5 5-2 9 4 3 3 10 12 4 0 4 3M2622 3452l9-5 7-7 6-6 14-1 7 1 9 7 7 13 10 8 6 7 11 8 8 12 8 11 8 6 5 4 4 3 8-6 9 2 5 5 9 10 2 6 6 11 5 13 13-2 5-4 6-2 5-2 15-1 15-4 4-3 5-13 15-6 5-12 1-14-5-2-3-11 1-12-8-9-1-5-3-4-3-6-1-12 1-10-5-14 1-6M2622 3452l2-6-3-6-6-5-2-7-1-5 0-5 3-6 2-8-2-6-1-14-2-10-3-11 0-13-3-11-6-11-12-5-11-1-6-3-4-5-2-8 8-9-3-6-3-13 4-7 8-13-2-13 1-9M2622 3452l-3-9-6-10-10-13-4-15-8-12-9-10-6-5-4-4-3-9 2-14 0-6 9-11-5-11-2-10-3-9-3-7-12-7-14 6-5 1-12 1-10-1-9-1-5-13-2-6 1-7 7-8 8-5 6-3 7-3 14-3 5-1 10 6 10 10 9 6 8 6 15 2 14-3 13-4 0-4 4-1 5-9 2-9 1-12 5-5 0-4 3-8 4-7 3-8-1-12M2622 3452l2-14-1-5-2-10 3-13 0-5-2-13 0-9-5-7-15-5-12-6-10-5-4-1-7-10-7-8-7 1-6 4-12-4-9-6-13-1-5 2-16-1-10-2-7 0-7-5-3-3-14 2-11-7-5-7-9-12-5-2-4-3-11-9-3-3-2-8 5-9 1-7 7-4 5 2 12 8 7 8 7 11-1 5 7 12-5 5-3 2-13 7-11-4-10 4-11 2M2622 3452l4-10 3-6 7-8 4-6 3-9 1-4-5-11-8-12-15-3-6-3-12-2-7-2-12-6-6 2-6 7-8 7-7 11 0 8 3 7 9 11 5 3 11 6 1 11 3 3 10 0M2622 3452l-3-10 8-10 4-4 8-13 7-6 8-6 4 3 10 8 12 7 10 8-1 5-6 3-6 9-7 3-13 1-13-4-10 2-7 1-7 1-5 4-10 3-3 4-10-4-3-3-7-9-6-12-7-5-6-11 5-5 10-6 7-14 10-11 5-6 1-4 5-7 6-8 4-8 12-10 9-2 5 4 11-6 5-14 1-5-1-8-11-2-13-2-5-1M2622 3452l5-7 3-11-2-3-11-8-10 0-7-1-10 6-5 13-4 8-12 7-14 0-13 6-6-2-9-10-4-3-4-3-9-9 0-13-7-13 0-6 3-7 6-5 5-9 5-3 7-6 5-12 4-8 8-2 11-1M2622 3452l4-5-2-8-9-7-14 2-4-2-10-12-3-6-1-11-1-10 2-9 7-12 7-8 9-12 4-8-1-6 7-7 11-7 7 7 10 8 3 4 11 4 10 5 5 2 11 8 2 4 2 5 3 16-1 10 10 5 10 8 7 7 5 0 12 2 11-2 12 2 10 1 5-4 9-3 12 5 8 1 6 0 13 2M2622 3452l7 3 6 0 12-4 9-7 11-5 10-8 6-5 4-7 7-10 1-11 3-13 12-9 9-12 1-9-7-11-6-7-5-5-3-2-8-7-6-1-6 0-7-3-11 7-3 7 4 9 4 5 6 14 0 13 1 5 0 7 7 1 12-4 7-5 1-3 8-3 5 0 10 0 14 4 12 0 15 1 6 9 10 8 12 7 8 3 5 1 12 1 10-4M2622 3452l5-9 5-12 3-10 8-13 7-9 6-6 7-10 11-4 3 0 9-14-5-11-3-6-8-12-6-5-13-2-4 1-9-3-5-8-3-4-3-3-14-6-6-12-14-3-9-10-10-10M2622 3452l-7-7-4-4-6-5-12-7-6-2-13-3-12-3-8 1-11-1-14-5-12 6-5-1-7-8-4-7-12-9-12 0-14-6-3-11 5-13 5-6 3-3 5-4 7-1 14 0 10-4 5-7 2-9-2-7-7-9-5-7-4-5-7-1-8-4-8 1-13 3-3 7-8 11-1 14-2 6-5 4-5 2-14-4-12-6-11-10-5-1-15-5-15 6-15 2-13-10-8-12M2622 3452l-4 0-9-2-14-1-12 2-5 1-7-3-3-4-3-4-4-10-5-11-6-3-12-2-7-2-14 0-11-4-8 0-9-9-9-1-11 6-10-5-5-10-5-13 5-7 5-11 1-13 4-6 7-4 5 0 12-10 11-5 15-4 5-11 10-11 0-10 5-7 4-7 7-13-3-16 1-4-1-11 3-16 5-3 8-9 6-4 15 3M2622 3452l-5-11 0-10 3-3 1-14-6-14-9-8-12-8-5-3-11-3-11-10-12 1-5 5-2 5-7 8-16 3-9 8-8 7-7 2-12 7-12 7-8-3-5 0-9 0-6-10-6-7-10-3-10 3-16 4-7 2-11-2-9 5-9-7 0-6 0-12-4-4-1-12 1-8-4-3-5-7M2622 3452l11-3 7-6-2-6 5-13 3-8 7-1 7 5 10 1 15-1 9-9 4-7 7-4 10-8 4-14 7-7 3-10 6 2 8 2 9 0 12-9 11 0 6 0 9 0 12 5 8-3 7-5 6-3 12-8 5-11 6-4 3-9 4-3 3-3 4-3 7-7 4-6 10-3 4-14-1-16-1-4-2-12 3-12-1-7 4-11 12-1 5 1 7 2 5 2M2622 3452l11-10 8-7 8-2 5-5 10-3 15-3 8-5 1-8 5-8 9-4 5-3 11-10 7-12 5-6 5-4 11-6 10-6 2-8 9-12 3-4 3-6 9-9 5-8-1-9 1-6 0-14M2622 3452l14 1 11 3 14 3 4 1 6-1 8 7 6 4 6 12 5 4 6 0 14-2 14-4 4-5 0-9 8-12 7-1 5 2 11 1 5-4 6-1 12-8 6-6 4-4-1-10 1-5-3-10-6-5-6-4-4-10 1-6 1-6 2-5 9-9 2-6 3-6 5-6 15-3 6-1 4 3 2 6-1 12-2 7 2 15-6 6-5 3-6-2-11 2-11 7-6 3M2622 3452l7-2 9 4 7 5 6 7 7 3 5 3 2 14-10 11-8 6 0 5 6 13 10 5 7 11 10 13 15 3 12 6 11 5 16 1 15-3 5-7-2-11-6-8-8-7 4-15-1-5-4-5-4-5-5-4-4-12-2-5-1-14-4-6-3-9-3-12-3-7-4-3-6-2-7-4-11-5-16 3-6 0-9 1-14 0-4 3-7 9M2622 3452l-3-8-8-7-9 2-6-1 0-5-4-6 1-7-3-6-3-9-12-6-3-4 1-7 2-16 3-11-8-12 1-8 2-10-2-7-3-8-1-7-7-5-3-8M2622 3452l6-3 2-4 5-9-1-7 0-10-4-16-1-6 5-4 2-7-1-10-2-5 0-14 2-14 2-8 1-13-2-14-6-12-11-12-3-13-4-15-5-4-3-6M2622 3452l6 5 10 5 9 8 4 4 13 7 8 1 3-5 8-14-1-5-5-7-3-12 2-6 6-10 5-13 4-10 2-14-3-7-9-12 2-12 4-7 2-9-3-6-11-11-1-14M2622 3452l9-1 4-3 11-5 11-10 10 10 6 1 10 1 11-6 11-9 3-7 6-6 1-6-3-12-2-10 0-9 8-10 2-5 0-10 6-12 1-5-1-15 10-12 1-5-7-14 0-8 2-13 6-4 14-10 4-8 9-4 11 0 4 0 15 2 14-8 2-4M2622 3452l3-9 7-12 8-5 4-5 5-2 5-4 14-6 7 1 8-3 9-12 0-11 3-4 9-12 8-9 2-6 7-11-3-8 5-8 0-9-9-12-6-3-14 4-8-1-6 7-4 7-6 10 0 14 2 4 5 8 2 4 4 4 0 10 2 15 1 6M2622 3452l-3-3-4-2-6-13 2-7 2-9 0-4-5-8-9-11-15-1-9-1-15 1-13-4-7-7-7-1-7 2-10 0-11-2-7-8-8-12-12-6-7-1-7-6-6-9-6-7-14 5-6 6-9-3-6 2-10 3-12-3-6-3-9-2-5-3-4 0-13 5-9 1-5 1-6 1-11 5-2 8 1 12 0 6-8 9-2 3-4 2M2622 3452l11 0 13-7 7 6 3 8 4 5 2 10-2 11-5 10 1 12-2 14-7 11-3 3-7 6-10-8-9-12-2-9-2-4-6-10-6-11-5-8-2-12-1-13-2-5-6-12-6-8-9-8-4-5-4-4-4-13-2-8 1-11-4-11-5-13-9-12 1-5 0-13 4-15 1-5M2622 3452l-2-10-3-2-1-7 0-8-1-10-2-11-14 2-14 4-9-1-12-3-12 5-15-4-12 1-5 2-13-5-7 1-14 0-13 7-9-1-15 5-12 2-10 7-14 2-5 0-16 1-12-4M2622 3452l6 0 11 2 6-1 10-2 6-4 5 1 7-2 11 3 3-6-5-13 10-8 5-3 4-3 7-5 2-4 2-10 2-12 2-10 3-6 3-5 1-5 4-4 4-13M2622 3452l-9-9-2-11-9-6-6-5-10-8 3-9 0-11 3-15 7-4 8-9 11-5 7-14 5-11 4-4 10-11 6-2 8 1 5 7 3 4 9 9 5 6 8 2 11 5 12 7 9 4 16 1 8-1 5-2 9-3 8 1 10-3 2-7-3-4 4-9 8-2 7-9 5-6 5 0M2622 3452l-1-4-5-11-4-8-11-9-5-6-6-14-15-5-6-1-5-10-2-9-3-6-3-10 6-11 6-9 4-4-3-14-6-9 2-13-1-11-8-8-6-5-8-5-7-3-3-3 0-5-4-10-4-4-6-2-9-11-1-5 0-15-2-4-2-5 1-11 0-15-7-5-2-13 4-12 6-11 3-2 6-6 0-8-2-7-8-8-4-1-10 0-16 2-10 2-6-1-11-10M2622 3452l12-11-2-4-9-10-7-11-6-5 8-13-1-9 7-13 5-13-8-6-10-2-6 0-7-8-6-1-8-1-7 2-11 7-9 11-11 5-9 10-8 13-2 14-4 4-7 8-12-4-3-4-6-1-13-8-8-4-5 0-12-9-4-2-4-11 7-5 13-3 9-2 7-4 6-13 14-2M2622 3452l3-3 4-6-10-10-4-4 6-15 4-5 10-11 5-8 9-3 6 1 11-6 5-2 0-6-1-5-8-5-4-4-5-5-8-12-10-5-11-7-10-3-8-4-5-4-5-8 0-5-4-9 0-6-11-11-10-5-3-7-1-6 2-5 0-6 6-10-1-9-2-5-8-7-5-13 0-8 1-12 1-4 11-12 4-14 0-11-1-7 2-6 3-12 9-9 13-6M2622 3452l7-3 6-7 15-5 13-7 5-2 15-3 7-1 11-2 4-12 1-15-2-3-3-6-6-8-6-5-1-10 4-8 3-6 3-14 14-2 7-5 14-4 6-3-2-16-1-9 7-15 0-5 0-10-1-7-1-9-6-14-5-7-9-9-7-10-1-9 9-12 11-5 6-3 11-11M2622 3452l0-6-5-6 1-4-1-8-2-6-3-12-1-5-11-11-5 6-12 1-3-13-1-3-6-6-1-6-3-3-8-12 3-11 2-9 7-13 8-10 6-2 3 2 4 3 12 6 9 10M2622 3452l-5-9-4-5-4-10 9-9 11-7 2-5 0-6-1-5 1-10-2-5-4-14-3-7 2-7 2-5 0-5-5-11-7-15-7-12 2-5-1-4 0-4 2-12 2-9 0-12 2-6 11-9 6-15 5-11 4-10 4-12 13-8 9-11 3-6 4-7-3-3 0-7M2622 3452l5-10-2-11-3-10-10-10-6-8-6-4-14-1-8-3-10-9-5-6-15-1-11 3-6 0-3 3-5 10 0 5 4 10-1 5-1 6 1 13 6 15 4 6 6-1 14-5 5-3 6-3 7-3 13 1 12 7 9-4 11-3 3-3 6-3 10-8 4-12 4-8 3-5 12 1 11 1 15 3 6 3 14 0 4-1 3-4 4-6-3-11-3-12-9-10-10-8M2622 3452l-11-9-3-8-7-7-9-8-6-7 0-5 4-8-3-4-8-13-7-13-3-7-10-8-4-1-8-3-5 2-7 4-12-6-12-5-6-10 5-6 0-15 4-8 1-9 2-12M2622 3452l0-15-4-10 3-14-1-7 1-7 9-7 11-10 3-8 7-13 5 3 5-5 7-9 2-14 2-12 3-7-5-14-5-9-3-17-1-13-3-14-9 1-5-8-7-10-2-16 2-5 8-9 7-6 5-7-3-16-5-4-10-11-9-10-4-5-5-4-9-6-7-3-5-3-5-3-2-5-3-2-10 0-5-2-4 2-13 1-11 5-13 0-15-3-2-4-6-8-6-5M2622 3452l3-4 1-4-8-11-10-11-3-6-3-9-5-10-2-8-3-11-6-8-9-2-11 3-14 0-9-2-12 4-6-1-1-4 8-14 13-6 13-6 6-6 7-3 8-9 4-4 5-4 5-4 8-8 4-10 6-14-2-13-3-7-5-11-7-10-3-15 5-13 12-5 7-9 8-11 9-8 3-6 2-8 2-14-1-7-9-10-9-6-10-12M2622 3452l-10-10-5-3-3-5-8-8-14-5-6-5-5-3-10-9-7-3-6-6-3-7-1-5 0-15-1-8 0-8-5-7-1-12 0-5-4-11-10-8-7-7-6-6-5-6-11-8-11 3M2622 3452l11-11 5-12 4-1 3-7 4-9 4-2 15-5 7-6 6-5 3-2 1-13-3-13 7-9 4-9-1-9 1-12 4-6 3-10 5-7-2-15-6-3-15 0-6-2-4-1-7-3-10-2-10-3-15-1-11-1-14-8-8-12-4-12 1-13 0-11-2-10 0-6-5-9-8-9 1-14-7-5-4-5-4-8-3-10-9-11-5-7 1-12-7-5-6-1-11 5-3 5M2622 3452l-5-2-6-4-8-14-1-8-1-9 0-12 1-6 0-6 3-15 4-10 4-8 2-9-7-7-8-8-8-14-3-8-3-6-1-5 11-5 5-3 13-7 7-6 10-6 7 2 11-5 14-1 16-1 7-2 5 0 12 5 13 7 9 2M2622 3452l0-5-3-6-1-6 0-6-13-10-7-10 2-6 3-10-1-15 9-13 4-3 2-5-1-6-10-12 6-8 0-5 0-12 4-11 11-5 13-3 4-10 6-11 0-12 2-6M2622 3452l-3-13-4-15-4-6-5-8-1-13 0-8 1-8 0-14-1-12-5-9-5-8-3-6-13-6-9-2-5-1-2-12 2-13 5-5 7-6 9-9 13-5 6-4 15-3 8-1 12 10 12 1 4 1 9 1 7-4 4 6-11 11-2 10 0 10-5 3-9-2-8-3-7-6-10-8-2-3-9-3-6 0-6 13-7 4-15 3-4 3-3 9-3 14-1 6 2 9-3 5M2622 3452l13 0 9 12 4 6 12 9 7 3 6 5 2 5 11 11 11 11 9 7 14 5 7 6 9 6 5 1 11 0 14 0 9-5 7-9-3-5-3-15 8-7 4-4 6-13 2-5 0-12-2-12-8-7-11-7-14-1-8-3-14 0-8-1-7-3-5-4-9-9M2622 3452l-3-11-3-6-1-12-4-15 1-7-3-5 0-13-7-5-6-2 2-7 3-10 4-6 2-6 1-5 2-5-2-12 6-11-5-8-9-1-14-1-7 7-14 4-3-2-4-4-7-12-7-7 12-4M2622 3452l10 5 7 6 11 5 15-5 5-6-2-16 0-9 1-7 5-13 8-3 5-1 13-6 5-2 6-5 1-8 5-4 10-10 7-5 6-9 3-9 5-14-2-5-5-5-11-7-8-6-5-15-4-3-5-2-12-5-5-12-8-5-7-8 2-12 1-7-2-4 6-13 2-9 4-11 2-9-3-8 5-5 11-10 15-3 5-4 8 0M2622 3452l1-11 5-12 6 0 10 4 6-8-2-13-10-3-10-13-4-12-1-5 2-11 8-12 6-11-1-9-5-6-5-7-12-7-4-3-7-5-1-11 2-9-1-5-2-4 0-6 7-10 8-13 7-3 7-2 4-5 1-7-3-6-4-8-1-9-1-6-3-7 4-16 6-8 8 1 8-3 7 12 3 9 14 4 3 0 3 2 15 3 6 2 4 3 7 2M2622 3452l5-10 3-7 2-15-4-14-7-11-5-12-14-6-6-5-1-16 4-10 2-11 4-13 3-12 10-8 7-6 2-9-3-8-15-2-6 2-12-11-5-3-6-11M2622 3452l-1-10 1-6-5-14-11-10 2-9 5-13-3-12-2-11-2-12 3-10-2-11-1-11 1-5 2-10 4-9 6-10 4-15 5-11 1-16-1-11 2-15 3-7-4-11-3-7-12-9-7-10 12-9 5-6M2622 3452l-5-3-6-5-5-10-4-10-11-9-6-8-6-7-5-2-9-5-4-4-13-8-4-9-2-4-1-14-3-10 3-10-1-14-2-7-2-3-9-12-8-4-8-1-7 2 0 6 0 15-11 5-12 2-14 4-7-3-13-7-7-2-8-6M2622 3452l9-13 7-7 7-10 7-6 7-10 11-10-1-7-5-2-14-4-6-5-14-2-9 6-7 3-5 2-15 3-8 1-8-6-11-10-6-12-1-13-4-6 1-5 3-7 8-6 5-1 11-1 9-5 12-1 6-7 5-5-2-14-6-12-2-13 0-8-1-6-1-11 2-13 8-10-2-4-8-12-6-12-6-10-1-12 0-7 2-10-1-6 6-1 7 0M2622 3452l-3-11-5-7-11-8-12-8-1-6-9-13-2-5-5-14-4-5-6-13-2-14-6-12-7 0-2-12-3-13 2-12 2-4 2-5 2-3 3-10 8-11 1-6 9-6 2-9-1-6-8-7-7-12-9-9-8 0-9-3-13 3-5-3-12 2-9 9-10 11-5 2-11 2-6 2-13 5-8 2-3 3-13 4M2622 3452l0-9-1-4 1-9 5-6 4-7 2-6 5-10 4-5 1-5-2-5-1-4-2-4 5-11 12-8 4-5 1-5 3-6-1-4 3-14 5-11 5-9-3-10-1-15 0-4-2-6-10-7-6-9-3-8-8-5-14-8-15-1-11-3-6-1-10-7-4-9 7-8 11-1 5 0M2622 3452l6-2 7-5 3-3 0-14 11-7 8-9 10-8 8-6 0-7-6-8-12-3-7 2-5-6 3-13-1-7-2-9-4-15 6-14 2-10 2-6 7-8 2-11-1-15 0-11 4-12 6-2 9 2 5 8 8 6 4 8-1 10-7 14 0 8-4 4"/>
<path stroke="#f00" d="M2622 3452l12 3 9 0 15-4 10 0 8 1 10-3 13-2 12-7 10-5 4-4 15 0 4-11-2-11-1-7-9 0-10 5-9 11-11 10-2 6-10 6-6 1-13 5-13 3-14-2-12 3-10 4-5 2-14 6-8 6-8 7-8 6-11 10-5 12 5 6 8 3 5 2M2622 3452l-14-8-8-3-5-6-4 0-14-5-15-4-15-2-15-2-4-2-10 1-15 0-9 3-4-4-5 1-11-1-11 4-7 4-6 4 0 6-3 9 0 6-3 14M2622 3452l7-10 4-7 4-7 3-7-5-11 0-4-3-5-9-8-7-9-9-12-12-2-15 6-10 10-9 7-5 10 1 5 12 10 14 5 9 3 14 2 11 0 9-2 3 6 6 12 9 9 15 5 8 5 13 3 8 6 7 0 4 3 9 11 3 4 15 0 4 2 10-8 4-10 2-15 13-9 11 7 4 15 3 14 1 8 9 6 6-2 8-5M2622 3452l6-7 5-6-2-13-3-7-7-4-11 3-10 0-13 7-12 5-12 0-15-2-3 7-6 8-2 5-13 1-4 4-9 8-5 2-6 7-13 5-8 2-10-4"/>
</g>
<g transform="scale(0.5)" fill="none" stroke-width="1.9" stroke-linejoin="round">
<path stroke="#151515" d="M3557 3451l-8 0-1 3-4 0-4 3-5 2-11 1-6-2-10-5-5 0-10-8-4-10-2-8-6-12-6-5-6-8 0-6 0-9 0-4 1-4-4-6-5-9-9-6-8-5 3-11M3557 3451l-6 3-11 2-5-6-9-8-3-4-3-5-11-3-3 1-6-2-5-5-5-11-2-8-1-4 4-8 2-8-1-7-2-4-6-4-10 1-6-6-14 0-6 1-3-4-4-5-7-3-7-2 1-11 3-4 6-6 2-5 9-5 11-5 1-6M3557 3451l4-11 2-4-6-4-2-7 3-8 7-11 0-10-2-4-5-9-5-6 2-12-3-10-1-10 6-4 9 0 5-1 5-4 4-4 8 1 11-1 4 2 4-2 0-5 0-12-1-11 2-7-2-8-1-6-8-9-9-4-10-6M3557 3451l5-1 7 0 7 3 10 1 4-2 8-7 11-5 7-4 5-9 12 1 9-2 5-4 6 1 5-1 7-1 3-4 1-10 1-4 4-3 0-4 2-5-6-8-2-5-6-3-8-2-12-5-2-7-3-1M3557 3451l3-4-1-3-4-6-7-6-4-4-5-6-3 1-6-5-5-2-7 2-7 2-7-6 0-11-1-11-4-5-9-7-7-9-2-7-7 0-8-2-10-7-6-1-8 0-6 3M3557 3451l4-5 0-8 0-6 1-4 3-12 8-6-3-7-6-7-1-3-8-3-7-3-8-3-3-3 2-12-7-10-1-8 1-4 2-8 0-12-2-11 4-8 6-6 2-2 2-5 5-2M3557 3451l-3-10-6-11-1-5 5-11-1-4 2-10 0-5-4-9-7-5-7 5-10 5-10 0-7 0-9 6-6-1-3-7-1-3-8-5 0-4-3-10 5-6 7-8 5-3 11-7 2-4 10 0M3557 3451l9 3 4 1 10-3-1-12-4-6-4-6-4-7 2-6 0-4 2-12 4-4 6-8 6-9 1-9 1-4 4-11 0-8-6 1-3 1-3 4-2 12-9 2-8-9 1-10-7-6-10-1-6 3-10 1-6-4-1-3M3557 3451l-2-9-1-9-4-5-12 3-11 4-12 2-7 0-3-4 4-11 3-6-4-10-8 1-6 2-12-1-7-1-3 1-6 3-8-2-5-6-7-9-6-7-7-7-6-4-5-4-4-3 2-6 1-4 1-5-9-7-8-8-2-3 5-7 2-3M3557 3451l-3 7-7 9-5 4-3 3-3 1-7 6-8-8-2-7-6-9-5-7 0-6-4-1-10-1-5-5-4-2-3-1-3-8-8-5 3-9 4-10 5-10-4-7-1-11-6-8 2-7-4-3-2-5 0-5 10-8 6-2 0-6 2-3 1-7-5-7-6-9-2-4-4-2-6-11 1-8 2-7 3-12-1-6M3557 3451l-2-6-1-3 10-8 3-2 5-10-2-12-2-8-3-4-6-11 3-8 6-5 8-8 4-11-1-7 3-5 0-4-1-7 4-9 0-4 2-4 7-6 2-9 3-6 1-9 7-11 3-6-1-5 4-10 0-7 3-4 10-7 2-9 3-4 2-4 6-1 6 2 7-1 3-2 4-3 4-2 7-10M3557 3451l-1-4-2-4-4-5 0-4 1-11-2-4 5-8 5-9 2-4 3-1 8-8 4-8-4-6-3 0-11-1-7 2-5 1-8 5-6 8 1 11 4 10 1 10 3 6 9 7 4 6 6 6M3557 3451l-1-9-4-6-2-5-5-8-2-6-7-8-4-11-4-6-3-3-4-6-4-8-5-1-8-1-12 2-9 8-10 5-10-4-10-4-4 3-13 5-4 3-1 2-5 2-4 1-9 7-8 7-6-4-8-7M3557 3451l3-10 0-6 7-3 6-2 6 1 8-6 7-2 4-7 3-9 4-5 2-5 5-4 3-9 6-9 1-6 3-12-2-8-4-7-3-3 3-10 4-6 1-11-1-7 0-6 0-3 2-5 7-2 8 0 6 2 4 3 4 2 1 4 1 5-7 5-5 5 2 8M3557 3451l3-9-5-2-10 5-4 0-11 2-3 1-11-3-4-5-4-10-1-11-1-6-9-1-10-5-5-6-6-5-10-6-7-6 1-9-4-10-8-8-10-8-10-7-1-6-4-9 0-4 4-4 12-1 5-5 10-3 4-5M3557 3451l-9 5-5 4-7 7-8-6-4-3-3 2-4 6-3 10-5 2-7 10-9 0-12-2-3-2-3-7-1-12-3-4 0-6 4-10 5-2 5-4 7-10 7-4 8-4 8-6 12-3M3557 3451l1-11 0-6-4-5 2-10 7-10 5-5 8-5 6-2 2-8 6-4 2-9 7-9 2-10-5-12 0-10-3-11-4-3-4-4-1-6 2-11-4-3-9-8-8-6-5 1-3 4-7 9-10 7-4 2-6 3-7 0-6 5-9 8-9 3-12 4-5-3-7-9-2-6-5-9 2-6 6-4 7-1 8 2 9 5 6-3 3-5M3557 3451l-2-12-3-6-10-9-4-2-1-6-4-7-3-6-3-4-3-1-4-8-2-5 3-11 1-12-9-6-2-6 0-4-6-9-5-12-7-8-2-3-2-10-2-6 0-9-3-11 2-10-5-12-4-12-7-9-1-5 0-8-7-8-6-5-6 1-10 5-1 5 0 6 2 5-3 12-1 4 2 7-6 5-7 9M3557 3451l-6-4-5-2-10 6-3 9-6 1-4 1-5-1-7 2-6 2-9-1-3-6-5-11-8-7-7-7-10-5-3-9-3-4-5-10 2-13 6-3 11 2 5 0 9-1M3557 3451l3-1 4-2-1-10 5-5 5-2 2-3 5-6 4-8-5-9-2-9-1-11 1-11 8-10 8-7 4-5 7-10 2-5-2-4-6 2-4 0-13 2-7-4-3-13 3-7 0-7-5-3-12-5-10-6-7 1-7 2-5-3-7-5-3-6-1-11-3-7-8-1 3-13 2-11 3-13 0-5 5-5 11-1 5 3 11-3M3557 3451l3-4 6-5 7-9-4-9-5-11-8 1-5 0-7 3-11-3-4 1-12-5-11-4-8 0-7-1 2-3 0-8-1-4-2-10 4-8 7 1 5 1 4 8 5 9-1 4-8 8-6 1-7-2-7-4-2-7-9-9-3-10 6-6 7-7M3557 3451l11 2 12 1 10-3 2-4-2-4-2-2-7 3-12 3-3 2-3 2-1 3-7 3-5-1-3-2-8-4-7 1-13 0-5-1-9 0-10 0-5-7-6 0-9-4-6-7-9-2-8-5 0-10 1-3 0-12 2-4 5-6 9-4 5-1 8 1 4 0 10 7 9-3 5-4 2-9M3557 3451l-10-3-4-1-6 0-3-2-8-3-11-6-7-7-1-4-2-6-2-3-12-4-5-3-5-4-12-1-7-8-9-9-3-2-3 2-8 2-9 0-10-5-6-2-5 1-6-1-5-6-6-8-9 1-3 10 6 7 2 6 8 5 9-4 5 0 2-5 5-7 5-6-4-11-1-4-5-3M3557 3451l-5-2-3-2-5 0-4-6-6-12-5-1-9-4-10-6-12-6-9 1-5 3-6 2-7-2-11 0-3 2-5 2-4-2-9 3-11-2-3-4-2-12-3-9-8-6-3-7 0-6 0-11 0-10 3-8 4-12 6-5 5-7 6-4 7-6 11-3 9-7 4-4 8-8 3-3 3-4 2-12 8-5M3557 3451l-7-5-1-5 3-5 7-5 4-2 10 7 6 4 9 7 5 0 11 4 8 0 5 1 8 0 5 4 12-4 7-6 1-5 10-5 11 3 5 2 10-6 9-2 10 0 10 0 6 0 4-1 5-4 2-6 0-10 5-5 3-3 2-5 6-2 4 0 7-2 8 1 7-2 5-2 6-1 6 0 2 6 9 4 4 6 11 3 6 11M3557 3451l7-2 7-4 6-2 9 0 6 3 7 1 8 2 10-2 2-4 5-3 3-6 3 0 8-7 0-7 6-3 4-7 3-10-3-4 3-3 4-1 10 5 9-3 4-2 6-2 11-3 7 1 11 3 10-2 6-2 8-5 3-6 0-3 1-3 2-3 12-3 2-5 10-3M3557 3451l-7-1-5 7-6-2-3 1-3-3-4-2-8 2-9-9 0-8 2-9 2-7 4-6 7-7 6-5 3-7 3-13 3-10-4-12 2-6-6-4-5-4-3-5 1-11-6-6-3-3-4-3-8-5M3557 3451l11-6 6-4 7-5 3-3 4 0 4 0 10-4 1-9 4-4-3-11 2-11-2-6-5-3-11-5-9 0-7-1 3-7 2-3 3-7 1-9 3-9-1-7-2-11 2-4 11-2 6-2 10 1 9-4 12-4 8-2M3557 3451l-11-7-11-3-7-1-12 6-8-2-7-5-1-10 12-4 8 0 2-8 0-4 3-4 3-4 5-4 4-5 2-4 6-9 9-1 7-1 7-2 6 0 4-6 6-5 8-9 6-9 5-6 0-10 6-4 4 1 11-2 7-7 12-5 2-3 4 1 10 4 6 2 11 3 5-2 3-3 4-4M3557 3451l2-7-1-5-8-9-9-1-6-10-3-1-7-10-2-7-6-10-8-6-1-4-4-3-2-8-5-12-2-5 1-4-2-6 1-6 0-8 2-11 2-4-1-6-1-4-1-5 1-8-4-6 0-9-1-12 5-6 6-5M3557 3451l-4-9-2-6-2-6 4-7 5-5-4-5-10-4-8-2-5-3-8 1-12-2-11-6-2-9-2-7 5-11 7-8 3-5 3-6-2-11-1-5 3-6 1-9 1-6 0-7-2-9 0-4-1-4-5-4-2-6-3-2-5 7-10 0-7 8-3 8-4 12 8 4 9 0 5-1 4-2 10-2 9 3 4-3 2-3 6-9 0-6M3557 3451l8 1 3-4 2-4-3-10-1-4-7-10-2-9-3-13-2-7 3-10 5-10 6-7 2-3 2-5 4-7 9-3 6 2 2 5 11 5 10 1 2-3 2-4 4-5 9-2 7-9 7-5 5-6 4-8 6-6 7-7 3-9 0-7-1-5-2-7 6-8 9 1 4-2 8-5 12-4M3557 3451l2-3 2-10-4-11-7-9-4-2-5 1-3 2-4 0-6-3-4-1-6-10-4-11-12-3-3-3-4-5 0-12-3-2-3-4-5-9 1-4-5-2-4-3-6-10-5-7-4-12-8-4-9-1-11 2M3557 3451l-4-9 0-11-2-5 4-4 4-5 9-1 8-7 5-4 1-4 3-2-9-9-2-4-2-9-4-6-7-3-2-3-5-2-4-4-8-3-5-5-5-8-1-6 7-10 2-3 3-3 3-6M3557 3451l-6-9-6-2-9-7-1-3 4-3 4-4 8-10 12-7 2-3 2-9 4-11 7-5 8 0 4-1 6-11 4-10 0-6 0-4 4-5 2-3-10-6-8-6-5-4-12-5-3 0-12 3-8 6-7-6-4-2-3-5-9-5-10-8-7 0-1-4 2-13 2-12-4-12-11-4-2-4-1-4M3557 3451l8-10 3-2 7-3 5-3 4-3 3-3 9-5 5-2 3-2 1-6 7-7 3-8 6-2 8-4 9-4 5-2 5-7-1-12 5-8 5-6 2-11 3-1 8 2 12-1 10 1 7 8 4 11 10 9 10 4M3557 3451l-4-6-7-8-6-9 1-7-5-7-4-9-2-5-4 1-4-3-8-10-6-4-5 0-7 6-10 9-2 5-3 10-3 6 4 6 6 2 4-6 5-2 5 1 6 4 6-1 11 3 8 0 9-6 8-7 9 2 11 5 6 8-2 6-8 9-3 6 1 8 1 5 7 1 7 3 7 0 3-1 6-9 11-5 7 0 8 0 6-3M3557 3451l3-6 3-2 3-3 9-5 3-4 5-3 9 2 9-2 12-4 8-7 3 1 13-3 11-5 8-5 4-2 3 0 1-4 0-7-2-7 2-10 4-11 6-5 9-4 6 2 12-5 2-2 7-2 8-3 11-3 7 2 12 3 10 1 7 3 12 4 3 3 9 3 10 2 10 4 0 4 0 8-6 6-4 2-4-2-3-3M3557 3451l9-9 1-5 3-3 4-3 6-1 11-7 3-3 9-8 3-10 7-7 1-7-3-9 0-9-5-5-11-2-13 0-10 4-8-2-1-4-3-8-8-4-2-4 4-11 11-5 6 4 11-2 7-4 7-7 7-5 3-5-3-7-2-12-4-5-3-8-1-7-5-4-5-5-7-5M3557 3451l-7-7-5-8-5-6-4-10 1-9-3-9 7-8 3-1 11-5 5 0 11 0 9 0 8 7 5 3 7-4 7 0 2-6 2-2 2-10 0-10-4-11-1-5 3-9 2-7 5-3 9-1 10 2 11 6 9 9 0 5-4 6-2 5-2 9 3 12 3 5 1 4-6 10-6 6-5 0-4-2-2-9-2-3-3-6-7-7M3557 3451l-9-1-3-2-5-4-1-10-5-3-8 0-4 3-3 3-8 8-12 2-8-2-4 0-9 1-6-5-3-1-9-5-2-5-5-8-5-4-3-4-7-11-6-10-1-6-1-6 2-6 5-11 4-6 9-7 8 1 9 3 3 7-3 5-2 12-1 12-6 5-5 3-7-6-8-3M3557 3451l-2-5-4-9-6-8-2-10-2-3-2-7-11-3-7-5-6-1-9-1-7 2-6-1-8-7 4-10-2-3-6-9-5 1-6 4-11-3 1-11-1-12-11-6-9-4-10-6-5-2-4-3-4-5-1-5 0-3 3-9 9-8-2-11 1-7 1-7 3-2 4-3 11 0 11 5 4 2 1 11M3557 3451l2 2 4 3 1 12 0 4 4 8 3 3 3 4 0 5 0 10-8 0-9 1-5-3-10-5-4-2-3-8-2-6 4-10 7-8 3-4 3-2 7-9-5-11 6-6 3-7 2-3-1-7-6-10-9-7-1-4 0-10-4-4-5-7-3-8-8-4-4 0-10 2-9 6-6 6-5 7M3557 3451l4-12 0-11 0-9 0-5-7-6-4-1-11-1-9 4-4 5-5 2-4 0-4-3-7-8-2-9-1-9-3-5-1-5-1-13 3-8 3-3 5-9 3-2 8-7 9-7 3-3 6-7 9-8 8 0 5-10 2-7 11-4 7-3 2-2 3-7 2-4 4-3-2-11 2-9 0-4M3557 3451l-3-2-8-4-8 0-10-1-9-3-7 2-10-4-6-6-5-3-5 0-5-4-6 0-5-5-3-10-7-9-8-7-1-2-2-12 0-3-9-5-6-1-13-2-7-9-8-5-3-2M3557 3451l1-9 5-11-5-9-9-8-8-3-4 2-12 2-6-2-8-2-5-3-11-3-7-7-4-1-6 0-4-2-8-4-3-2-7-5-3-5-9 0-6-6-4-6-7-9-9-5-5 3-5-2-3-11 11-6 9-3 3-3 6-2 9-2 9-6 11-4 6 11 8 8-2 8-2 6-7 7M3557 3451l-9-7-8-5-7-4-10-7-7-6-10-4-7 4-7 0-7 0-4-3-12-1-8 1-5-6-3-6-3-4-4-2-8-4 1-4-2-8-5-6-7 0-5 4-6 0-11-1-10-5-3-1M3557 3451l2-3 5-9-1-8 1-3 3-5 4-5 3-8 1-5 6-4 12-5 9-4 1-6 2-8 1-11 4-4 4-6 0-9 1-13-4-7-3-13-3-6 0-4-3-7-1-4M3557 3451l-9 3-5 2-10 6-2 7-2 4-3 7 2 6 6 3 8 2 11-6 6-2 10 8 11 0 8-2 4 2 7 1 8 0 7-1 11 1 3-3-2-8 3-7 1-3 3-5-8-5-7-4-3-3 0-10-3-4-1-8M3557 3451l6-7 2-13 0-5-1-8-8-10-2-2-5-2-4-4-11 0-9-9-6-7-5-8-4-1-11 4-5 4-4-1-5-6-6-11 1-11-7-7-5-7-1-3 0-9 3-6M3557 3451l9-7 5-9 5-9 6-10 5-11 1-8 5-3 6-11-1-7 3-7 6-3 4-6-7-9-5-9 0-5-5-12-1-5-1-4 2-3-1-9-6-1-5 1-7 3-6-4-6-2-11-2-4 2-7-1-3 2-7 8-7 9 2 11M3557 3451l0-6-5-9-4-3-3-9 4-5 9-10 7 1 6 5 10 9 8-1 5-10-5-9-4-5 1-8-1-11-5-8-6-11-6-6-4-9-4-7-1-4-4-4-11-1-5-4-4-1-4-2-4 0-5 3-3 2-6 6-8 6-5 6-1 10 7 10 3 7M3557 3451l-13-3-7-5-1-5 2-10-6-2-6 0-11-1-8 4-12-3-5-2-4-11-3-2-8-9-7-3-10-2-4-1-11-4-3-6-4-7-2-3 2-7-2-6 3-8-4-10-2-12 0-5 9-7 13 0 9 4 8 5M3557 3451l2-6 3-8 8-8 11-3 6-2 11 4 5 6 9 5 9 9 1 4 1 7 1 7-3 3-6 6-5 0-10-8-7-5-5-1-9-4-4 0-11 1-9-1-2-3-5-11-5-7-1-4 4-2 7-3 7-4 3 0 10-1 7-6 3-3 5-2 7 6 11-1 10 0 4 0 7-5 5 0 11 2 10 1M3557 3451l2-9-1-8-4-10-1-13 3-7 0-5 4-10-4-10-4 0-6 3-1 3-3 12 7 7 7 5 6 3 11-3 9-3 12 3 8 7 4 6-7 9-3 5-1 9-8 8-7-4-4-4-2-6-4-10-4-3-5 1-9-2-4 0-1 11-1 4 0 5M3557 3451l-2-9-3-4-1-4-10-5-5-11 2-7 8-7-4-12 2-3-3-13-13-1-4-5-5-1-4-7-2-8 2-10 2-7 1-10 6-8 11-2 4-4 6-10-4-12-2-4 2-8 4-1 9 3 4 3 4 6 3 2 8 1M3557 3451l3-5 3-9 9-8 5-4 3-5-1-5-5-7-2-5-8-9-4-2-11 0-7 1-5 0 0-6-1-4-9-7-7-2-4 4-9-1-7-4-4-4-2-3-4-7 1-3 3-7 10-7-2-4-8-7-4-3-7-9-6-11-2-9 10-8 2-3 6-8-1-9 3-2 11 1 6 2 3 2 9 1M3557 3451l-3-2-9 2-7-3-7-4-4-3-6-4-8 3-4 1-4 1-12-3-6-9 1-7 1-6 1-9 5-6 13 1 8 6 9 2 5-3 3-12 0-4 0-5 7-6 8-4 7 0 11-6 9-2 8-3M3557 3451l-5 0-5 0-5 4-3 7-2 6-6 4-10 6-5 6-10 5-5 2-2-3-5-10-3-4-5-2-5 1-5 1-2-2-12 2-10 2-9-4-4-8-5-6-1-3-4-10-4-10-3-3-6-8 0-8-2-9-6-7-5-7-7-2-6-5-4 2-7-1-3-3-2-3-3-3-2-7 0-5-6 0-3-1-11-3-7-4-7-5M3557 3451l-7-1-6-3-10-1-10-4-7-9-7-3-6-5-6-6-3-5 0-11-13-2-6-3-5-3-3-3-3-9-2-7-3-2-8-5-10-1-5 4-1 7 4 5 2 3 1 6M3557 3451l4-11 2-7 1-6-2-7 3-5 7-2 4-3 4-7 12-5 5-1 11 1 12-1 7-2-2 12 5 10-5 9-6 10-3 4-5 9 1 7-5 1-6-1-6 4-2 12-7 5-6 0-7 7-8-8 1-4 3-9-4-5-9 2-9-2-5-10-3 0-12 2M3557 3451l-4 2-9 1-4 1-8 3-8-1-8-2-5-6 0-5-5-10-2-3-2-4-9-7-11-6-9-3-4-3-6-10-7-7-3-10-1-10 2-5 1-6-5-7-6-3-4-3-8-4-1-7-3-3 1-9 0-9-1-9-8-4-4-2-2-4-5-7M3557 3451l-2-5-8-7-2-5-4-4-5-7 1-11 1-3 10-5 5-4 6-9 11-4 9 1 4-2 9-6 8 1 9 1 11-3 10-2 3-1 4 2 11 6 6 9 1 6-2 5-11 2-4-8-4 1-6 5-4 3-11 2-11 2-2 5-6 4M3557 3451l8 0 13 0 4-3 2-11-3-5 0-8 0-5-4-12-2-5 2-5-5-11-3-9-8-7-7 2-5 7-4 1-11 2-13 0-6-2-5-3-12 2-3 3-8 6-5-1-3 1-11-4-5-4-5-10-3-9-2-2-10-3M3557 3451l2-2 1-4 11 1 4-2 8-4 5-8 2-8 8-6 0-10 2-8 6-10 0-3 4-10-5-10-4-6-12-2-2-3-7-1-11 1-5-2 1-9-8-6-6-10M3557 3451l-5-6-3-6-2-7-2-8-6-8-5-5 1-9-1-7 0-12 6-2 10-7 8-1 4 0 11 3 7 6 3 5 5 8 12 4 8 8 12-2 4-2 3 4 3 5 5 3 6-3 4-5 3-2 4 1 4-1 4 0 4 1 7 1 7 2 11 4 7 2 8 1 6 2 4-6M3557 3451l-1-9 3-7 7-6 1-3 6-8 10-5 9-5-6-11 1-11 4-8-1-4-5-5-5-10-3-5-10-5-4 1-6-2-9-3-4-2-2 2-8 9-4 7-1 5-5 6-4 5-7 5-10 2-4-2-5 2-4 5-9-2-7-2-7-7-8-6-3-4-5-11-9-7-4-8 1-9 0-4M3557 3451l-11 5-8 3-9 7-4 4-4 1-9 5-8-9-12-1-8-3-7-8-5-3-7-9-3-13 1-10 2-4-4-9-4-4-12-2-7-3-9 2-4 6-7 8-6 7-12 2-5 2-2 4 0 11 4 6 2 3 6 1M3557 3451l-2-12-4-5-6-9-10 0-7 2-11 1-10 1-7 3-7-2-10-7-10-7-7-8-2-7 0-5 5-9 0-5-5-7-2-7 3-7-7-10 0-3-1-10-7-10 3-8 1-6-2-7-10-7-10-4-5-2-6-4-11-4-5-5-6-11-4-11-6-8-6-6-7-4-7-2-7 0-4-2-1-3M3557 3451l-12 0-10 3-6-6-7-5-4-11-1-5-5-6-9-1-6-1-6-1-10 0-7-2-5-5-5 3-12 0-3-2-8-3-6-4-4-1-9-2-11-4-9-5-4-5-3-3M3557 3451l-4-9 2-13-2-7 0-10-7-5-5-4-5-3-2-9 4-11 0-4 6-5 2-8-8-5-6 6-13 3-11-2-11-1-10-8-8-8-6-9-5-11-6-3-6-2-2-4 0-6 0-13 6-9-3-8-5-7-6-8-4-6-2-4-1-12-10-5 1-5 1-4 2-4 12 1 6 0 3-3M3557 3451l9-3 12-4 10 1 6 4 7 8 7-3 5-1 6 1 10 2 5 3 2 11-1 9 0 4-4 6-9 2-11 1-5-1-7-8-3-3-8-6-9-2-1-3-1-11 1-8 2-3-2-11 4-8 8-7 9-4 6-2 1-9-5-2-6-8-6 1-2 4-2 7M3557 3451l1-7-5-6-9 2-12 5-4 2-4 2-8-6-1-7 3-9-3-13-1-8 0-8 3-10 0-6-4-11-2-10-3-10-9-10-5-5-3-2-2-4-6-10M3557 3451l-1-4 6-2 7 0 13 2 4 3 9-2 7 2 9 4 5 1 8-2 11 3 6 0 7 7 8 9-3 7 0 10 6 9 10 2 6-6 4-8 7-8 6-10 7-9 0-5-5-8-4-5 0-7-3-11M3557 3451l-2-3-2-7-5-3-4-5-4-7-6-2-9-5-11-8-6 0-5 0-12-4-4 2-10 7-7 6-8 5-8-6-6-7 2-8 3-4 7-9-1-13 6-4 5-6 9-6 4-2 7-5 6 0 7 9 2 13 2 9-2 13-4 9-2 9-8 7-6 8-10 2M3557 3451l9-5 3-4 4-3 9 0 11-3 8-4 3-1 9-2 4 3 9 4 6-4 3-6 9-3 9-1 11-7 5-3 4 0 7-2 6-4 10-1-1-12-6-2-7-6-9 2-6 9-2 8 6 7 0 6 0 6-2 5M3557 3451l-3-9-4-6-4-10-6-4-2-5 5-8 1-12 6-6 0-6-4-9-1-9 8-9-2-6-1-5 2-6 1-6 4-9 0-12-5-10-5-8-7-9-1-9-5-11-3-11 2-4-8-4-4-5-3-2-6-9-1-3 0-11-3-7-1-4-9-5M3557 3451l-3-8 3-11 6-9 10-5 1-4-6-6-2-1-13 0-5-2-4-4-11-5-6 1-4-2-11-2-6 0-6-3-9-5-7 3-6 0-3-2-9-9-3-9-10-6-8-1-9 4-9 2-8 3-8 1-1-7-6-5-10-5-9-9-5-3-2-5-10 2-3 10-2 7"/>
<path stroke="#f00" d="M3557 3451l-3 7-1 3-3 3-3 1-3 3-3 3-6 4-11 2-2 4-6 3-7 9-8 7-11 4-7-3-9-7-5-9-7-6-8-6-4 2-2 4-5 2-3 3-7 9-9-5-2-7 1-9 3-3 6-9 11-3 10-1 3 9 2 9 5 3 9 3 7 6M3557 3451l10-3 2-4-2-6-5-3-10-2-8 1-7 5-9 7-9 0-11-1-4 3-9 6-6 2-8 1-5-3-3-6-5-3-7 0-8-2-7-3-6 0-4 1-4 3-4 3-3 6-5 6-8 10M3557 3451l-2-7 0-3-7-10-8 1-7-5-9-1-3 2-4-2-9 5-11-1-8-5-6-3-12-1-12 1-5-3-4-2-4-2-7-4-9 6-1 9 3 8 4 7-1 4-5 10-7 9-3 10-1 5 1 6 3 7 6 11 0 7-6 5-6-2-10-3-2-3-4-3-2-5-4-7-6-10-2-4-5-5-11 1M3557 3451l-4 1-10-3-7-1-4-2-12 0-5-5-9 0-3-1-3-2-9-1-6 0-7 8-9 2-6 1-7 5-7 10-3 2-4 9-4 5-2 3-4 4-6 2-7 6-8 6-4 2-8 3-8 7-4 2M3557 3451l2-8 3-9-1-4-2-5 1-4 10-7 8 2 9 6 3 4 0 6 7-3 4-1 9-4 5 8 3 4 4-3 3-2 10 1 10-5 9-3 11 4 3 4 2 4-2 8 2 9-1 7 1 6 1 11-2 5 3 7 1 9 9 7 6 4 9 3 6 4 6-1 4-6 1-7 3-12 10-4 9-7 1-4 5-9M3557 3451l5-11 7-11 10-7 4-10-2-3-6-5-6-3-7-3-7 9-4 6 0 8 1 8 1 4 3 12 2 5 7 2 4-4 6-3 10-3 10 6 5 6 12 4 7-3 11-1 6 7 5 5 3 3 8 8 8 6 3 0M3557 3451l8-5 4 2 6 5 1 3 5 7 8 5 8 5 2 8 10 5 6 1 6 2 8 5 7 3 10-3 4-5 2-3-1-4-5-4-4 2-9 0-8 1-10-8-8-5-7-2-11-1-5-2-3-4-6-2-6-2-5 0M3557 3451l5-3 7-2 4-7 8-8 5 0 3-4 3-7 4-9 9-4 8-2 5-2 7 2 10 0 5 0 4-1 7 2 11 5 7 6 7 5 11 7 2 5 0 8 2 5 4 5 5 7 2 12-5 7M3557 3451l-3-10 1-7-1-4 4-2 9-7 4-7 7-9 1-5 0-4-10-8-5-4-3-5-11 2-5-1-10-6-5-3-3-4-11 2-6 1-10 3-4 6-6 9-5 5 3 7 4 8 3 9 9 2 12 0 7 3 2 3 5 7 2 2 8 8 4 9 0 12-3 12 1 6 3 8-5 9 3 5-5 4-3 11 3 11-6 8M3557 3451l4-10 3-11 0-9 7 0 10-3 6-3 7 1 8 5 7 8 2 2 2 6 5 7 5 6 7 3 5 9 0 9-3 10-5 7-2 7-3 5-9 8-7 0-12-2-6 1-7-4M3557 3451l1-5 9-3 11 5 5 0 6 6 3 1 5 2 5 4 5 5 7 11 2 8 5 11 8 9 3 7 4 6 1 3-7 6-4 6-5 8-6 2-12-2-6 2M3557 3451l-2-4-4-4-5 3-2 1-8 5-7 3-6 4-11 3-5 0-4 2-5-2-3-2-7-7-5-7-4 2-8-3-4 3-5 8-4 6-2 8-9 6-2-1-6-7-4-6-3-9-4-4-2-4-9-7-9-1-10 0-7-9-5-7-6-2-9 2-8 3-5 2-10 3-5 3-2 6-1 12-2 10-4 7M3557 3451l-6 0-10 5-11-1-8 6-9-1-7-5-5-2-7-1-8-1-4 4-1 4-5 8-3 7-5 8 2 12-2 9-8 7-5 8-4 2-6 2-4-1-6 2-9-1-8 9-3 2-6 8-7 0-5-3 0-6-7-9-1-9 1-5 0-10 5-8M3557 3451l-9-4-2-1 5-10 7-6 7-3 4-1 10 3 7 7 0 4-4 6-6 10-1 3 1 12-4 3-1 9-6 8-3 6-3 3-9 4-7-2-7 3-6 1-7 6-5 5-5 6-5 7-6 8-4 1-7 2-6-1 0-10 3-6-1-3-5-7-1-9M3557 3451l7-3 8-3 10-5-2-4-6-8 0-4 0-5-3-6-4-1-11-4-7-2-10 3-10 0 1 10 5 7 6 6 3 10 5 9 2 4 2 5 2 11 7 3 11 2 12-2 5-6 9 0 10 5 12-1 10 1 9-7 6 0 7 8-1 12 7 10 6-3M3557 3451l-12 2-5-2-11 6-9-3-9-6-4-2-12-1-5 2-8-1-8-4-5 2-7 6-5 0-10 0-11-3-9-8-2-7-3-4-5-9-2-12-6-10-6-4-4-1-3 2 1 4 6 10 5 11 0 9-6 4-11 3-3 4-1 12-3 12-5 11 2 5"/>
</g>
<g transform="scale(0.5)" fill="none" stroke-width="1.9" stroke-linejoin="round">
<path stroke="#151515" d="M2620 2556l1-3-4-7-6-1-5-2-4-3-9-3-6-6-5-3-5-4-7-4-6-5-3-4-8-3-6-2-6-4-6-2-6-1-5-2-6-2-7-3-5-3-4-1-6 0-7-3-3-1-8-3-7-4-5 0-8-1-7-1-5 0-3-3-8 0-5 1-6 1-6 1-7-2-8 1-9 1-9 2-6 2-6 0-6 1-3 2-5 1-6-2-7-3-7-4-4-5-1-6-3-7-1-8 0-5 3-7 3-5 5 0 6-3 5-3 8-2 7-4 5-3 7-1 6-2 5-5 4-3 0-6 1-7-1-7 0-6-1-8-1-9-3-8-1-4 1-2-6-6-10-2-6-1M2619 2557l-1-2-3-2-4-3-7-3-7 0-4-2-5-4-8-2-6 0-8-3-6-1-6-2-7-4-4-1-10-2-6-3-7 0-4-3-5-2-7-1-7-2-7-3-6 0-7-1-7 2-4-1-9-1-8 1-3 1-8-2-5 1-6 0-6-2-5-1-7 0-5-2-8 1-7 2-8-2-6-2-7 0-6-3-4 1-4-4-6 1-7-1-5 1-9 0-6 1-6 0-7 2-8 3-3 4-9-3-6-4-4-3-2 5-4 8 1 9-3 7 4 5 5 3 7 0 6-1 6 0 7 1 5-3M2621 2554l4 0 6-1 5 1 5-3 6 0 9 1 8-5 6 0 5-1 5-3 9-1 5 2 6 1 7-1 7 1 6-1 6 3 5 2 7 3 5-2 6 1 5-3 6-1 4-4 5-5 5-6 3-4 3-7 6-4 7 0 7-3 8-1 8 3 4 2 6 2 6 3 6 3 3 8-1 9 4 6-3 5-4 12-2 6-1 6 4-2 4-5 5-6 9-5 7-5 5-2 4-3 3-5 7-3 9-2 4-1 5 3 5 1 3 8 3 8 2 7 3 7 1 4 0 7-6 8-7 3-5 3-6-1-8-2-6-4-5-4-3-2-6-2M2622 2555l0-4-3-3 0-7-2-6 0-3 0-6 0-4-2-7-1-9 0-5-2-8 0-8-2-8-2-6-1-9-2-8 0-6-2-5-2-7-1-6 1-5 0-4-1-5-2-10-3-8 0-5-1-7-3-7-2-4-2-4-2-5-1-8-3-4-2-7-2-7-4-4-2-10-3-6-3-5-1-3-4-7-3-6 0-6-3-6-1-7-1-8 1-7-2-7 0-8 0-9 1-6 1-5 1-4M2619 2555l2-6 1 0 1-5 3-7 1-5 1-5 2-6 3-6 0-6 3-6-2-8 0-8 2-4 4-6 1-7 3-8 1-8 2-6 4-7 1-6 2-4 6-5 0-5-1-4 3-9 4-6 2-6 2-10 4-4 5-5 2-7 5-4 3-4 1-4 1-7 3-2 2-10-1-7 2-9-1-4 2-5 0-9 2-5 4-7 6-4 9-2 7-1 7-2 9 1 6 4 5 1M2621 2550l1 1 4-3 4-2 6-5 2-3 6-3 5-3 3-5 5-5 7-5 6-5 6-3 5-3 6-6 8-3 3-2 5-4 5-5 1-5 11-4 7-7 8-3 5-1 5-3 5-1 5-1 4-2 6-4 9-1 9 0 6 2 8 2 5 0 2-2 0-3 0-5-4-3-1-7-4-7-3-8-1-4-3-7-4-6-1-5-4-6-4-7 0-7-2-8 1-4 0-7-2-3 2-7"/>
<path stroke="#f00" d="M2619 2554l-1 2 0 3-4 7-5 6-3 4-4 9-3 7-4 4-7 5-1 9-2 4-3 8-3 3-4 3-5 4-2 5-3 5-4 7-3 8-5 5-5 9-1 4-3 5-1 6M2620 2553l0 4 1 8 3 5 0 6 1 5 2 6 2 7 0 8 3 5 1 7-2 5-3 9-1 7-2 11-4 7-1 7-4 7-2 5-3 4-1 3 2-1 4-5 5-6 6-10 4-7 7-6 6-4 3-5M2620 2553l-2 2-5 2-4 3-6 0-7 3-8 4-5 0-6 2-8 3-7 2-5 2-6-1-7 1-7-1-5-1-6-2-6-4-6-1-6-4-4 0-3-1-8-2-9 0-8-4-5-3-8 2-4-2-2-4-5-6-1-13-1-8 0-4 1 0-2 1-3 5-2 5-4 6-1 6-3 8-2 11 0 7-2 7-1 6-2 6 0 3 4 4 5-5 10-8 7-2"/>
</g>
<g transform="scale(0.5)" fill="none" stroke-width="1.9" stroke-linejoin="round">
<path stroke="#151515" d="M2622 3453l-2-2-6-3-3-5-7-5-3-4-6-2-4-5-4-5-5-4-5-4-6-4-5-4-4-6-6-3-3-1-3-6-5-3-6-5-6-4-5-5-3-4-4-3-8-4-3-4-4-5-5-3-8-2-2-4-5-3-4-4-4-5-4-5-3-1-4-5-6-3-6-3-6-7-3-2-5-2-5-6-7-3-4-1-8-5-3-4-7-1-5-2-5-4-6 0-8 0-4-2-5 1-8 0-3 2-8 1-5 2-7 3-5 3-4 4-6 1-6 6-2 4-6 5-3 6-6 7-1 6-4 6-4 5-1 6-3 4-2 5-4 8-5 5-1 11 1 9-3 5-2 5-1 2M2620 3455l-1-2-5-3-3-2-3-3-3-5-7-5-7-3-4-6-4-5-5-3-6-3-6-6-6-6-4-4-6 0-7-4-6-5-7-8-2-5-8-3-5-5-5-4-6-2-3-1-6-4-4-4-6-2-8-3-8-3-6-2-5-3-8-2-5 2-6 1-4-2-6-3-9 0-5-3-6 0-3-3-7-6 0-2-3-7-5-7-2-4-2-7-5-5-6-8-4-3-3-3-4-5-7-1-4-4-7 0-6-4-6-1-7-2-4-2-8-2-8 1-9 0-6 2-8 0-6 1-3 0M2622 3451l0-1 5-4 2-3 4-3 4-4 2-3 5-6 6-5 5-5 4-5 6-6 3-6 8-5 4-5 6-5 4-3 5-10 2-4 5-4 7-2 5-4 2-4 10-4 4-5 6-4 4-4 5-1 6-5 6-6 6-4 5-3 4-3 7-3 8-3 3-3 6-3 3-5 3-2 7-3 6-2 6-2 5 0 5-3 7-3 5 0 5-3 4-1 7-1 3-4 6-2 7-5 9-2 6-4 4-3 10-3 4-5 6-2 2-1 2-5 0-11M2620 3452l0-3 5-3 2-3 2-2 0-6 0-7 3-5 4-6 3-6 1-4 4-4 1-6 4-9 7-6 1-6 1-5 1-8 3-8 2-5 7-5 2-11 2-6 3-4 2-6 3-5 3-6 2-3 2-6 3-6-1-5 3-7 1-6 5-9 4-5 1-5 3-6 4-6 0-7 1-4 2-4 2-7 2-6 5-3-1-4 3-4 2-6 2-8 1-7-2-8-2-6 1-6 3-5-2-4 0-7 1-6 1-4 1-5 3-9 4-8 3-7 3-3 4-5 4-3 5-5 3-2 6 0 5-1 6-3 8 1 6-1 8 0 7-2 4 1 5-2 9-5 6-7 4-5 3-3M2621 3452l0-2-4-5 1-2-2-6-1-6-1-5 0-8-2-9-2-4 1-7-1-11-1-3-1-7-1-7 0-9-3-5-1-7 1-5-3-6-1-7-3-6 0-8-2-7 0-6-1-6-1-6-1-7-2-5 2-6-2-6-2-8-1-5-4-6-2-5-1-1-1-8-2-8 0-7-5-7-6-7-2-3 2-5-3-4-3-2-2-4 3-8 1-6 4-10 3-5 3-4 4-4 6-6 6-1 6-2 7 1 9 3 7 1 5-2 6 2M2619 3452l3-2 4 1 6-1 5 2 5-4 7-1 8-1 4-3 6 1 6-1 5-3 7-2 6-2 9-1 5 2 9 0 7-2 6-4 7-1 6-2 7 0 8-3 3 1 4-1 5-1 5-1 14-2 7 0 6 0 6 1 7 0 4 1 4 2 5 2 6 0 4 2 7 4 8 3 7 3 9 2 5 2 7 2 4 1 6-1 2-2 0-9 1-10-1-7 1-3"/>
<path stroke="#f00" d="M2620 3453l-2 3-5 3-6 6-7 4-5 5-4 2-5 3-5 6-2 5-3 8-2 9-1 5-5 4-4 1-3 4-6 0-8 2-9 1-6-1-6-1-7-1-6-2-6-2-6-4-3-2-5-5-4-3-5-3-6-6-4-5-6-1-4-2-5-4-7-2-6-4-6-4-6-1-6-2-6-3-6-1-8 0-7 2-8-2-4 1-7-2-4 1-13-1-3-4-4 1-9 2-4 3-5 1-4 3M2619 3453l5 3 4-2 6 2 8 1 4 3 5 4 8 4 7 2 8 3 5 3 8 1 4 0 4 5 6 4 7 2 5 3 5 3 5 1 6 4 4 2 7 4 11 1 7-1 6 2 8-1 1 1 4 4-2 9-1 5-7 7-6-2-3-4-4-3-5-3-7-5-7-5-8-4-3-4-4-1"/>
</g>
<g transform="scale(0.5)" fill="none" stroke-width="1.9" stroke-linejoin="round">
<path stroke="#151515" d="M3556 3452l-3-4-3-5-2-4-1-4-2-6-4-4-4-7-1-9-4-5-2-8-6-5 0-8-4-5-3-7-4-5-2-6-2-4-1-6-1-5-3-7-5-7-3-7 0-5-1-6-1-8 0-6-1-6-4-5-1-4-3-8-5-4-4-4-6-5-2-3-4-6-7-4-6-4-4-2-6-3-7-6-6-5-7-4-4-3-3-3-4-2-2-7-4-5-5-4 0-6-2-8-1-5 2-5-2-7-1-7-1-6-2-7-4-8-2-8-4-5-1-4 1-7 2-5 4-4 4-6 4-8 3-7 5-5 4-6 2-2 2-3 4-5 8-8 7-2 6 4 4 2 7 5 4 8 5 8-1 5-7 4-7-1-7 2M3557 3449l3 1 4-2 2-4 5-4 5-2 4-1 5-6 6-4 6-4 6-3 5-5 5-6 4-1 5-5 6-4 7-4 6-5 5-3 5-5 4-4 1-6 8-6 5-3 4-3 3-5 6-4 3-6 5-5 4-3 3-3 4-2 2-4 8-5 6-3 4-3 8-2 6 3 6-4 4-4 6-1 6-3 6-2 5-5 6-3 5-5 7-4 3-3 4-3 5-2 6-3 7-1 9-4 6 1 4 1M3556 3451l4 0 2 0 6-2 5-4 3-1 7-4 6-4 5-1 8-1 8-4 5-4 7-2 6-3 5-3 9-4 8-2 5-2 7-2 6-5 3 0 7-2 6-3 5-2 8-3 6-6 5-4 6-3 5-4 7-5 5-3 5-4 5-2 5-2 6-2 5-2 3-2 7-3 8 1 9-1 7 0 6 1 8 2 3 1 5-1 4-1 9 0 8 5 4 4 8-1 8 0 9-2 5-5 5-10-1-8-5-1-6-3-7 0-3 3-6 3 2 9 0 9-1 5M3556 3452l-6 0-3 0-4 0-4-1-6-3-6-2-7-5-7 1-8-1-9 0-8 1-6-1-7-1-4-1-7-3-6 0-5-2-11-2-5-2-7-4-7-1-4-1-4-5-7-1-4-3-4 0-5-1-8-2-6-4-7-4-6-2-8-1-9 2-7 1-9 2-4 3-3 2-2 13 4 6 3 0 7-2 7-3 8-2 8-3 4-1M3557 3449l1 4 2 4 2 6 4 5 6 6 3 6 5 6 4 5 4 8 4 6-1 5 2 2 1 6-3 8 0 7-6 10-1 7-2 4-1 4 4 1 6-4 6-4 5-4"/>
<path stroke="#f00" d="M3554 3451l-2 1-4 0-7 1-3-3-7 5-8 3-5-1-8 3-8 2-7 0-6 2-6 1-5 5-7-1-7 1-7 3-4 2-5-1-6 2-7 1-4 0-6 3-8 2-8 0-8 3-7 2-7 0-4 1-6 0-3 3-1 4 7 2 8 1 7 4 6 3 3 9 3 4 4 3M3556 3453l5-2 3 3 6 3 5 2 5 4 7 6 4 0 9 4 6 3 8 1 7 1 6 3 7 1 7-2 6 2 8-1 6 1 7 0 5 0 7 3 6-2 4-3 3 1 7-6 2-7-1-11-2-8 0-4M3556 3452l-1 3-3 4-3 5-4 6-4 6-2 7-5 8-4 4-2 7-6 4-5 9-3 8-6 5-1 7-5 5-4 5-3 1-5 0-1-8-2-10-2-6"/>
</g>
<g transform="scale(0.5)" fill="none" stroke-width="1.9" stroke-linejoin="round">
<path stroke="#151515" d="M3555 2550l1-3 1-3 3-7 1-6 3-8 2-6 4-8 4-5-1-7 2-6 6-8 5-7 3-9-1-6 3-6 5-5 2-5 2-6 2-2 4-8 5-4 6-3 6-2 6 0 7 6 2 2 3 4 4 5 4 6 5 3 5 3 6 1 7 1 7 1 6 1 7-1 6 1 6-4 5-5 7-4 8-3 3-7 5-3 2-3-4 11M3552 2550l-2-4-3-4-4-4-6-6-2-6-6-7-4-6-5-4-3-4-3-5-3-4-2-7-2-6-3-6-2-4-2-7-1-7-2-5 3-8-1-5 1-8 1-7 3-5 3-10 3-8 1-7 3-5 1-4M3554 2551l3-3 3 1 8 0 6-4 9-4 6-3 7-2 5 0 9-3 5-3 7 0 6 1 8 1 6 0 9 1 6 0 6 2 6 4 6 2 2 2 3 2 5 4 9 7 3 7 3 7 5 6"/>
<path stroke="#f00" d="M3553 2552l1 3-1 6-1 6 1 6-2 9 1 6 0 10-1 6 0 7-3 8-2 8-2 5-2 6-1 4 0 8-1 7-2 7-4 9-2 4-4 9-6 2-4 4-4 4-7 2-5 2-3 3-7 3-10 2-8 5-3 2 3 8 9 6M3554 2550l3 3 4 3 4 3 7 4 8 3 6 7 5 3 8 4 6 4 6 4 3 2 4 2 6 6 8 3 2 3 5 4 6 3 5 3 5 1 7 0 8 1 7 2 7-4 4 0 5 2M3555 2551l2 5 3 1 4 3 4 6 6 4 5 4 5 7 3 3 5 5 5 6 5 5 2 4 8 5 2 5 3 7-1 8 4 3 2 6 2 4 6 5 7 4 6 6 8-3 6 4"/>
</g>
<path d="M1310.3 1077.6V1476.6M1110.8 1277.1H1509.8" stroke="#333" stroke-width="1.4" fill="none"/>
<path d="M1110.8 1077.6v5.5M1110.8 1476.6v-5.5M1110.8 1077.6h5.5M1509.8 1077.6h-5.5M1124.1 1077.6v2.8M1124.1 1476.6v-2.8M1110.8 1090.9h2.8M1509.8 1090.9h-2.8M1137.4 1077.6v2.8M1137.4 1476.6v-2.8M1110.8 1104.2h2.8M1509.8 1104.2h-2.8M1150.7 1077.6v2.8M1150.7 1476.6v-2.8M1110.8 1117.5h2.8M1509.8 1117.5h-2.8M1164.0 1077.6v2.8M1164.0 1476.6v-2.8M1110.8 1130.8h2.8M1509.8 1130.8h-2.8M1177.3 1077.6v5.5M1177.3 1476.6v-5.5M1110.8 1144.1h5.5M1509.8 1144.1h-5.5M1190.6 1077.6v2.8M1190.6 1476.6v-2.8M1110.8 1157.4h2.8M1509.8 1157.4h-2.8M1203.9 1077.6v2.8M1203.9 1476.6v-2.8M1110.8 1170.7h2.8M1509.8 1170.7h-2.8M1217.2 1077.6v2.8M1217.2 1476.6v-2.8M1110.8 1184.0h2.8M1509.8 1184.0h-2.8M1230.5 1077.6v2.8M1230.5 1476.6v-2.8M1110.8 1197.3h2.8M1509.8 1197.3h-2.8M1243.8 1077.6v5.5M1243.8 1476.6v-5.5M1110.8 1210.6h5.5M1509.8 1210.6h-5.5M1257.1 1077.6v2.8M1257.1 1476.6v-2.8M1110.8 1223.9h2.8M1509.8 1223.9h-2.8M1270.4 1077.6v2.8M1270.4 1476.6v-2.8M1110.8 1237.2h2.8M1509.8 1237.2h-2.8M1283.7 1077.6v2.8M1283.7 1476.6v-2.8M1110.8 1250.5h2.8M1509.8 1250.5h-2.8M1297.0 1077.6v2.8M1297.0 1476.6v-2.8M1110.8 1263.8h2.8M1509.8 1263.8h-2.8M1310.3 1077.6v5.5M1310.3 1476.6v-5.5M1110.8 1277.1h5.5M1509.8 1277.1h-5.5M1323.6 1077.6v2.8M1323.6 1476.6v-2.8M1110.8 1290.4h2.8M1509.8 1290.4h-2.8M1336.9 1077.6v2.8M1336.9 1476.6v-2.8M1110.8 1303.7h2.8M1509.8 1303.7h-2.8M1350.2 1077.6v2.8M1350.2 1476.6v-2.8M1110.8 1317.0h2.8M1509.8 1317.0h-2.8M1363.5 1077.6v2.8M1363.5 1476.6v-2.8M1110.8 1330.3h2.8M1509.8 1330.3h-2.8M1376.8 1077.6v5.5M1376.8 1476.6v-5.5M1110.8 1343.6h5.5M1509.8 1343.6h-5.5M1390.1 1077.6v2.8M1390.1 1476.6v-2.8M1110.8 1356.9h2.8M1509.8 1356.9h-2.8M1403.4 1077.6v2.8M1403.4 1476.6v-2.8M1110.8 1370.2h2.8M1509.8 1370.2h-2.8M1416.7 1077.6v2.8M1416.7 1476.6v-2.8M1110.8 1383.5h2.8M1509.8 1383.5h-2.8M1430.0 1077.6v2.8M1430.0 1476.6v-2.8M1110.8 1396.8h2.8M1509.8 1396.8h-2.8M1443.3 1077.6v5.5M1443.3 1476.6v-5.5M1110.8 1410.1h5.5M1509.8 1410.1h-5.5M1456.6 1077.6v2.8M1456.6 1476.6v-2.8M1110.8 1423.4h2.8M1509.8 1423.4h-2.8M1469.9 1077.6v2.8M1469.9 1476.6v-2.8M1110.8 1436.7h2.8M1509.8 1436.7h-2.8M1483.2 1077.6v2.8M1483.2 1476.6v-2.8M1110.8 1450.0h2.8M1509.8 1450.0h-2.8M1496.5 1077.6v2.8M1496.5 1476.6v-2.8M1110.8 1463.3h2.8M1509.8 1463.3h-2.8M1509.8 1077.6v5.5M1509.8 1476.6v-5.5M1110.8 1476.6h5.5M1509.8 1476.6h-5.5" stroke="#333" stroke-width="1.3" fill="none"/>
<rect x="1112.4" y="1079.2" width="395.8" height="395.8" fill="none" stroke="#c8c8c8" stroke-width="1.2"/>
<rect x="1110.8" y="1077.6" width="399.0" height="399.0" fill="none" stroke="#4a4a4a" stroke-width="1.8"/>
<text x="1093.7" y="1084.6" font-size="28.5" text-anchor="end">300</text>
<text x="1093.7" y="1150.6" font-size="28.5" text-anchor="end">200</text>
<text x="1093.7" y="1216.7" font-size="28.5" text-anchor="end">100</text>
<text x="1093.7" y="1282.7" font-size="28.5" text-anchor="end">0</text>
<text x="1093.7" y="1348.7" font-size="28.5" text-anchor="end">-100</text>
<text x="1093.7" y="1414.8" font-size="28.5" text-anchor="end">-200</text>
<text x="1093.7" y="1480.8" font-size="28.5" text-anchor="end">-300</text>
<text x="1314.8" y="1451.0" font-size="32.4" text-anchor="middle">si CTRL</text>
<path d="M1777.3 1075.9V1474.9M1577.8 1275.4H1976.8" stroke="#333" stroke-width="1.4" fill="none"/>
<path d="M1577.8 1075.9v5.5M1577.8 1474.9v-5.5M1577.8 1075.9h5.5M1976.8 1075.9h-5.5M1591.1 1075.9v2.8M1591.1 1474.9v-2.8M1577.8 1089.2h2.8M1976.8 1089.2h-2.8M1604.4 1075.9v2.8M1604.4 1474.9v-2.8M1577.8 1102.5h2.8M1976.8 1102.5h-2.8M1617.7 1075.9v2.8M1617.7 1474.9v-2.8M1577.8 1115.8h2.8M1976.8 1115.8h-2.8M1631.0 1075.9v2.8M1631.0 1474.9v-2.8M1577.8 1129.1h2.8M1976.8 1129.1h-2.8M1644.3 1075.9v5.5M1644.3 1474.9v-5.5M1577.8 1142.4h5.5M1976.8 1142.4h-5.5M1657.6 1075.9v2.8M1657.6 1474.9v-2.8M1577.8 1155.7h2.8M1976.8 1155.7h-2.8M1670.9 1075.9v2.8M1670.9 1474.9v-2.8M1577.8 1169.0h2.8M1976.8 1169.0h-2.8M1684.2 1075.9v2.8M1684.2 1474.9v-2.8M1577.8 1182.3h2.8M1976.8 1182.3h-2.8M1697.5 1075.9v2.8M1697.5 1474.9v-2.8M1577.8 1195.6h2.8M1976.8 1195.6h-2.8M1710.8 1075.9v5.5M1710.8 1474.9v-5.5M1577.8 1208.9h5.5M1976.8 1208.9h-5.5M1724.1 1075.9v2.8M1724.1 1474.9v-2.8M1577.8 1222.2h2.8M1976.8 1222.2h-2.8M1737.4 1075.9v2.8M1737.4 1474.9v-2.8M1577.8 1235.5h2.8M1976.8 1235.5h-2.8M1750.7 1075.9v2.8M1750.7 1474.9v-2.8M1577.8 1248.8h2.8M1976.8 1248.8h-2.8M1764.0 1075.9v2.8M1764.0 1474.9v-2.8M1577.8 1262.1h2.8M1976.8 1262.1h-2.8M1777.3 1075.9v5.5M1777.3 1474.9v-5.5M1577.8 1275.4h5.5M1976.8 1275.4h-5.5M1790.6 1075.9v2.8M1790.6 1474.9v-2.8M1577.8 1288.7h2.8M1976.8 1288.7h-2.8M1803.9 1075.9v2.8M1803.9 1474.9v-2.8M1577.8 1302.0h2.8M1976.8 1302.0h-2.8M1817.2 1075.9v2.8M1817.2 1474.9v-2.8M1577.8 1315.3h2.8M1976.8 1315.3h-2.8M1830.5 1075.9v2.8M1830.5 1474.9v-2.8M1577.8 1328.6h2.8M1976.8 1328.6h-2.8M1843.8 1075.9v5.5M1843.8 1474.9v-5.5M1577.8 1341.9h5.5M1976.8 1341.9h-5.5M1857.1 1075.9v2.8M1857.1 1474.9v-2.8M1577.8 1355.2h2.8M1976.8 1355.2h-2.8M1870.4 1075.9v2.8M1870.4 1474.9v-2.8M1577.8 1368.5h2.8M1976.8 1368.5h-2.8M1883.7 1075.9v2.8M1883.7 1474.9v-2.8M1577.8 1381.8h2.8M1976.8 1381.8h-2.8M1897.0 1075.9v2.8M1897.0 1474.9v-2.8M1577.8 1395.1h2.8M1976.8 1395.1h-2.8M1910.3 1075.9v5.5M1910.3 1474.9v-5.5M1577.8 1408.4h5.5M1976.8 1408.4h-5.5M1923.6 1075.9v2.8M1923.6 1474.9v-2.8M1577.8 1421.7h2.8M1976.8 1421.7h-2.8M1936.9 1075.9v2.8M1936.9 1474.9v-2.8M1577.8 1435.0h2.8M1976.8 1435.0h-2.8M1950.2 1075.9v2.8M1950.2 1474.9v-2.8M1577.8 1448.3h2.8M1976.8 1448.3h-2.8M1963.5 1075.9v2.8M1963.5 1474.9v-2.8M1577.8 1461.6h2.8M1976.8 1461.6h-2.8M1976.8 1075.9v5.5M1976.8 1474.9v-5.5M1577.8 1474.9h5.5M1976.8 1474.9h-5.5" stroke="#333" stroke-width="1.3" fill="none"/>
<rect x="1579.4" y="1077.5" width="395.8" height="395.8" fill="none" stroke="#c8c8c8" stroke-width="1.2"/>
<rect x="1577.8" y="1075.9" width="399.0" height="399.0" fill="none" stroke="#4a4a4a" stroke-width="1.8"/>
<text x="1778.5" y="1452.8" font-size="32.4" text-anchor="middle">si PPP2R1A</text>
<path d="M1311.2 1526.6V1925.6M1111.7 1726.1H1510.7" stroke="#333" stroke-width="1.4" fill="none"/>
<path d="M1111.7 1526.6v5.5M1111.7 1925.6v-5.5M1111.7 1526.6h5.5M1510.7 1526.6h-5.5M1125.0 1526.6v2.8M1125.0 1925.6v-2.8M1111.7 1539.9h2.8M1510.7 1539.9h-2.8M1138.3 1526.6v2.8M1138.3 1925.6v-2.8M1111.7 1553.2h2.8M1510.7 1553.2h-2.8M1151.6 1526.6v2.8M1151.6 1925.6v-2.8M1111.7 1566.5h2.8M1510.7 1566.5h-2.8M1164.9 1526.6v2.8M1164.9 1925.6v-2.8M1111.7 1579.8h2.8M1510.7 1579.8h-2.8M1178.2 1526.6v5.5M1178.2 1925.6v-5.5M1111.7 1593.1h5.5M1510.7 1593.1h-5.5M1191.5 1526.6v2.8M1191.5 1925.6v-2.8M1111.7 1606.4h2.8M1510.7 1606.4h-2.8M1204.8 1526.6v2.8M1204.8 1925.6v-2.8M1111.7 1619.7h2.8M1510.7 1619.7h-2.8M1218.1 1526.6v2.8M1218.1 1925.6v-2.8M1111.7 1633.0h2.8M1510.7 1633.0h-2.8M1231.4 1526.6v2.8M1231.4 1925.6v-2.8M1111.7 1646.3h2.8M1510.7 1646.3h-2.8M1244.7 1526.6v5.5M1244.7 1925.6v-5.5M1111.7 1659.6h5.5M1510.7 1659.6h-5.5M1258.0 1526.6v2.8M1258.0 1925.6v-2.8M1111.7 1672.9h2.8M1510.7 1672.9h-2.8M1271.3 1526.6v2.8M1271.3 1925.6v-2.8M1111.7 1686.2h2.8M1510.7 1686.2h-2.8M1284.6 1526.6v2.8M1284.6 1925.6v-2.8M1111.7 1699.5h2.8M1510.7 1699.5h-2.8M1297.9 1526.6v2.8M1297.9 1925.6v-2.8M1111.7 1712.8h2.8M1510.7 1712.8h-2.8M1311.2 1526.6v5.5M1311.2 1925.6v-5.5M1111.7 1726.1h5.5M1510.7 1726.1h-5.5M1324.5 1526.6v2.8M1324.5 1925.6v-2.8M1111.7 1739.4h2.8M1510.7 1739.4h-2.8M1337.8 1526.6v2.8M1337.8 1925.6v-2.8M1111.7 1752.7h2.8M1510.7 1752.7h-2.8M1351.1 1526.6v2.8M1351.1 1925.6v-2.8M1111.7 1766.0h2.8M1510.7 1766.0h-2.8M1364.4 1526.6v2.8M1364.4 1925.6v-2.8M1111.7 1779.3h2.8M1510.7 1779.3h-2.8M1377.7 1526.6v5.5M1377.7 1925.6v-5.5M1111.7 1792.6h5.5M1510.7 1792.6h-5.5M1391.0 1526.6v2.8M1391.0 1925.6v-2.8M1111.7 1805.9h2.8M1510.7 1805.9h-2.8M1404.3 1526.6v2.8M1404.3 1925.6v-2.8M1111.7 1819.2h2.8M1510.7 1819.2h-2.8M1417.6 1526.6v2.8M1417.6 1925.6v-2.8M1111.7 1832.5h2.8M1510.7 1832.5h-2.8M1430.9 1526.6v2.8M1430.9 1925.6v-2.8M1111.7 1845.8h2.8M1510.7 1845.8h-2.8M1444.2 1526.6v5.5M1444.2 1925.6v-5.5M1111.7 1859.1h5.5M1510.7 1859.1h-5.5M1457.5 1526.6v2.8M1457.5 1925.6v-2.8M1111.7 1872.4h2.8M1510.7 1872.4h-2.8M1470.8 1526.6v2.8M1470.8 1925.6v-2.8M1111.7 1885.7h2.8M1510.7 1885.7h-2.8M1484.1 1526.6v2.8M1484.1 1925.6v-2.8M1111.7 1899.0h2.8M1510.7 1899.0h-2.8M1497.4 1526.6v2.8M1497.4 1925.6v-2.8M1111.7 1912.3h2.8M1510.7 1912.3h-2.8M1510.7 1526.6v5.5M1510.7 1925.6v-5.5M1111.7 1925.6h5.5M1510.7 1925.6h-5.5" stroke="#333" stroke-width="1.3" fill="none"/>
<rect x="1113.3" y="1528.2" width="395.8" height="395.8" fill="none" stroke="#c8c8c8" stroke-width="1.2"/>
<rect x="1111.7" y="1526.6" width="399.0" height="399.0" fill="none" stroke="#4a4a4a" stroke-width="1.8"/>
<text x="1096.7" y="1537.9" font-size="28.5" text-anchor="end">300</text>
<text x="1096.7" y="1603.9" font-size="28.5" text-anchor="end">200</text>
<text x="1096.7" y="1669.9" font-size="28.5" text-anchor="end">100</text>
<text x="1096.7" y="1735.9" font-size="28.5" text-anchor="end">0</text>
<text x="1096.7" y="1801.9" font-size="28.5" text-anchor="end">-100</text>
<text x="1096.7" y="1867.9" font-size="28.5" text-anchor="end">-200</text>
<text x="1096.7" y="1933.9" font-size="28.5" text-anchor="end">-300</text>
<text x="1111.4" y="1965.4" font-size="28.5" text-anchor="middle">-300</text>
<text x="1177.4" y="1965.4" font-size="28.5" text-anchor="middle">-200</text>
<text x="1243.4" y="1965.4" font-size="28.5" text-anchor="middle">-100</text>
<text x="1309.4" y="1965.4" font-size="28.5" text-anchor="middle">0</text>
<text x="1375.4" y="1965.4" font-size="28.5" text-anchor="middle">100</text>
<text x="1441.4" y="1965.4" font-size="28.5" text-anchor="middle">200</text>
<text x="1507.4" y="1965.4" font-size="28.5" text-anchor="middle">300</text>
<text x="1309.5" y="1906.0" font-size="32.4" text-anchor="middle">si NHSL1</text>
<path d="M1778.5 1526.0V1925.0M1579.0 1725.5H1978.0" stroke="#333" stroke-width="1.4" fill="none"/>
<path d="M1579.0 1526.0v5.5M1579.0 1925.0v-5.5M1579.0 1526.0h5.5M1978.0 1526.0h-5.5M1592.3 1526.0v2.8M1592.3 1925.0v-2.8M1579.0 1539.3h2.8M1978.0 1539.3h-2.8M1605.6 1526.0v2.8M1605.6 1925.0v-2.8M1579.0 1552.6h2.8M1978.0 1552.6h-2.8M1618.9 1526.0v2.8M1618.9 1925.0v-2.8M1579.0 1565.9h2.8M1978.0 1565.9h-2.8M1632.2 1526.0v2.8M1632.2 1925.0v-2.8M1579.0 1579.2h2.8M1978.0 1579.2h-2.8M1645.5 1526.0v5.5M1645.5 1925.0v-5.5M1579.0 1592.5h5.5M1978.0 1592.5h-5.5M1658.8 1526.0v2.8M1658.8 1925.0v-2.8M1579.0 1605.8h2.8M1978.0 1605.8h-2.8M1672.1 1526.0v2.8M1672.1 1925.0v-2.8M1579.0 1619.1h2.8M1978.0 1619.1h-2.8M1685.4 1526.0v2.8M1685.4 1925.0v-2.8M1579.0 1632.4h2.8M1978.0 1632.4h-2.8M1698.7 1526.0v2.8M1698.7 1925.0v-2.8M1579.0 1645.7h2.8M1978.0 1645.7h-2.8M1712.0 1526.0v5.5M1712.0 1925.0v-5.5M1579.0 1659.0h5.5M1978.0 1659.0h-5.5M1725.3 1526.0v2.8M1725.3 1925.0v-2.8M1579.0 1672.3h2.8M1978.0 1672.3h-2.8M1738.6 1526.0v2.8M1738.6 1925.0v-2.8M1579.0 1685.6h2.8M1978.0 1685.6h-2.8M1751.9 1526.0v2.8M1751.9 1925.0v-2.8M1579.0 1698.9h2.8M1978.0 1698.9h-2.8M1765.2 1526.0v2.8M1765.2 1925.0v-2.8M1579.0 1712.2h2.8M1978.0 1712.2h-2.8M1778.5 1526.0v5.5M1778.5 1925.0v-5.5M1579.0 1725.5h5.5M1978.0 1725.5h-5.5M1791.8 1526.0v2.8M1791.8 1925.0v-2.8M1579.0 1738.8h2.8M1978.0 1738.8h-2.8M1805.1 1526.0v2.8M1805.1 1925.0v-2.8M1579.0 1752.1h2.8M1978.0 1752.1h-2.8M1818.4 1526.0v2.8M1818.4 1925.0v-2.8M1579.0 1765.4h2.8M1978.0 1765.4h-2.8M1831.7 1526.0v2.8M1831.7 1925.0v-2.8M1579.0 1778.7h2.8M1978.0 1778.7h-2.8M1845.0 1526.0v5.5M1845.0 1925.0v-5.5M1579.0 1792.0h5.5M1978.0 1792.0h-5.5M1858.3 1526.0v2.8M1858.3 1925.0v-2.8M1579.0 1805.3h2.8M1978.0 1805.3h-2.8M1871.6 1526.0v2.8M1871.6 1925.0v-2.8M1579.0 1818.6h2.8M1978.0 1818.6h-2.8M1884.9 1526.0v2.8M1884.9 1925.0v-2.8M1579.0 1831.9h2.8M1978.0 1831.9h-2.8M1898.2 1526.0v2.8M1898.2 1925.0v-2.8M1579.0 1845.2h2.8M1978.0 1845.2h-2.8M1911.5 1526.0v5.5M1911.5 1925.0v-5.5M1579.0 1858.5h5.5M1978.0 1858.5h-5.5M1924.8 1526.0v2.8M1924.8 1925.0v-2.8M1579.0 1871.8h2.8M1978.0 1871.8h-2.8M1938.1 1526.0v2.8M1938.1 1925.0v-2.8M1579.0 1885.1h2.8M1978.0 1885.1h-2.8M1951.4 1526.0v2.8M1951.4 1925.0v-2.8M1579.0 1898.4h2.8M1978.0 1898.4h-2.8M1964.7 1526.0v2.8M1964.7 1925.0v-2.8M1579.0 1911.7h2.8M1978.0 1911.7h-2.8M1978.0 1526.0v5.5M1978.0 1925.0v-5.5M1579.0 1925.0h5.5M1978.0 1925.0h-5.5" stroke="#333" stroke-width="1.3" fill="none"/>
<rect x="1580.6" y="1527.6" width="395.8" height="395.8" fill="none" stroke="#c8c8c8" stroke-width="1.2"/>
<rect x="1579.0" y="1526.0" width="399.0" height="399.0" fill="none" stroke="#4a4a4a" stroke-width="1.8"/>
<text x="1578.7" y="1965.4" font-size="28.5" text-anchor="middle">-300</text>
<text x="1644.7" y="1965.4" font-size="28.5" text-anchor="middle">-200</text>
<text x="1710.7" y="1965.4" font-size="28.5" text-anchor="middle">-100</text>
<text x="1776.7" y="1965.4" font-size="28.5" text-anchor="middle">0</text>
<text x="1842.7" y="1965.4" font-size="28.5" text-anchor="middle">100</text>
<text x="1908.7" y="1965.4" font-size="28.5" text-anchor="middle">200</text>
<text x="1974.7" y="1965.4" font-size="28.5" text-anchor="middle">300</text>
<text x="1778.0" y="1906.0" font-size="32.4" text-anchor="middle">si PPP2R1A &amp; NHSL1</text>
</svg>
</body></html>
